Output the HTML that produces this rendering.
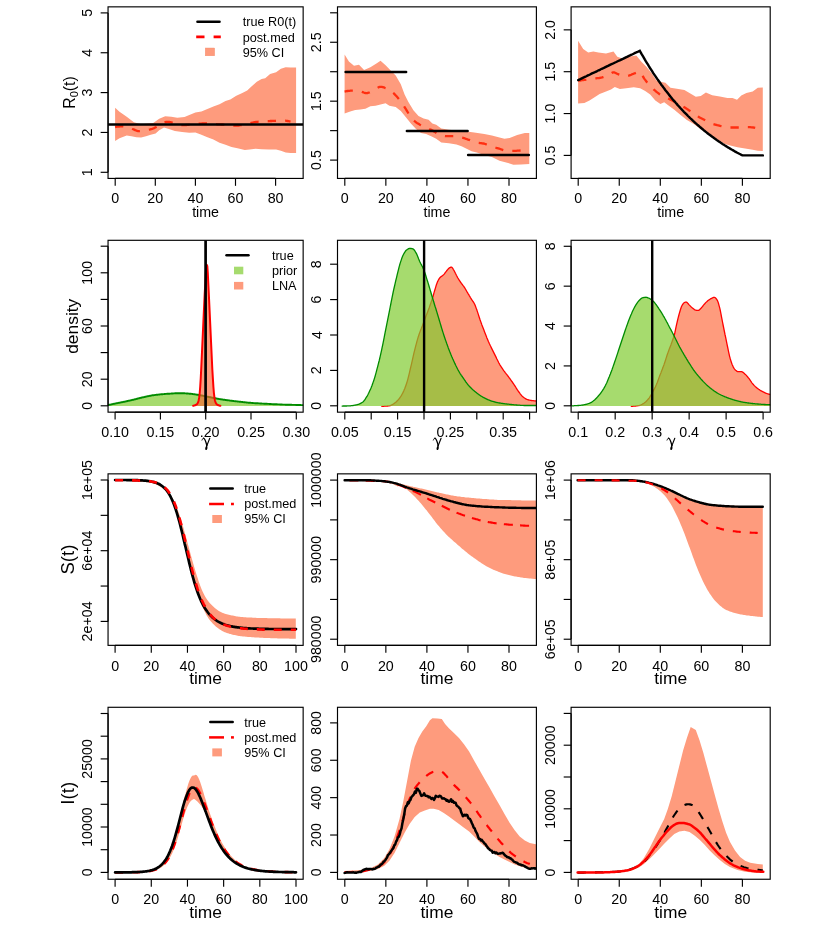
<!DOCTYPE html>
<html><head><meta charset="utf-8"><title>SIR inference plots</title>
<style>html,body{margin:0;padding:0;background:#fff;}body{width:830px;height:934px;overflow:hidden;font-family:"Liberation Sans",sans-serif;}svg{display:block;will-change:transform;}</style>
</head><body>
<svg width="830" height="934" viewBox="0 0 830 934">
<rect width="830" height="934" fill="#fff"/>
<defs>
<clipPath id="c00"><rect x="108.05" y="6.85" width="195.10" height="171.58"/></clipPath>
<clipPath id="c10"><rect x="108.05" y="240.30" width="195.10" height="171.87"/></clipPath>
<clipPath id="c20"><rect x="108.05" y="473.85" width="195.10" height="171.51"/></clipPath>
<clipPath id="c30"><rect x="108.05" y="707.29" width="195.10" height="171.96"/></clipPath>
<clipPath id="c01"><rect x="337.50" y="6.85" width="198.90" height="171.58"/></clipPath>
<clipPath id="c11"><rect x="337.50" y="240.30" width="198.90" height="171.87"/></clipPath>
<clipPath id="c21"><rect x="337.50" y="473.85" width="198.90" height="171.51"/></clipPath>
<clipPath id="c31"><rect x="337.50" y="707.29" width="198.90" height="171.96"/></clipPath>
<clipPath id="c02"><rect x="571.10" y="6.85" width="199.10" height="171.58"/></clipPath>
<clipPath id="c12"><rect x="571.10" y="240.30" width="199.10" height="171.87"/></clipPath>
<clipPath id="c22"><rect x="571.10" y="473.85" width="199.10" height="171.51"/></clipPath>
<clipPath id="c32"><rect x="571.10" y="707.29" width="199.10" height="171.96"/></clipPath>
</defs>
<g clip-path="url(#c00)">
<path d="M115.1 107.8 L119.5 111.7 L126.7 116.7 L133.9 122.3 L141.1 124.2 L153.2 123.0 L159.2 118.7 L165.2 116.3 L171.3 116.7 L177.3 117.7 L184.5 117.0 L189.3 115.1 L195.4 112.4 L201.4 111.4 L207.4 109.0 L213.4 106.6 L219.5 104.2 L225.5 101.1 L230.3 99.4 L236.3 95.8 L242.3 92.9 L247.2 90.5 L252.0 86.1 L256.8 81.8 L261.6 78.9 L265.2 78.2 L270.1 74.1 L276.1 72.2 L280.9 68.8 L285.7 67.3 L290.5 67.6 L296.1 67.6 L296.1 153.1 L290.5 153.1 L285.7 152.4 L280.9 150.7 L276.1 149.5 L268.9 149.5 L261.6 149.3 L255.6 148.8 L249.6 149.5 L244.8 150.0 L237.5 148.3 L231.5 146.9 L225.5 144.7 L219.5 142.8 L213.4 139.6 L207.4 137.2 L201.4 134.8 L195.4 132.4 L189.3 132.7 L182.1 131.9 L174.9 131.0 L168.9 129.0 L164.0 127.6 L159.2 130.2 L155.6 133.4 L150.8 134.8 L146.0 136.3 L141.1 137.5 L136.3 137.2 L131.5 136.3 L126.7 135.5 L119.5 138.2 L115.1 141.1Z" fill="#FE9B7D" stroke="none"/>
<path d="M115.1 127.1 L116.1 126.9 L117.1 126.7 L118.1 126.6 L119.1 126.5 L120.1 126.4 L121.1 126.4 L122.1 126.4 L123.1 126.4 L124.1 126.5 L125.1 126.7 L126.1 126.9 L127.1 127.1 L128.2 127.4 L129.2 127.6 L130.2 127.9 L131.2 128.3 L132.2 128.8 L133.2 129.2 L134.2 129.6 L135.2 130.1 L136.2 130.5 L137.2 130.9 L138.2 131.2 L139.2 131.2 L140.2 131.1 L141.2 131.0 L142.2 130.9 L143.2 130.7 L144.2 130.6 L145.2 130.4 L146.2 130.2 L147.2 130.0 L148.2 129.8 L149.2 129.6 L150.2 129.4 L151.2 129.1 L152.2 128.9 L153.2 128.5 L154.2 128.1 L155.2 127.5 L156.2 126.9 L157.2 126.2 L158.2 125.5 L159.2 124.8 L160.2 124.3 L161.2 123.9 L162.2 123.4 L163.2 123.0 L164.2 122.5 L165.2 122.2 L166.2 122.0 L167.2 121.8 L168.2 121.8 L169.3 122.0 L170.3 122.2 L171.3 122.4 L172.3 122.7 L173.3 123.1 L174.3 123.3 L175.3 123.6 L176.3 123.9 L177.3 124.2 L178.3 124.5 L179.3 124.8 L180.3 125.0 L181.3 125.1 L182.3 125.2 L183.3 125.2 L184.3 125.1 L185.3 125.1 L186.3 125.0 L187.3 124.9 L188.3 124.8 L189.3 124.7 L190.3 124.6 L191.3 124.4 L192.3 124.3 L193.3 124.1 L194.3 124.0 L195.3 123.8 L196.3 123.7 L197.3 123.7 L198.3 123.7 L199.3 123.6 L200.3 123.6 L201.3 123.6 L202.3 123.5 L203.3 123.5 L204.3 123.5 L205.3 123.5 L206.3 123.5 L207.3 123.5 L208.3 123.6 L209.3 123.6 L210.3 123.7 L211.4 123.8 L212.4 123.9 L213.4 124.0 L214.4 124.1 L215.4 124.2 L216.4 124.2 L217.4 124.3 L218.4 124.3 L219.4 124.4 L220.4 124.4 L221.4 124.5 L222.4 124.5 L223.4 124.6 L224.4 124.6 L225.4 124.7 L226.4 124.8 L227.4 124.9 L228.4 125.0 L229.4 125.1 L230.4 125.3 L231.4 125.4 L232.4 125.5 L233.4 125.6 L234.4 125.7 L235.4 125.7 L236.4 125.6 L237.4 125.6 L238.4 125.5 L239.4 125.3 L240.4 125.2 L241.4 125.1 L242.4 124.9 L243.4 124.8 L244.4 124.5 L245.4 124.3 L246.4 124.0 L247.4 123.8 L248.4 123.5 L249.4 123.3 L250.4 123.1 L251.4 122.8 L252.5 122.6 L253.5 122.4 L254.5 122.1 L255.5 122.0 L256.5 121.8 L257.5 121.8 L258.5 121.7 L259.5 121.6 L260.5 121.6 L261.5 121.5 L262.5 121.5 L263.5 121.5 L264.5 121.4 L265.5 121.4 L266.5 121.3 L267.5 121.3 L268.5 121.2 L269.5 121.1 L270.5 121.0 L271.5 121.0 L272.5 120.9 L273.5 120.9 L274.5 120.8 L275.5 120.8 L276.5 120.7 L277.5 120.7 L278.5 120.7 L279.5 120.7 L280.5 120.6 L281.5 120.6 L282.5 120.6 L283.5 120.6 L284.5 120.6 L285.5 120.7 L286.5 120.8 L287.5 121.0 L288.5 121.2 L289.5 121.4 L290.5 121.6" fill="none" stroke="#FF2E10" stroke-width="2.30" stroke-linecap="butt" stroke-linejoin="round" stroke-dasharray="8.3 9.1"/>
<path d="M108.0 124.5 L303.1 124.5" fill="none" stroke="#000" stroke-width="2.70" stroke-linecap="butt" stroke-linejoin="round"/>
</g>
<rect x="108.05" y="6.85" width="195.10" height="171.58" fill="none" stroke="#000" stroke-width="1.15"/>
<line x1="115.20" y1="178.43" x2="275.60" y2="178.43" stroke="#000" stroke-width="1.15"/>
<line x1="115.20" y1="178.43" x2="115.20" y2="185.83" stroke="#000" stroke-width="1.15"/>
<line x1="155.30" y1="178.43" x2="155.30" y2="185.83" stroke="#000" stroke-width="1.15"/>
<line x1="195.40" y1="178.43" x2="195.40" y2="185.83" stroke="#000" stroke-width="1.15"/>
<line x1="235.50" y1="178.43" x2="235.50" y2="185.83" stroke="#000" stroke-width="1.15"/>
<line x1="275.60" y1="178.43" x2="275.60" y2="185.83" stroke="#000" stroke-width="1.15"/>
<text x="115.20" y="203.03" font-size="14.26" text-anchor="middle" font-family="'Liberation Sans', sans-serif" fill="#000">0</text>
<text x="155.30" y="203.03" font-size="14.26" text-anchor="middle" font-family="'Liberation Sans', sans-serif" fill="#000">20</text>
<text x="195.40" y="203.03" font-size="14.26" text-anchor="middle" font-family="'Liberation Sans', sans-serif" fill="#000">40</text>
<text x="235.50" y="203.03" font-size="14.26" text-anchor="middle" font-family="'Liberation Sans', sans-serif" fill="#000">60</text>
<text x="275.60" y="203.03" font-size="14.26" text-anchor="middle" font-family="'Liberation Sans', sans-serif" fill="#000">80</text>
<line x1="108.05" y1="12.90" x2="108.05" y2="172.30" stroke="#000" stroke-width="1.15"/>
<line x1="100.65" y1="172.30" x2="108.05" y2="172.30" stroke="#000" stroke-width="1.15"/>
<line x1="100.65" y1="132.45" x2="108.05" y2="132.45" stroke="#000" stroke-width="1.15"/>
<line x1="100.65" y1="92.60" x2="108.05" y2="92.60" stroke="#000" stroke-width="1.15"/>
<line x1="100.65" y1="52.75" x2="108.05" y2="52.75" stroke="#000" stroke-width="1.15"/>
<line x1="100.65" y1="12.90" x2="108.05" y2="12.90" stroke="#000" stroke-width="1.15"/>
<text x="92.05" y="172.30" font-size="14.26" text-anchor="middle" font-family="'Liberation Sans', sans-serif" fill="#000" transform="rotate(-90 92.05 172.30)">1</text>
<text x="92.05" y="132.45" font-size="14.26" text-anchor="middle" font-family="'Liberation Sans', sans-serif" fill="#000" transform="rotate(-90 92.05 132.45)">2</text>
<text x="92.05" y="92.60" font-size="14.26" text-anchor="middle" font-family="'Liberation Sans', sans-serif" fill="#000" transform="rotate(-90 92.05 92.60)">3</text>
<text x="92.05" y="52.75" font-size="14.26" text-anchor="middle" font-family="'Liberation Sans', sans-serif" fill="#000" transform="rotate(-90 92.05 52.75)">4</text>
<text x="92.05" y="12.90" font-size="14.26" text-anchor="middle" font-family="'Liberation Sans', sans-serif" fill="#000" transform="rotate(-90 92.05 12.90)">5</text>
<text x="205.60" y="217.33" font-size="14.26" text-anchor="middle" font-family="'Liberation Sans', sans-serif" fill="#000">time</text>
<text x="74.8" y="92.5" font-size="15.84" text-anchor="middle" font-family="'Liberation Sans', sans-serif" transform="rotate(-90 74.8 92.5)">R<tspan font-size="11.09" dy="3.2">0</tspan><tspan dy="-3.2">(t)</tspan></text>
<path d="M197.5 21.8 L219.5 21.8" fill="none" stroke="#000" stroke-width="2.60" stroke-linecap="round" stroke-linejoin="round"/>
<text x="242.70" y="26.40" font-size="12.67" text-anchor="start" font-family="'Liberation Sans', sans-serif" fill="#000">true R0(t)</text>
<path d="M196.2 36.9 L220.8 36.9" fill="none" stroke="#FF0000" stroke-width="2.60" stroke-linecap="butt" stroke-linejoin="round" stroke-dasharray="8.3 9.1"/>
<text x="242.70" y="41.50" font-size="12.67" text-anchor="start" font-family="'Liberation Sans', sans-serif" fill="#000">post.med</text>
<rect x="205.25" y="48.00" width="9.4" height="7.8" fill="#FE9B7D" stroke="#F58C6C" stroke-width="0.4"/>
<text x="242.70" y="56.60" font-size="12.67" text-anchor="start" font-family="'Liberation Sans', sans-serif" fill="#000">95% CI</text>
<g clip-path="url(#c01)">
<path d="M344.6 54.4 L348.9 61.5 L354.0 65.8 L359.0 64.8 L364.1 69.9 L370.4 67.3 L376.8 63.3 L380.5 60.7 L385.6 65.3 L390.7 70.4 L395.7 75.4 L400.8 84.3 L404.6 94.4 L408.4 102.0 L413.4 110.3 L418.5 115.9 L423.6 118.4 L428.6 119.7 L432.4 123.5 L436.2 124.8 L441.3 128.6 L448.9 129.8 L456.5 130.6 L466.6 131.6 L474.2 132.4 L484.3 134.1 L491.9 135.6 L499.5 137.4 L504.5 138.7 L509.6 137.9 L517.2 134.9 L524.8 133.1 L529.3 133.1 L529.3 164.0 L521.0 164.5 L513.4 164.7 L507.1 162.7 L499.5 160.7 L491.9 156.9 L484.3 155.1 L476.7 152.6 L471.6 151.3 L466.6 148.8 L461.5 146.3 L456.5 144.5 L448.9 143.2 L441.3 142.5 L436.2 138.7 L431.2 136.2 L426.1 134.1 L421.0 133.1 L416.0 129.1 L410.9 123.5 L405.9 117.2 L400.8 110.9 L395.7 107.1 L389.4 105.8 L385.6 103.3 L380.5 104.5 L375.5 105.8 L370.4 106.3 L365.4 108.8 L360.3 109.6 L355.2 110.1 L350.2 111.6 L344.6 113.4Z" fill="#FE9B7D" stroke="none"/>
<path d="M344.6 91.6 L345.6 91.4 L346.6 91.2 L347.6 91.0 L348.6 90.9 L349.6 90.8 L350.6 90.7 L351.6 90.6 L352.6 90.6 L353.7 90.6 L354.7 90.7 L355.7 90.8 L356.7 90.9 L357.7 91.0 L358.7 91.1 L359.7 91.3 L360.7 91.4 L361.7 91.7 L362.7 92.1 L363.7 92.5 L364.7 92.8 L365.7 93.1 L366.7 93.1 L367.7 93.0 L368.7 92.7 L369.7 92.3 L370.7 91.7 L371.7 91.2 L372.7 90.7 L373.7 90.2 L374.7 89.6 L375.7 89.0 L376.7 88.3 L377.7 87.7 L378.7 87.2 L379.8 86.9 L380.8 86.8 L381.8 86.9 L382.8 87.1 L383.8 87.4 L384.8 87.8 L385.8 88.1 L386.8 88.6 L387.8 89.1 L388.8 89.7 L389.8 90.3 L390.8 91.0 L391.8 91.8 L392.8 92.6 L393.8 93.4 L394.8 94.4 L395.8 95.5 L396.8 96.6 L397.8 97.7 L398.8 98.9 L399.8 100.2 L400.8 101.5 L401.8 103.0 L402.8 104.4 L403.8 105.9 L404.8 107.5 L405.9 109.1 L406.9 110.8 L407.9 112.5 L408.9 114.2 L409.9 115.8 L410.9 117.1 L411.9 118.3 L412.9 119.4 L413.9 120.5 L414.9 121.4 L415.9 122.2 L416.9 122.9 L417.9 123.5 L418.9 124.1 L419.9 124.7 L420.9 125.2 L421.9 125.7 L422.9 126.2 L423.9 126.7 L424.9 127.2 L425.9 127.6 L426.9 128.0 L427.9 128.4 L428.9 128.8 L429.9 129.3 L431.0 129.7 L432.0 130.2 L433.0 130.8 L434.0 131.5 L435.0 132.1 L436.0 132.7 L437.0 133.3 L438.0 133.8 L439.0 134.2 L440.0 134.6 L441.0 135.0 L442.0 135.3 L443.0 135.6 L444.0 135.9 L445.0 136.1 L446.0 136.1 L447.0 136.2 L448.0 136.2 L449.0 136.2 L450.0 136.2 L451.0 136.2 L452.0 136.2 L453.0 136.2 L454.0 136.2 L455.0 136.2 L456.0 136.3 L457.1 136.5 L458.1 136.6 L459.1 136.9 L460.1 137.1 L461.1 137.3 L462.1 137.6 L463.1 137.8 L464.1 138.1 L465.1 138.5 L466.1 138.9 L467.1 139.2 L468.1 139.6 L469.1 139.9 L470.1 140.3 L471.1 140.7 L472.1 141.0 L473.1 141.4 L474.1 141.7 L475.1 142.1 L476.1 142.3 L477.1 142.6 L478.1 142.8 L479.1 142.9 L480.1 143.1 L481.1 143.2 L482.1 143.4 L483.2 143.5 L484.2 143.7 L485.2 144.0 L486.2 144.3 L487.2 144.6 L488.2 144.9 L489.2 145.3 L490.2 145.7 L491.2 146.0 L492.2 146.4 L493.2 146.7 L494.2 147.1 L495.2 147.4 L496.2 147.8 L497.2 148.1 L498.2 148.4 L499.2 148.7 L500.2 149.0 L501.2 149.4 L502.2 149.7 L503.2 150.1 L504.2 150.4 L505.2 150.6 L506.2 150.8 L507.2 150.8 L508.3 150.8 L509.3 150.8 L510.3 150.8 L511.3 150.8 L512.3 150.8 L513.3 150.8 L514.3 150.8 L515.3 150.8 L516.3 150.8 L517.3 150.7 L518.3 150.7 L519.3 150.6 L520.3 150.5 L521.3 150.4 L522.3 150.3 L523.3 150.3 L524.3 150.2 L525.3 150.1 L526.3 150.0 L527.3 150.0 L528.3 149.9 L529.3 149.8" fill="none" stroke="#FF2E10" stroke-width="2.30" stroke-linecap="butt" stroke-linejoin="round" stroke-dasharray="8.3 9.1"/>
<path d="M345.6 72.1 L406.1 72.1" fill="none" stroke="#000" stroke-width="2.50" stroke-linecap="round" stroke-linejoin="round"/>
<path d="M406.9 131.1 L467.6 131.1" fill="none" stroke="#000" stroke-width="2.50" stroke-linecap="round" stroke-linejoin="round"/>
<path d="M468.1 154.9 L528.8 154.9" fill="none" stroke="#000" stroke-width="2.50" stroke-linecap="round" stroke-linejoin="round"/>
</g>
<rect x="337.50" y="6.85" width="198.90" height="171.58" fill="none" stroke="#000" stroke-width="1.15"/>
<line x1="344.80" y1="178.43" x2="509.00" y2="178.43" stroke="#000" stroke-width="1.15"/>
<line x1="344.80" y1="178.43" x2="344.80" y2="185.83" stroke="#000" stroke-width="1.15"/>
<line x1="385.85" y1="178.43" x2="385.85" y2="185.83" stroke="#000" stroke-width="1.15"/>
<line x1="426.90" y1="178.43" x2="426.90" y2="185.83" stroke="#000" stroke-width="1.15"/>
<line x1="467.95" y1="178.43" x2="467.95" y2="185.83" stroke="#000" stroke-width="1.15"/>
<line x1="509.00" y1="178.43" x2="509.00" y2="185.83" stroke="#000" stroke-width="1.15"/>
<text x="344.80" y="203.03" font-size="14.26" text-anchor="middle" font-family="'Liberation Sans', sans-serif" fill="#000">0</text>
<text x="385.85" y="203.03" font-size="14.26" text-anchor="middle" font-family="'Liberation Sans', sans-serif" fill="#000">20</text>
<text x="426.90" y="203.03" font-size="14.26" text-anchor="middle" font-family="'Liberation Sans', sans-serif" fill="#000">40</text>
<text x="467.95" y="203.03" font-size="14.26" text-anchor="middle" font-family="'Liberation Sans', sans-serif" fill="#000">60</text>
<text x="509.00" y="203.03" font-size="14.26" text-anchor="middle" font-family="'Liberation Sans', sans-serif" fill="#000">80</text>
<line x1="337.50" y1="12.80" x2="337.50" y2="160.10" stroke="#000" stroke-width="1.15"/>
<line x1="330.10" y1="160.10" x2="337.50" y2="160.10" stroke="#000" stroke-width="1.15"/>
<line x1="330.10" y1="130.64" x2="337.50" y2="130.64" stroke="#000" stroke-width="1.15"/>
<line x1="330.10" y1="101.18" x2="337.50" y2="101.18" stroke="#000" stroke-width="1.15"/>
<line x1="330.10" y1="71.72" x2="337.50" y2="71.72" stroke="#000" stroke-width="1.15"/>
<line x1="330.10" y1="42.26" x2="337.50" y2="42.26" stroke="#000" stroke-width="1.15"/>
<line x1="330.10" y1="12.80" x2="337.50" y2="12.80" stroke="#000" stroke-width="1.15"/>
<text x="321.50" y="160.10" font-size="14.26" text-anchor="middle" font-family="'Liberation Sans', sans-serif" fill="#000" transform="rotate(-90 321.50 160.10)">0.5</text>
<text x="321.50" y="101.18" font-size="14.26" text-anchor="middle" font-family="'Liberation Sans', sans-serif" fill="#000" transform="rotate(-90 321.50 101.18)">1.5</text>
<text x="321.50" y="42.26" font-size="14.26" text-anchor="middle" font-family="'Liberation Sans', sans-serif" fill="#000" transform="rotate(-90 321.50 42.26)">2.5</text>
<text x="436.95" y="217.33" font-size="14.26" text-anchor="middle" font-family="'Liberation Sans', sans-serif" fill="#000">time</text>
<g clip-path="url(#c02)">
<path d="M578.1 40.7 L583.2 49.1 L588.2 52.4 L593.3 51.4 L598.4 52.4 L606.0 53.4 L613.5 51.4 L617.3 56.7 L622.4 58.5 L628.7 56.7 L636.3 55.4 L641.4 61.8 L646.4 66.8 L651.5 73.1 L656.6 80.7 L661.6 82.0 L665.4 82.8 L670.5 87.8 L676.8 88.8 L684.4 90.1 L689.5 92.9 L695.8 96.7 L700.8 95.9 L705.9 92.6 L712.2 95.2 L719.8 96.4 L727.4 97.9 L732.5 97.9 L737.0 99.7 L741.3 95.4 L746.4 92.9 L752.7 91.4 L757.8 87.8 L762.8 87.6 L762.8 151.1 L757.8 150.8 L752.7 149.8 L745.1 148.5 L737.5 147.3 L731.2 145.8 L724.9 144.0 L718.6 140.2 L712.2 136.4 L705.9 132.6 L699.6 128.3 L693.3 123.7 L686.9 119.9 L680.6 114.9 L674.3 109.8 L669.2 106.0 L664.2 102.2 L660.4 104.0 L655.3 100.5 L650.2 94.6 L645.2 90.9 L640.1 88.3 L633.8 87.3 L626.2 88.3 L619.9 89.1 L614.8 87.1 L611.0 89.6 L606.0 91.6 L599.6 94.1 L594.6 97.2 L589.5 100.5 L584.4 103.0 L578.1 103.5Z" fill="#FE9B7D" stroke="none"/>
<path d="M578.1 80.7 L579.1 80.6 L580.1 80.5 L581.1 80.3 L582.1 80.2 L583.1 80.1 L584.1 79.9 L585.1 79.8 L586.1 79.7 L587.1 79.5 L588.1 79.4 L589.1 79.3 L590.1 79.1 L591.1 79.0 L592.1 78.9 L593.1 78.7 L594.1 78.6 L595.1 78.5 L596.1 78.4 L597.1 78.2 L598.1 78.1 L599.1 78.0 L600.1 77.8 L601.1 77.6 L602.1 77.4 L603.1 77.1 L604.1 76.8 L605.1 76.5 L606.1 76.1 L607.1 75.7 L608.1 75.3 L609.1 74.8 L610.1 74.1 L611.1 73.4 L612.1 72.8 L613.1 72.4 L614.1 72.4 L615.1 72.8 L616.1 73.2 L617.1 73.8 L618.1 74.2 L619.2 74.6 L620.2 74.9 L621.2 75.2 L622.2 75.5 L623.2 75.8 L624.2 76.0 L625.2 76.1 L626.2 76.2 L627.2 76.1 L628.2 75.9 L629.2 75.5 L630.2 75.1 L631.2 74.7 L632.2 74.2 L633.2 73.9 L634.2 73.5 L635.2 73.2 L636.2 72.8 L637.2 72.4 L638.2 72.1 L639.2 71.9 L640.2 71.9 L641.2 72.8 L642.2 74.7 L643.2 76.9 L644.2 78.6 L645.2 79.9 L646.2 81.2 L647.2 82.5 L648.2 83.6 L649.2 84.7 L650.2 85.8 L651.2 86.9 L652.2 87.9 L653.2 88.9 L654.2 89.9 L655.2 90.7 L656.2 91.6 L657.2 92.4 L658.2 93.1 L659.2 93.9 L660.2 94.5 L661.2 95.1 L662.2 95.7 L663.2 96.2 L664.2 96.7 L665.2 97.1 L666.2 97.6 L667.2 98.0 L668.2 98.5 L669.2 98.9 L670.2 99.4 L671.2 100.0 L672.2 100.5 L673.2 101.0 L674.2 101.6 L675.2 102.1 L676.2 102.7 L677.2 103.2 L678.2 103.8 L679.2 104.3 L680.2 104.9 L681.2 105.4 L682.2 106.0 L683.2 106.6 L684.2 107.2 L685.2 107.8 L686.2 108.4 L687.2 109.1 L688.2 109.8 L689.2 110.5 L690.2 111.1 L691.2 111.8 L692.2 112.5 L693.2 113.2 L694.2 113.9 L695.2 114.6 L696.2 115.3 L697.2 115.9 L698.2 116.6 L699.2 117.2 L700.2 117.8 L701.2 118.3 L702.2 118.8 L703.2 119.3 L704.2 119.8 L705.2 120.3 L706.2 120.8 L707.2 121.2 L708.2 121.7 L709.2 122.2 L710.2 122.7 L711.2 123.1 L712.2 123.6 L713.2 124.0 L714.2 124.3 L715.2 124.6 L716.2 124.9 L717.2 125.2 L718.2 125.4 L719.2 125.6 L720.2 125.9 L721.2 126.1 L722.2 126.3 L723.2 126.5 L724.2 126.7 L725.2 126.9 L726.2 127.1 L727.2 127.3 L728.2 127.4 L729.2 127.5 L730.2 127.5 L731.2 127.5 L732.2 127.5 L733.2 127.5 L734.2 127.5 L735.2 127.5 L736.2 127.5 L737.2 127.5 L738.2 127.5 L739.2 127.5 L740.2 127.4 L741.2 127.3 L742.2 127.2 L743.2 127.1 L744.2 127.1 L745.2 127.0 L746.2 127.0 L747.2 127.1 L748.2 127.1 L749.2 127.2 L750.2 127.2 L751.2 127.3 L752.2 127.4 L753.2 127.5 L754.2 127.6 L755.2 127.8" fill="none" stroke="#FF2E10" stroke-width="2.30" stroke-linecap="butt" stroke-linejoin="round" stroke-dasharray="8.3 9.1"/>
<path d="M578.2 80.1 L579.2 79.6 L580.3 79.1 L581.3 78.6 L582.3 78.1 L583.3 77.6 L584.4 77.1 L585.4 76.7 L586.4 76.2 L587.4 75.7 L588.5 75.2 L589.5 74.7 L590.5 74.2 L591.5 73.7 L592.6 73.2 L593.6 72.7 L594.6 72.3 L595.6 71.8 L596.7 71.3 L597.7 70.8 L598.7 70.3 L599.8 69.8 L600.8 69.3 L601.8 68.8 L602.8 68.4 L603.9 67.9 L604.9 67.4 L605.9 66.9 L606.9 66.4 L608.0 65.9 L609.0 65.4 L610.0 64.9 L611.0 64.4 L612.1 64.0 L613.1 63.5 L614.1 63.0 L615.1 62.5 L616.2 62.0 L617.2 61.5 L618.2 61.0 L619.2 60.5 L620.3 60.1 L621.3 59.6 L622.3 59.1 L623.4 58.6 L624.4 58.1 L625.4 57.6 L626.4 57.1 L627.5 56.6 L628.5 56.1 L629.5 55.7 L630.5 55.2 L631.6 54.7 L632.6 54.2 L633.6 53.7 L634.6 53.2 L635.7 52.7 L636.7 52.2 L637.7 51.8 L638.7 51.3 L639.8 50.8 L640.8 52.6 L641.8 54.4 L642.9 56.2 L643.9 57.9 L644.9 59.7 L645.9 61.4 L647.0 63.1 L648.0 64.7 L649.0 66.4 L650.0 68.0 L651.1 69.6 L652.1 71.2 L653.1 72.8 L654.1 74.3 L655.2 75.9 L656.2 77.4 L657.2 78.9 L658.2 80.3 L659.3 81.8 L660.3 83.2 L661.3 84.7 L662.4 86.1 L663.4 87.4 L664.4 88.8 L665.4 90.2 L666.5 91.5 L667.5 92.8 L668.5 94.1 L669.5 95.4 L670.6 96.7 L671.6 97.9 L672.6 99.2 L673.6 100.4 L674.7 101.6 L675.7 102.8 L676.7 103.9 L677.7 105.1 L678.8 106.3 L679.8 107.4 L680.8 108.5 L681.9 109.6 L682.9 110.7 L683.9 111.8 L684.9 112.8 L686.0 113.9 L687.0 114.9 L688.0 116.0 L689.0 117.0 L690.1 118.0 L691.1 119.0 L692.1 119.9 L693.1 120.9 L694.2 121.8 L695.2 122.8 L696.2 123.7 L697.2 124.6 L698.3 125.5 L699.3 126.4 L700.3 127.3 L701.4 128.2 L702.4 129.0 L703.4 129.9 L704.4 130.7 L705.5 131.6 L706.5 132.4 L707.5 133.2 L708.5 134.0 L709.6 134.8 L710.6 135.5 L711.6 136.3 L712.6 137.1 L713.7 137.8 L714.7 138.6 L715.7 139.3 L716.7 140.0 L717.8 140.7 L718.8 141.4 L719.8 142.1 L720.8 142.8 L721.9 143.5 L722.9 144.2 L723.9 144.8 L725.0 145.5 L726.0 146.1 L727.0 146.7 L728.0 147.4 L729.1 148.0 L730.1 148.6 L731.1 149.2 L732.1 149.8 L733.2 150.4 L734.2 151.0 L735.2 151.6 L736.2 152.1 L737.3 152.7 L738.3 153.2 L739.3 153.8 L740.3 154.3 L741.4 154.9 L742.4 155.4 L743.4 155.4 L744.5 155.4 L745.5 155.4 L746.5 155.4 L747.5 155.4 L748.6 155.4 L749.6 155.4 L750.6 155.4 L751.6 155.4 L752.7 155.4 L753.7 155.4 L754.7 155.4 L755.7 155.4 L756.8 155.4 L757.8 155.4 L758.8 155.4 L759.8 155.4 L760.9 155.4 L761.9 155.4 L762.9 155.4" fill="none" stroke="#000" stroke-width="2.40" stroke-linecap="round" stroke-linejoin="miter"/>
</g>
<rect x="571.10" y="6.85" width="199.10" height="171.58" fill="none" stroke="#000" stroke-width="1.15"/>
<line x1="578.20" y1="178.43" x2="742.40" y2="178.43" stroke="#000" stroke-width="1.15"/>
<line x1="578.20" y1="178.43" x2="578.20" y2="185.83" stroke="#000" stroke-width="1.15"/>
<line x1="619.25" y1="178.43" x2="619.25" y2="185.83" stroke="#000" stroke-width="1.15"/>
<line x1="660.30" y1="178.43" x2="660.30" y2="185.83" stroke="#000" stroke-width="1.15"/>
<line x1="701.35" y1="178.43" x2="701.35" y2="185.83" stroke="#000" stroke-width="1.15"/>
<line x1="742.40" y1="178.43" x2="742.40" y2="185.83" stroke="#000" stroke-width="1.15"/>
<text x="578.20" y="203.03" font-size="14.26" text-anchor="middle" font-family="'Liberation Sans', sans-serif" fill="#000">0</text>
<text x="619.25" y="203.03" font-size="14.26" text-anchor="middle" font-family="'Liberation Sans', sans-serif" fill="#000">20</text>
<text x="660.30" y="203.03" font-size="14.26" text-anchor="middle" font-family="'Liberation Sans', sans-serif" fill="#000">40</text>
<text x="701.35" y="203.03" font-size="14.26" text-anchor="middle" font-family="'Liberation Sans', sans-serif" fill="#000">60</text>
<text x="742.40" y="203.03" font-size="14.26" text-anchor="middle" font-family="'Liberation Sans', sans-serif" fill="#000">80</text>
<line x1="571.10" y1="29.85" x2="571.10" y2="155.40" stroke="#000" stroke-width="1.15"/>
<line x1="563.70" y1="155.40" x2="571.10" y2="155.40" stroke="#000" stroke-width="1.15"/>
<line x1="563.70" y1="113.55" x2="571.10" y2="113.55" stroke="#000" stroke-width="1.15"/>
<line x1="563.70" y1="71.70" x2="571.10" y2="71.70" stroke="#000" stroke-width="1.15"/>
<line x1="563.70" y1="29.85" x2="571.10" y2="29.85" stroke="#000" stroke-width="1.15"/>
<text x="555.10" y="155.40" font-size="14.26" text-anchor="middle" font-family="'Liberation Sans', sans-serif" fill="#000" transform="rotate(-90 555.10 155.40)">0.5</text>
<text x="555.10" y="113.55" font-size="14.26" text-anchor="middle" font-family="'Liberation Sans', sans-serif" fill="#000" transform="rotate(-90 555.10 113.55)">1.0</text>
<text x="555.10" y="71.70" font-size="14.26" text-anchor="middle" font-family="'Liberation Sans', sans-serif" fill="#000" transform="rotate(-90 555.10 71.70)">1.5</text>
<text x="555.10" y="29.85" font-size="14.26" text-anchor="middle" font-family="'Liberation Sans', sans-serif" fill="#000" transform="rotate(-90 555.10 29.85)">2.0</text>
<text x="670.65" y="217.33" font-size="14.26" text-anchor="middle" font-family="'Liberation Sans', sans-serif" fill="#000">time</text>
<g clip-path="url(#c10)">
<path d="M105.0 405.9 L105.0 405.4 L105.5 405.3 L106.0 405.3 L106.5 405.2 L107.0 405.2 L107.5 405.1 L108.0 405.0 L108.5 405.0 L109.0 404.9 L109.5 404.8 L110.0 404.7 L110.5 404.6 L111.0 404.5 L111.5 404.4 L112.0 404.2 L112.5 404.1 L113.0 404.0 L113.5 403.9 L114.0 403.8 L114.5 403.7 L115.0 403.6 L115.5 403.5 L116.0 403.4 L116.5 403.3 L117.0 403.2 L117.5 403.1 L118.0 403.0 L118.5 402.9 L119.0 402.8 L119.5 402.7 L120.0 402.6 L120.5 402.5 L121.0 402.4 L121.5 402.3 L122.0 402.2 L122.5 402.1 L123.0 402.0 L123.5 401.9 L124.0 401.8 L124.5 401.7 L125.0 401.6 L125.5 401.5 L126.0 401.4 L126.5 401.3 L127.0 401.2 L127.5 401.0 L128.0 400.9 L128.5 400.8 L129.0 400.7 L129.5 400.6 L130.0 400.5 L130.5 400.4 L131.0 400.3 L131.5 400.1 L132.0 400.0 L132.5 399.9 L133.0 399.8 L133.5 399.7 L134.0 399.6 L134.5 399.4 L135.0 399.3 L135.5 399.2 L136.0 399.1 L136.5 398.9 L137.0 398.8 L137.5 398.7 L138.0 398.5 L138.5 398.4 L139.0 398.3 L139.5 398.2 L140.0 398.0 L140.5 397.9 L141.0 397.8 L141.5 397.7 L142.0 397.5 L142.5 397.4 L143.0 397.3 L143.5 397.2 L144.0 397.1 L144.5 397.0 L145.0 396.8 L145.5 396.7 L146.0 396.6 L146.5 396.5 L147.0 396.4 L147.5 396.3 L148.0 396.2 L148.5 396.1 L149.0 396.0 L149.5 395.9 L150.0 395.8 L150.5 395.7 L151.0 395.6 L151.5 395.5 L152.0 395.4 L152.5 395.3 L153.0 395.3 L153.5 395.2 L154.0 395.1 L154.5 395.1 L155.0 395.0 L155.5 394.9 L156.0 394.9 L156.5 394.8 L157.0 394.7 L157.5 394.7 L158.0 394.6 L158.5 394.6 L159.0 394.5 L159.5 394.5 L160.0 394.4 L160.5 394.4 L161.0 394.3 L161.5 394.3 L162.0 394.2 L162.5 394.2 L163.0 394.1 L163.5 394.1 L164.0 394.1 L164.5 394.0 L165.0 394.0 L165.5 393.9 L166.0 393.9 L166.5 393.9 L167.0 393.8 L167.5 393.8 L168.0 393.8 L168.5 393.7 L169.0 393.7 L169.5 393.7 L170.0 393.6 L170.5 393.6 L171.0 393.6 L171.5 393.5 L172.0 393.5 L172.5 393.5 L173.0 393.5 L173.5 393.4 L174.0 393.4 L174.5 393.4 L175.0 393.3 L175.5 393.3 L176.0 393.3 L176.5 393.3 L177.0 393.2 L177.5 393.2 L178.0 393.2 L178.5 393.2 L179.0 393.2 L179.5 393.2 L180.0 393.2 L180.5 393.2 L181.0 393.2 L181.5 393.2 L182.0 393.2 L182.5 393.2 L183.0 393.3 L183.5 393.3 L184.0 393.3 L184.5 393.3 L185.0 393.4 L185.5 393.4 L186.0 393.4 L186.5 393.5 L187.0 393.5 L187.5 393.5 L188.0 393.5 L188.5 393.6 L189.0 393.6 L189.5 393.7 L190.0 393.7 L190.5 393.8 L191.0 393.8 L191.5 393.9 L192.0 393.9 L192.5 394.0 L193.0 394.1 L193.5 394.1 L194.0 394.2 L194.5 394.3 L195.0 394.4 L195.5 394.4 L196.0 394.5 L196.5 394.6 L197.0 394.7 L197.5 394.8 L198.0 394.8 L198.5 394.9 L199.0 395.0 L199.5 395.1 L200.0 395.2 L200.5 395.3 L201.0 395.4 L201.5 395.5 L202.0 395.5 L202.5 395.6 L203.0 395.8 L203.5 395.9 L204.0 396.0 L204.5 396.1 L205.0 396.2 L205.5 396.3 L206.0 396.4 L206.5 396.5 L207.0 396.6 L207.5 396.7 L208.0 396.8 L208.5 396.9 L209.0 397.0 L209.5 397.1 L210.0 397.2 L210.5 397.3 L211.0 397.4 L211.5 397.5 L212.0 397.6 L212.5 397.7 L213.0 397.8 L213.5 397.9 L214.0 398.0 L214.5 398.1 L215.0 398.2 L215.5 398.3 L216.0 398.4 L216.5 398.5 L217.0 398.6 L217.5 398.7 L218.0 398.8 L218.5 398.9 L219.0 399.0 L219.5 399.1 L220.0 399.1 L220.5 399.2 L221.0 399.3 L221.5 399.4 L222.0 399.5 L222.5 399.5 L223.0 399.6 L223.5 399.7 L224.0 399.8 L224.5 399.8 L225.0 399.9 L225.5 400.0 L226.0 400.0 L226.5 400.1 L227.0 400.2 L227.5 400.2 L228.0 400.3 L228.5 400.4 L229.0 400.4 L229.5 400.5 L230.0 400.6 L230.5 400.6 L231.0 400.7 L231.5 400.8 L232.0 400.8 L232.5 400.9 L233.0 401.0 L233.5 401.0 L234.0 401.1 L234.5 401.1 L235.0 401.2 L235.5 401.2 L236.0 401.3 L236.5 401.4 L237.0 401.4 L237.5 401.5 L238.0 401.5 L238.5 401.6 L239.0 401.6 L239.5 401.7 L240.0 401.8 L240.5 401.8 L241.0 401.9 L241.5 401.9 L242.0 402.0 L242.5 402.0 L243.0 402.1 L243.5 402.1 L244.0 402.2 L244.5 402.2 L245.0 402.3 L245.5 402.4 L246.0 402.4 L246.5 402.5 L247.0 402.5 L247.5 402.6 L248.0 402.6 L248.5 402.7 L249.0 402.7 L249.5 402.7 L250.0 402.8 L250.5 402.8 L251.0 402.9 L251.5 402.9 L252.0 403.0 L252.5 403.0 L253.0 403.0 L253.5 403.1 L254.0 403.1 L254.5 403.1 L255.0 403.2 L255.5 403.2 L256.0 403.2 L256.5 403.3 L257.0 403.3 L257.5 403.3 L258.0 403.3 L258.5 403.4 L259.0 403.4 L259.5 403.4 L260.0 403.5 L260.5 403.5 L261.0 403.5 L261.5 403.5 L262.0 403.6 L262.5 403.6 L263.0 403.6 L263.5 403.6 L264.0 403.7 L264.5 403.7 L265.0 403.7 L265.5 403.8 L266.0 403.8 L266.5 403.8 L267.0 403.8 L267.5 403.9 L268.0 403.9 L268.5 403.9 L269.0 403.9 L269.5 404.0 L270.0 404.0 L270.5 404.0 L271.0 404.0 L271.5 404.1 L272.0 404.1 L272.5 404.1 L273.0 404.2 L273.5 404.2 L274.0 404.2 L274.5 404.2 L275.0 404.2 L275.5 404.3 L276.0 404.3 L276.5 404.3 L277.0 404.3 L277.5 404.4 L278.0 404.4 L278.5 404.4 L279.0 404.4 L279.5 404.4 L280.0 404.5 L280.5 404.5 L281.0 404.5 L281.5 404.5 L282.0 404.5 L282.5 404.6 L283.0 404.6 L283.5 404.6 L284.0 404.6 L284.5 404.6 L285.0 404.6 L285.5 404.7 L286.0 404.7 L286.5 404.7 L287.0 404.7 L287.5 404.7 L288.0 404.7 L288.5 404.8 L289.0 404.8 L289.5 404.8 L290.0 404.8 L290.5 404.8 L291.0 404.8 L291.5 404.8 L292.0 404.9 L292.5 404.9 L293.0 404.9 L293.5 404.9 L294.0 404.9 L294.5 404.9 L295.0 404.9 L295.5 404.9 L296.0 405.0 L296.5 405.0 L297.0 405.0 L297.5 405.0 L298.0 405.0 L298.5 405.0 L299.0 405.0 L299.5 405.0 L300.0 405.0 L300.5 405.0 L301.0 405.1 L301.5 405.1 L302.0 405.1 L302.5 405.1 L303.0 405.1 L303.5 405.1 L304.0 405.1 L304.5 405.1 L305.0 405.1 L305.0 405.9Z" fill="rgb(128,204,48)" fill-opacity="0.70" stroke="none"/>
<path d="M105.0 405.4 L105.5 405.3 L106.0 405.3 L106.5 405.2 L107.0 405.2 L107.5 405.1 L108.0 405.0 L108.5 405.0 L109.0 404.9 L109.5 404.8 L110.0 404.7 L110.5 404.6 L111.0 404.5 L111.5 404.4 L112.0 404.2 L112.5 404.1 L113.0 404.0 L113.5 403.9 L114.0 403.8 L114.5 403.7 L115.0 403.6 L115.5 403.5 L116.0 403.4 L116.5 403.3 L117.0 403.2 L117.5 403.1 L118.0 403.0 L118.5 402.9 L119.0 402.8 L119.5 402.7 L120.0 402.6 L120.5 402.5 L121.0 402.4 L121.5 402.3 L122.0 402.2 L122.5 402.1 L123.0 402.0 L123.5 401.9 L124.0 401.8 L124.5 401.7 L125.0 401.6 L125.5 401.5 L126.0 401.4 L126.5 401.3 L127.0 401.2 L127.5 401.0 L128.0 400.9 L128.5 400.8 L129.0 400.7 L129.5 400.6 L130.0 400.5 L130.5 400.4 L131.0 400.3 L131.5 400.1 L132.0 400.0 L132.5 399.9 L133.0 399.8 L133.5 399.7 L134.0 399.6 L134.5 399.4 L135.0 399.3 L135.5 399.2 L136.0 399.1 L136.5 398.9 L137.0 398.8 L137.5 398.7 L138.0 398.5 L138.5 398.4 L139.0 398.3 L139.5 398.2 L140.0 398.0 L140.5 397.9 L141.0 397.8 L141.5 397.7 L142.0 397.5 L142.5 397.4 L143.0 397.3 L143.5 397.2 L144.0 397.1 L144.5 397.0 L145.0 396.8 L145.5 396.7 L146.0 396.6 L146.5 396.5 L147.0 396.4 L147.5 396.3 L148.0 396.2 L148.5 396.1 L149.0 396.0 L149.5 395.9 L150.0 395.8 L150.5 395.7 L151.0 395.6 L151.5 395.5 L152.0 395.4 L152.5 395.3 L153.0 395.3 L153.5 395.2 L154.0 395.1 L154.5 395.1 L155.0 395.0 L155.5 394.9 L156.0 394.9 L156.5 394.8 L157.0 394.7 L157.5 394.7 L158.0 394.6 L158.5 394.6 L159.0 394.5 L159.5 394.5 L160.0 394.4 L160.5 394.4 L161.0 394.3 L161.5 394.3 L162.0 394.2 L162.5 394.2 L163.0 394.1 L163.5 394.1 L164.0 394.1 L164.5 394.0 L165.0 394.0 L165.5 393.9 L166.0 393.9 L166.5 393.9 L167.0 393.8 L167.5 393.8 L168.0 393.8 L168.5 393.7 L169.0 393.7 L169.5 393.7 L170.0 393.6 L170.5 393.6 L171.0 393.6 L171.5 393.5 L172.0 393.5 L172.5 393.5 L173.0 393.5 L173.5 393.4 L174.0 393.4 L174.5 393.4 L175.0 393.3 L175.5 393.3 L176.0 393.3 L176.5 393.3 L177.0 393.2 L177.5 393.2 L178.0 393.2 L178.5 393.2 L179.0 393.2 L179.5 393.2 L180.0 393.2 L180.5 393.2 L181.0 393.2 L181.5 393.2 L182.0 393.2 L182.5 393.2 L183.0 393.3 L183.5 393.3 L184.0 393.3 L184.5 393.3 L185.0 393.4 L185.5 393.4 L186.0 393.4 L186.5 393.5 L187.0 393.5 L187.5 393.5 L188.0 393.5 L188.5 393.6 L189.0 393.6 L189.5 393.7 L190.0 393.7 L190.5 393.8 L191.0 393.8 L191.5 393.9 L192.0 393.9 L192.5 394.0 L193.0 394.1 L193.5 394.1 L194.0 394.2 L194.5 394.3 L195.0 394.4 L195.5 394.4 L196.0 394.5 L196.5 394.6 L197.0 394.7 L197.5 394.8 L198.0 394.8 L198.5 394.9 L199.0 395.0 L199.5 395.1 L200.0 395.2 L200.5 395.3 L201.0 395.4 L201.5 395.5 L202.0 395.5 L202.5 395.6 L203.0 395.8 L203.5 395.9 L204.0 396.0 L204.5 396.1 L205.0 396.2 L205.5 396.3 L206.0 396.4 L206.5 396.5 L207.0 396.6 L207.5 396.7 L208.0 396.8 L208.5 396.9 L209.0 397.0 L209.5 397.1 L210.0 397.2 L210.5 397.3 L211.0 397.4 L211.5 397.5 L212.0 397.6 L212.5 397.7 L213.0 397.8 L213.5 397.9 L214.0 398.0 L214.5 398.1 L215.0 398.2 L215.5 398.3 L216.0 398.4 L216.5 398.5 L217.0 398.6 L217.5 398.7 L218.0 398.8 L218.5 398.9 L219.0 399.0 L219.5 399.1 L220.0 399.1 L220.5 399.2 L221.0 399.3 L221.5 399.4 L222.0 399.5 L222.5 399.5 L223.0 399.6 L223.5 399.7 L224.0 399.8 L224.5 399.8 L225.0 399.9 L225.5 400.0 L226.0 400.0 L226.5 400.1 L227.0 400.2 L227.5 400.2 L228.0 400.3 L228.5 400.4 L229.0 400.4 L229.5 400.5 L230.0 400.6 L230.5 400.6 L231.0 400.7 L231.5 400.8 L232.0 400.8 L232.5 400.9 L233.0 401.0 L233.5 401.0 L234.0 401.1 L234.5 401.1 L235.0 401.2 L235.5 401.2 L236.0 401.3 L236.5 401.4 L237.0 401.4 L237.5 401.5 L238.0 401.5 L238.5 401.6 L239.0 401.6 L239.5 401.7 L240.0 401.8 L240.5 401.8 L241.0 401.9 L241.5 401.9 L242.0 402.0 L242.5 402.0 L243.0 402.1 L243.5 402.1 L244.0 402.2 L244.5 402.2 L245.0 402.3 L245.5 402.4 L246.0 402.4 L246.5 402.5 L247.0 402.5 L247.5 402.6 L248.0 402.6 L248.5 402.7 L249.0 402.7 L249.5 402.7 L250.0 402.8 L250.5 402.8 L251.0 402.9 L251.5 402.9 L252.0 403.0 L252.5 403.0 L253.0 403.0 L253.5 403.1 L254.0 403.1 L254.5 403.1 L255.0 403.2 L255.5 403.2 L256.0 403.2 L256.5 403.3 L257.0 403.3 L257.5 403.3 L258.0 403.3 L258.5 403.4 L259.0 403.4 L259.5 403.4 L260.0 403.5 L260.5 403.5 L261.0 403.5 L261.5 403.5 L262.0 403.6 L262.5 403.6 L263.0 403.6 L263.5 403.6 L264.0 403.7 L264.5 403.7 L265.0 403.7 L265.5 403.8 L266.0 403.8 L266.5 403.8 L267.0 403.8 L267.5 403.9 L268.0 403.9 L268.5 403.9 L269.0 403.9 L269.5 404.0 L270.0 404.0 L270.5 404.0 L271.0 404.0 L271.5 404.1 L272.0 404.1 L272.5 404.1 L273.0 404.2 L273.5 404.2 L274.0 404.2 L274.5 404.2 L275.0 404.2 L275.5 404.3 L276.0 404.3 L276.5 404.3 L277.0 404.3 L277.5 404.4 L278.0 404.4 L278.5 404.4 L279.0 404.4 L279.5 404.4 L280.0 404.5 L280.5 404.5 L281.0 404.5 L281.5 404.5 L282.0 404.5 L282.5 404.6 L283.0 404.6 L283.5 404.6 L284.0 404.6 L284.5 404.6 L285.0 404.6 L285.5 404.7 L286.0 404.7 L286.5 404.7 L287.0 404.7 L287.5 404.7 L288.0 404.7 L288.5 404.8 L289.0 404.8 L289.5 404.8 L290.0 404.8 L290.5 404.8 L291.0 404.8 L291.5 404.8 L292.0 404.9 L292.5 404.9 L293.0 404.9 L293.5 404.9 L294.0 404.9 L294.5 404.9 L295.0 404.9 L295.5 404.9 L296.0 405.0 L296.5 405.0 L297.0 405.0 L297.5 405.0 L298.0 405.0 L298.5 405.0 L299.0 405.0 L299.5 405.0 L300.0 405.0 L300.5 405.0 L301.0 405.1 L301.5 405.1 L302.0 405.1 L302.5 405.1 L303.0 405.1 L303.5 405.1 L304.0 405.1 L304.5 405.1 L305.0 405.1" fill="none" stroke="#008B00" stroke-width="1.90" stroke-linecap="round" stroke-linejoin="round"/>
<path d="M193.1 405.9 L193.1 405.8 L193.6 405.7 L194.1 405.6 L194.6 405.4 L195.1 405.2 L195.6 405.0 L196.1 404.8 L196.6 404.4 L197.2 403.9 L197.7 403.0 L198.2 401.9 L198.7 400.2 L199.2 397.2 L199.7 393.0 L200.2 386.8 L200.7 378.9 L201.2 369.0 L201.7 358.3 L202.2 347.5 L202.7 336.7 L203.2 325.9 L203.7 315.1 L204.2 304.2 L204.7 293.7 L205.3 283.6 L205.8 273.0 L206.3 266.2 L206.8 264.9 L207.3 266.1 L207.8 273.0 L208.3 283.6 L208.8 293.7 L209.3 304.2 L209.8 315.1 L210.3 325.9 L210.8 336.7 L211.3 347.5 L211.8 358.3 L212.3 369.0 L212.9 378.9 L213.4 386.8 L213.9 393.0 L214.4 397.2 L214.9 400.2 L215.4 401.9 L215.9 403.0 L216.4 403.9 L216.9 404.4 L217.4 404.8 L217.9 405.0 L218.4 405.2 L218.9 405.4 L219.4 405.6 L219.9 405.7 L220.4 405.8 L220.4 405.9Z" fill="rgb(253,94,45)" fill-opacity="0.62" stroke="none"/>
<path d="M193.1 405.8 L193.6 405.7 L194.1 405.6 L194.6 405.4 L195.1 405.2 L195.6 405.0 L196.1 404.8 L196.6 404.4 L197.2 403.9 L197.7 403.0 L198.2 401.9 L198.7 400.2 L199.2 397.2 L199.7 393.0 L200.2 386.8 L200.7 378.9 L201.2 369.0 L201.7 358.3 L202.2 347.5 L202.7 336.7 L203.2 325.9 L203.7 315.1 L204.2 304.2 L204.7 293.7 L205.3 283.6 L205.8 273.0 L206.3 266.2 L206.8 264.9 L207.3 266.1 L207.8 273.0 L208.3 283.6 L208.8 293.7 L209.3 304.2 L209.8 315.1 L210.3 325.9 L210.8 336.7 L211.3 347.5 L211.8 358.3 L212.3 369.0 L212.9 378.9 L213.4 386.8 L213.9 393.0 L214.4 397.2 L214.9 400.2 L215.4 401.9 L215.9 403.0 L216.4 403.9 L216.9 404.4 L217.4 404.8 L217.9 405.0 L218.4 405.2 L218.9 405.4 L219.4 405.6 L219.9 405.7 L220.4 405.8" fill="none" stroke="#FF0000" stroke-width="2.00" stroke-linecap="round" stroke-linejoin="round"/>
<path d="M205.6 240.3 L205.6 412.2" fill="none" stroke="#000" stroke-width="2.70" stroke-linecap="butt" stroke-linejoin="round"/>
</g>
<rect x="108.05" y="240.30" width="195.10" height="171.87" fill="none" stroke="#000" stroke-width="1.15"/>
<line x1="115.10" y1="412.17" x2="296.30" y2="412.17" stroke="#000" stroke-width="1.15"/>
<line x1="115.10" y1="412.17" x2="115.10" y2="419.57" stroke="#000" stroke-width="1.15"/>
<line x1="160.40" y1="412.17" x2="160.40" y2="419.57" stroke="#000" stroke-width="1.15"/>
<line x1="205.70" y1="412.17" x2="205.70" y2="419.57" stroke="#000" stroke-width="1.15"/>
<line x1="251.00" y1="412.17" x2="251.00" y2="419.57" stroke="#000" stroke-width="1.15"/>
<line x1="296.30" y1="412.17" x2="296.30" y2="419.57" stroke="#000" stroke-width="1.15"/>
<text x="115.10" y="436.87" font-size="14.26" text-anchor="middle" font-family="'Liberation Sans', sans-serif" fill="#000">0.10</text>
<text x="160.40" y="436.87" font-size="14.26" text-anchor="middle" font-family="'Liberation Sans', sans-serif" fill="#000">0.15</text>
<text x="205.70" y="436.87" font-size="14.26" text-anchor="middle" font-family="'Liberation Sans', sans-serif" fill="#000">0.20</text>
<text x="251.00" y="436.87" font-size="14.26" text-anchor="middle" font-family="'Liberation Sans', sans-serif" fill="#000">0.25</text>
<text x="296.30" y="436.87" font-size="14.26" text-anchor="middle" font-family="'Liberation Sans', sans-serif" fill="#000">0.30</text>
<line x1="108.05" y1="246.20" x2="108.05" y2="405.80" stroke="#000" stroke-width="1.15"/>
<line x1="100.65" y1="405.80" x2="108.05" y2="405.80" stroke="#000" stroke-width="1.15"/>
<line x1="100.65" y1="379.20" x2="108.05" y2="379.20" stroke="#000" stroke-width="1.15"/>
<line x1="100.65" y1="352.60" x2="108.05" y2="352.60" stroke="#000" stroke-width="1.15"/>
<line x1="100.65" y1="326.00" x2="108.05" y2="326.00" stroke="#000" stroke-width="1.15"/>
<line x1="100.65" y1="299.40" x2="108.05" y2="299.40" stroke="#000" stroke-width="1.15"/>
<line x1="100.65" y1="272.80" x2="108.05" y2="272.80" stroke="#000" stroke-width="1.15"/>
<line x1="100.65" y1="246.20" x2="108.05" y2="246.20" stroke="#000" stroke-width="1.15"/>
<text x="92.05" y="405.80" font-size="14.26" text-anchor="middle" font-family="'Liberation Sans', sans-serif" fill="#000" transform="rotate(-90 92.05 405.80)">0</text>
<text x="92.05" y="379.20" font-size="14.26" text-anchor="middle" font-family="'Liberation Sans', sans-serif" fill="#000" transform="rotate(-90 92.05 379.20)">20</text>
<text x="92.05" y="326.00" font-size="14.26" text-anchor="middle" font-family="'Liberation Sans', sans-serif" fill="#000" transform="rotate(-90 92.05 326.00)">60</text>
<text x="92.05" y="272.80" font-size="14.26" text-anchor="middle" font-family="'Liberation Sans', sans-serif" fill="#000" transform="rotate(-90 92.05 272.80)">100</text>
<text x="78.20" y="326.24" font-size="17.40" text-anchor="middle" font-family="'Liberation Sans', sans-serif" fill="#000" transform="rotate(-90 78.20 326.24)">density</text>
<g transform="translate(205.60 412.17)" stroke="#000" fill="none" stroke-linecap="round">
<path d="M-3.7 28.0 Q-3.2 26.0 -2.1 25.95" stroke-width="0.75"/>
<path d="M-2.1 26.0 Q-0.5 26.5 1.2 33.2" stroke-width="1.35"/>
<path d="M4.15 26.1 L1.2 33.6" stroke-width="1.1"/>
<path d="M1.3 32.4 C2.3 35.4 1.8 37.9 0.5 37.9 C-0.9 37.9 -0.7 35.4 1.3 32.4 Z" fill="#000" stroke="none"/>
</g>
<path d="M226.5 255.2 L248.5 255.2" fill="none" stroke="#000" stroke-width="2.50" stroke-linecap="round" stroke-linejoin="round"/>
<rect x="234" y="266.7" width="9.3" height="7.6" fill="#A6DB6E"/>
<rect x="234" y="281.9" width="9.3" height="7.6" fill="#FE9B7D"/>
<text x="271.90" y="259.70" font-size="12.67" text-anchor="start" font-family="'Liberation Sans', sans-serif" fill="#000">true</text>
<text x="271.90" y="274.70" font-size="12.67" text-anchor="start" font-family="'Liberation Sans', sans-serif" fill="#000">prior</text>
<text x="271.90" y="289.70" font-size="12.67" text-anchor="start" font-family="'Liberation Sans', sans-serif" fill="#000">LNA</text>
<g clip-path="url(#c11)">
<path d="M381.8 405.9 L381.8 406.3 L382.3 406.3 L382.8 406.3 L383.3 406.3 L383.8 406.3 L384.3 406.2 L384.8 406.2 L385.3 406.2 L385.8 406.2 L386.3 406.1 L386.8 406.1 L387.3 406.0 L387.8 406.0 L388.3 405.9 L388.8 405.9 L389.3 405.8 L389.8 405.7 L390.3 405.6 L390.8 405.4 L391.3 405.2 L391.8 404.9 L392.3 404.7 L392.8 404.4 L393.3 404.0 L393.8 403.7 L394.3 403.4 L394.8 403.0 L395.3 402.6 L395.8 402.2 L396.3 401.8 L396.8 401.3 L397.3 400.8 L397.8 400.2 L398.3 399.7 L398.8 399.1 L399.3 398.5 L399.8 397.8 L400.3 397.1 L400.8 396.4 L401.3 395.6 L401.8 394.7 L402.3 393.8 L402.8 392.9 L403.3 391.9 L403.8 390.8 L404.3 389.6 L404.8 388.4 L405.3 387.1 L405.8 385.7 L406.3 384.2 L406.8 382.7 L407.3 381.1 L407.8 379.3 L408.3 377.4 L408.8 375.4 L409.3 373.3 L409.8 371.2 L410.3 369.0 L410.8 366.9 L411.3 364.8 L411.8 362.6 L412.3 360.4 L412.8 358.1 L413.3 355.9 L413.8 353.7 L414.3 351.6 L414.8 349.6 L415.3 347.6 L415.8 345.7 L416.3 343.8 L416.8 341.9 L417.3 340.1 L417.8 338.4 L418.3 336.7 L418.8 335.2 L419.3 333.8 L419.8 332.4 L420.3 331.1 L420.8 329.8 L421.3 328.6 L421.8 327.3 L422.3 326.0 L422.8 324.6 L423.3 323.3 L423.8 322.0 L424.3 320.6 L424.8 319.3 L425.3 318.0 L425.8 316.6 L426.3 315.3 L426.8 314.0 L427.3 312.7 L427.8 311.4 L428.3 310.1 L428.8 308.7 L429.3 307.4 L429.8 306.0 L430.3 304.5 L430.8 303.1 L431.3 301.6 L431.8 300.1 L432.3 298.5 L432.9 296.8 L433.4 295.0 L433.9 293.2 L434.4 291.4 L434.9 289.7 L435.4 288.1 L435.9 286.4 L436.4 284.8 L436.9 283.4 L437.4 282.1 L437.9 281.0 L438.4 280.0 L438.9 279.1 L439.4 278.3 L439.9 277.7 L440.4 277.2 L440.9 276.7 L441.4 276.4 L441.9 276.1 L442.4 275.7 L442.9 275.4 L443.4 274.9 L443.9 274.4 L444.4 273.8 L444.9 273.1 L445.4 272.4 L445.9 271.8 L446.4 271.2 L446.9 270.5 L447.4 269.9 L447.9 269.3 L448.4 268.7 L448.9 268.2 L449.4 267.9 L449.9 267.6 L450.4 267.4 L450.9 267.2 L451.4 267.1 L451.9 267.3 L452.4 267.9 L452.9 268.6 L453.4 269.5 L453.9 270.3 L454.4 271.2 L454.9 272.2 L455.4 273.3 L455.9 274.3 L456.4 275.3 L456.9 276.2 L457.4 277.1 L457.9 278.0 L458.4 278.8 L458.9 279.7 L459.4 280.5 L459.9 281.2 L460.4 282.0 L460.9 282.7 L461.4 283.4 L461.9 284.0 L462.4 284.6 L462.9 285.3 L463.4 285.9 L463.9 286.6 L464.4 287.4 L464.9 288.2 L465.4 289.0 L465.9 289.8 L466.4 290.7 L466.9 291.6 L467.4 292.4 L467.9 293.3 L468.4 294.1 L468.9 294.9 L469.4 295.8 L469.9 296.6 L470.4 297.5 L470.9 298.3 L471.4 299.1 L471.9 299.9 L472.4 300.6 L472.9 301.3 L473.4 302.0 L473.9 302.8 L474.4 303.7 L474.9 304.8 L475.4 306.1 L475.9 307.4 L476.4 308.8 L476.9 310.1 L477.4 311.6 L477.9 313.1 L478.4 314.6 L478.9 316.2 L479.4 317.7 L479.9 319.3 L480.4 320.7 L480.9 322.1 L481.4 323.5 L481.9 324.9 L482.4 326.2 L482.9 327.5 L483.4 328.8 L483.9 330.1 L484.4 331.4 L484.9 332.7 L485.4 334.0 L485.9 335.3 L486.4 336.6 L486.9 337.9 L487.4 339.1 L487.9 340.3 L488.4 341.5 L488.9 342.6 L489.4 343.7 L489.9 344.7 L490.4 345.8 L490.9 346.8 L491.4 347.9 L491.9 348.9 L492.4 349.9 L492.9 350.9 L493.4 351.9 L493.9 352.9 L494.4 353.9 L494.9 354.9 L495.4 355.9 L495.9 356.9 L496.4 357.9 L496.9 359.0 L497.4 360.0 L497.9 361.0 L498.4 362.0 L498.9 363.0 L499.4 363.9 L499.9 364.8 L500.4 365.6 L500.9 366.4 L501.4 367.2 L501.9 367.9 L502.4 368.6 L502.9 369.3 L503.4 370.1 L503.9 370.8 L504.4 371.4 L504.9 372.1 L505.4 372.8 L505.9 373.4 L506.4 374.1 L506.9 374.7 L507.4 375.4 L507.9 376.0 L508.4 376.7 L508.9 377.4 L509.4 378.0 L509.9 378.7 L510.4 379.4 L510.9 380.1 L511.4 380.8 L511.9 381.5 L512.4 382.2 L512.9 383.0 L513.4 383.7 L513.9 384.4 L514.4 385.2 L514.9 385.9 L515.4 386.7 L515.9 387.5 L516.4 388.3 L516.9 389.1 L517.4 389.9 L517.9 390.6 L518.4 391.3 L518.9 392.0 L519.4 392.7 L519.9 393.4 L520.4 394.1 L520.9 394.7 L521.4 395.3 L521.9 395.9 L522.4 396.3 L522.9 396.8 L523.4 397.2 L523.9 397.6 L524.4 398.0 L524.9 398.3 L525.4 398.6 L525.9 398.9 L526.4 399.1 L526.9 399.4 L527.4 399.6 L527.9 399.7 L528.4 399.9 L528.9 400.0 L529.4 400.2 L529.9 400.2 L530.4 400.3 L530.9 400.4 L531.4 400.5 L531.9 400.6 L532.4 400.6 L532.9 400.7 L533.4 400.7 L533.9 400.8 L534.4 400.8 L534.9 400.9 L535.4 400.9 L535.9 401.0 L536.4 401.0 L536.9 401.0 L537.4 401.0 L537.4 405.9Z" fill="rgb(253,94,45)" fill-opacity="0.62" stroke="none"/>
<path d="M381.8 406.3 L382.3 406.3 L382.8 406.3 L383.3 406.3 L383.8 406.3 L384.3 406.2 L384.8 406.2 L385.3 406.2 L385.8 406.2 L386.3 406.1 L386.8 406.1 L387.3 406.0 L387.8 406.0 L388.3 405.9 L388.8 405.9 L389.3 405.8 L389.8 405.7 L390.3 405.6 L390.8 405.4 L391.3 405.2 L391.8 404.9 L392.3 404.7 L392.8 404.4 L393.3 404.0 L393.8 403.7 L394.3 403.4 L394.8 403.0 L395.3 402.6 L395.8 402.2 L396.3 401.8 L396.8 401.3 L397.3 400.8 L397.8 400.2 L398.3 399.7 L398.8 399.1 L399.3 398.5 L399.8 397.8 L400.3 397.1 L400.8 396.4 L401.3 395.6 L401.8 394.7 L402.3 393.8 L402.8 392.9 L403.3 391.9 L403.8 390.8 L404.3 389.6 L404.8 388.4 L405.3 387.1 L405.8 385.7 L406.3 384.2 L406.8 382.7 L407.3 381.1 L407.8 379.3 L408.3 377.4 L408.8 375.4 L409.3 373.3 L409.8 371.2 L410.3 369.0 L410.8 366.9 L411.3 364.8 L411.8 362.6 L412.3 360.4 L412.8 358.1 L413.3 355.9 L413.8 353.7 L414.3 351.6 L414.8 349.6 L415.3 347.6 L415.8 345.7 L416.3 343.8 L416.8 341.9 L417.3 340.1 L417.8 338.4 L418.3 336.7 L418.8 335.2 L419.3 333.8 L419.8 332.4 L420.3 331.1 L420.8 329.8 L421.3 328.6 L421.8 327.3 L422.3 326.0 L422.8 324.6 L423.3 323.3 L423.8 322.0 L424.3 320.6 L424.8 319.3 L425.3 318.0 L425.8 316.6 L426.3 315.3 L426.8 314.0 L427.3 312.7 L427.8 311.4 L428.3 310.1 L428.8 308.7 L429.3 307.4 L429.8 306.0 L430.3 304.5 L430.8 303.1 L431.3 301.6 L431.8 300.1 L432.3 298.5 L432.9 296.8 L433.4 295.0 L433.9 293.2 L434.4 291.4 L434.9 289.7 L435.4 288.1 L435.9 286.4 L436.4 284.8 L436.9 283.4 L437.4 282.1 L437.9 281.0 L438.4 280.0 L438.9 279.1 L439.4 278.3 L439.9 277.7 L440.4 277.2 L440.9 276.7 L441.4 276.4 L441.9 276.1 L442.4 275.7 L442.9 275.4 L443.4 274.9 L443.9 274.4 L444.4 273.8 L444.9 273.1 L445.4 272.4 L445.9 271.8 L446.4 271.2 L446.9 270.5 L447.4 269.9 L447.9 269.3 L448.4 268.7 L448.9 268.2 L449.4 267.9 L449.9 267.6 L450.4 267.4 L450.9 267.2 L451.4 267.1 L451.9 267.3 L452.4 267.9 L452.9 268.6 L453.4 269.5 L453.9 270.3 L454.4 271.2 L454.9 272.2 L455.4 273.3 L455.9 274.3 L456.4 275.3 L456.9 276.2 L457.4 277.1 L457.9 278.0 L458.4 278.8 L458.9 279.7 L459.4 280.5 L459.9 281.2 L460.4 282.0 L460.9 282.7 L461.4 283.4 L461.9 284.0 L462.4 284.6 L462.9 285.3 L463.4 285.9 L463.9 286.6 L464.4 287.4 L464.9 288.2 L465.4 289.0 L465.9 289.8 L466.4 290.7 L466.9 291.6 L467.4 292.4 L467.9 293.3 L468.4 294.1 L468.9 294.9 L469.4 295.8 L469.9 296.6 L470.4 297.5 L470.9 298.3 L471.4 299.1 L471.9 299.9 L472.4 300.6 L472.9 301.3 L473.4 302.0 L473.9 302.8 L474.4 303.7 L474.9 304.8 L475.4 306.1 L475.9 307.4 L476.4 308.8 L476.9 310.1 L477.4 311.6 L477.9 313.1 L478.4 314.6 L478.9 316.2 L479.4 317.7 L479.9 319.3 L480.4 320.7 L480.9 322.1 L481.4 323.5 L481.9 324.9 L482.4 326.2 L482.9 327.5 L483.4 328.8 L483.9 330.1 L484.4 331.4 L484.9 332.7 L485.4 334.0 L485.9 335.3 L486.4 336.6 L486.9 337.9 L487.4 339.1 L487.9 340.3 L488.4 341.5 L488.9 342.6 L489.4 343.7 L489.9 344.7 L490.4 345.8 L490.9 346.8 L491.4 347.9 L491.9 348.9 L492.4 349.9 L492.9 350.9 L493.4 351.9 L493.9 352.9 L494.4 353.9 L494.9 354.9 L495.4 355.9 L495.9 356.9 L496.4 357.9 L496.9 359.0 L497.4 360.0 L497.9 361.0 L498.4 362.0 L498.9 363.0 L499.4 363.9 L499.9 364.8 L500.4 365.6 L500.9 366.4 L501.4 367.2 L501.9 367.9 L502.4 368.6 L502.9 369.3 L503.4 370.1 L503.9 370.8 L504.4 371.4 L504.9 372.1 L505.4 372.8 L505.9 373.4 L506.4 374.1 L506.9 374.7 L507.4 375.4 L507.9 376.0 L508.4 376.7 L508.9 377.4 L509.4 378.0 L509.9 378.7 L510.4 379.4 L510.9 380.1 L511.4 380.8 L511.9 381.5 L512.4 382.2 L512.9 383.0 L513.4 383.7 L513.9 384.4 L514.4 385.2 L514.9 385.9 L515.4 386.7 L515.9 387.5 L516.4 388.3 L516.9 389.1 L517.4 389.9 L517.9 390.6 L518.4 391.3 L518.9 392.0 L519.4 392.7 L519.9 393.4 L520.4 394.1 L520.9 394.7 L521.4 395.3 L521.9 395.9 L522.4 396.3 L522.9 396.8 L523.4 397.2 L523.9 397.6 L524.4 398.0 L524.9 398.3 L525.4 398.6 L525.9 398.9 L526.4 399.1 L526.9 399.4 L527.4 399.6 L527.9 399.7 L528.4 399.9 L528.9 400.0 L529.4 400.2 L529.9 400.2 L530.4 400.3 L530.9 400.4 L531.4 400.5 L531.9 400.6 L532.4 400.6 L532.9 400.7 L533.4 400.7 L533.9 400.8 L534.4 400.8 L534.9 400.9 L535.4 400.9 L535.9 401.0 L536.4 401.0 L536.9 401.0 L537.4 401.0" fill="none" stroke="#FF0000" stroke-width="1.30" stroke-linecap="round" stroke-linejoin="round"/>
<path d="M342.1 405.9 L342.1 406.1 L342.6 406.1 L343.1 406.0 L343.6 406.0 L344.1 406.0 L344.6 406.0 L345.1 406.0 L345.6 406.0 L346.1 406.0 L346.6 406.0 L347.1 405.9 L347.6 405.9 L348.1 405.9 L348.6 405.9 L349.1 405.9 L349.6 405.8 L350.1 405.8 L350.6 405.8 L351.1 405.7 L351.6 405.7 L352.1 405.6 L352.6 405.6 L353.1 405.5 L353.6 405.4 L354.1 405.3 L354.6 405.2 L355.1 405.2 L355.6 405.0 L356.1 404.9 L356.6 404.8 L357.1 404.7 L357.6 404.6 L358.1 404.4 L358.6 404.3 L359.1 404.1 L359.6 403.9 L360.1 403.7 L360.6 403.4 L361.1 403.1 L361.6 402.8 L362.1 402.5 L362.6 402.2 L363.1 401.8 L363.6 401.3 L364.1 400.7 L364.6 400.0 L365.1 399.3 L365.6 398.5 L366.1 397.7 L366.6 396.9 L367.1 396.1 L367.6 395.2 L368.1 394.3 L368.6 393.3 L369.1 392.2 L369.6 391.1 L370.1 390.0 L370.6 388.9 L371.1 387.7 L371.6 386.4 L372.1 385.2 L372.6 383.8 L373.1 382.4 L373.6 381.0 L374.1 379.5 L374.6 377.9 L375.1 376.2 L375.6 374.4 L376.1 372.6 L376.6 370.7 L377.1 368.7 L377.6 366.8 L378.1 364.8 L378.6 362.8 L379.2 360.7 L379.7 358.5 L380.2 356.4 L380.7 354.1 L381.2 351.9 L381.7 349.6 L382.2 347.2 L382.7 344.8 L383.2 342.3 L383.7 339.8 L384.2 337.3 L384.7 334.7 L385.2 332.1 L385.7 329.6 L386.2 327.1 L386.7 324.6 L387.2 322.1 L387.7 319.6 L388.2 317.1 L388.7 314.6 L389.2 312.1 L389.7 309.6 L390.2 307.0 L390.7 304.5 L391.2 301.9 L391.7 299.4 L392.2 296.9 L392.7 294.4 L393.2 292.0 L393.7 289.7 L394.2 287.5 L394.7 285.3 L395.2 283.1 L395.7 280.9 L396.2 278.8 L396.7 276.8 L397.2 274.7 L397.7 272.7 L398.2 270.6 L398.7 268.6 L399.2 266.7 L399.7 264.8 L400.2 263.1 L400.7 261.6 L401.2 260.1 L401.7 258.6 L402.2 257.3 L402.7 256.1 L403.2 255.0 L403.7 254.0 L404.2 253.1 L404.7 252.3 L405.2 251.5 L405.7 250.8 L406.2 250.3 L406.7 249.9 L407.2 249.5 L407.7 249.2 L408.2 248.9 L408.7 248.6 L409.2 248.5 L409.7 248.4 L410.2 248.4 L410.7 248.5 L411.2 248.5 L411.7 248.6 L412.2 248.7 L412.7 248.9 L413.2 249.0 L413.7 249.4 L414.2 250.0 L414.7 250.7 L415.2 251.5 L415.7 252.3 L416.2 253.1 L416.7 254.1 L417.2 255.3 L417.7 256.5 L418.2 257.8 L418.7 259.1 L419.2 260.3 L419.7 261.5 L420.2 262.5 L420.7 263.5 L421.2 264.4 L421.7 265.4 L422.2 266.3 L422.7 267.3 L423.2 268.4 L423.7 269.6 L424.2 270.9 L424.7 272.3 L425.2 273.8 L425.7 275.3 L426.2 276.9 L426.7 278.6 L427.2 280.2 L427.7 281.8 L428.2 283.4 L428.7 285.0 L429.2 286.7 L429.7 288.4 L430.2 290.1 L430.7 291.8 L431.2 293.5 L431.7 295.2 L432.2 296.8 L432.7 298.5 L433.2 300.2 L433.7 301.8 L434.2 303.5 L434.7 305.2 L435.2 306.8 L435.8 308.5 L436.3 310.2 L436.8 311.9 L437.3 313.5 L437.8 315.2 L438.3 316.9 L438.8 318.5 L439.3 320.2 L439.8 321.9 L440.3 323.6 L440.8 325.3 L441.3 327.0 L441.8 328.6 L442.3 330.3 L442.8 331.9 L443.3 333.4 L443.8 335.0 L444.3 336.5 L444.8 338.0 L445.3 339.5 L445.8 340.9 L446.3 342.3 L446.8 343.8 L447.3 345.1 L447.8 346.5 L448.3 347.9 L448.8 349.2 L449.3 350.5 L449.8 351.8 L450.3 353.0 L450.8 354.3 L451.3 355.5 L451.8 356.7 L452.3 357.8 L452.8 359.0 L453.3 360.1 L453.8 361.2 L454.3 362.3 L454.8 363.4 L455.3 364.4 L455.8 365.5 L456.3 366.5 L456.8 367.5 L457.3 368.5 L457.8 369.5 L458.3 370.4 L458.8 371.3 L459.3 372.2 L459.8 373.0 L460.3 373.8 L460.8 374.5 L461.3 375.3 L461.8 376.0 L462.3 376.7 L462.8 377.5 L463.3 378.2 L463.8 378.9 L464.3 379.6 L464.8 380.3 L465.3 381.0 L465.8 381.8 L466.3 382.5 L466.8 383.2 L467.3 383.8 L467.8 384.5 L468.3 385.1 L468.8 385.7 L469.3 386.3 L469.8 386.8 L470.3 387.3 L470.8 387.8 L471.3 388.3 L471.8 388.8 L472.3 389.2 L472.8 389.7 L473.3 390.1 L473.8 390.6 L474.3 391.0 L474.8 391.4 L475.3 391.8 L475.8 392.2 L476.3 392.6 L476.8 393.0 L477.3 393.4 L477.8 393.8 L478.3 394.1 L478.8 394.5 L479.3 394.9 L479.8 395.2 L480.3 395.5 L480.8 395.9 L481.3 396.2 L481.8 396.5 L482.3 396.8 L482.8 397.1 L483.3 397.3 L483.8 397.6 L484.3 397.9 L484.8 398.2 L485.3 398.4 L485.8 398.7 L486.3 398.9 L486.8 399.2 L487.3 399.4 L487.8 399.6 L488.3 399.8 L488.8 400.0 L489.3 400.2 L489.8 400.4 L490.3 400.6 L490.8 400.8 L491.3 401.0 L491.8 401.1 L492.3 401.3 L492.9 401.4 L493.4 401.6 L493.9 401.7 L494.4 401.9 L494.9 402.0 L495.4 402.1 L495.9 402.3 L496.4 402.4 L496.9 402.5 L497.4 402.6 L497.9 402.7 L498.4 402.8 L498.9 402.9 L499.4 403.0 L499.9 403.0 L500.4 403.1 L500.9 403.2 L501.4 403.3 L501.9 403.4 L502.4 403.4 L502.9 403.5 L503.4 403.6 L503.9 403.6 L504.4 403.7 L504.9 403.8 L505.4 403.8 L505.9 403.9 L506.4 403.9 L506.9 404.0 L507.4 404.1 L507.9 404.1 L508.4 404.2 L508.9 404.2 L509.4 404.3 L509.9 404.4 L510.4 404.4 L510.9 404.5 L511.4 404.5 L511.9 404.6 L512.4 404.6 L512.9 404.7 L513.4 404.7 L513.9 404.8 L514.4 404.8 L514.9 404.9 L515.4 404.9 L515.9 404.9 L516.4 405.0 L516.9 405.0 L517.4 405.1 L517.9 405.1 L518.4 405.1 L518.9 405.2 L519.4 405.2 L519.9 405.2 L520.4 405.3 L520.9 405.3 L521.4 405.3 L521.9 405.4 L522.4 405.4 L522.9 405.4 L523.4 405.4 L523.9 405.5 L524.4 405.5 L524.9 405.5 L525.4 405.5 L525.9 405.5 L526.4 405.5 L526.9 405.5 L527.4 405.5 L527.9 405.5 L528.4 405.5 L528.9 405.5 L529.4 405.5 L529.9 405.5 L530.4 405.5 L530.9 405.5 L531.4 405.5 L531.9 405.5 L532.4 405.5 L532.9 405.5 L533.4 405.5 L533.9 405.5 L534.4 405.5 L534.9 405.5 L535.4 405.5 L535.9 405.5 L536.4 405.5 L536.9 405.5 L537.4 405.5 L537.4 405.9Z" fill="rgb(128,204,48)" fill-opacity="0.70" stroke="none"/>
<path d="M342.1 406.1 L342.6 406.1 L343.1 406.0 L343.6 406.0 L344.1 406.0 L344.6 406.0 L345.1 406.0 L345.6 406.0 L346.1 406.0 L346.6 406.0 L347.1 405.9 L347.6 405.9 L348.1 405.9 L348.6 405.9 L349.1 405.9 L349.6 405.8 L350.1 405.8 L350.6 405.8 L351.1 405.7 L351.6 405.7 L352.1 405.6 L352.6 405.6 L353.1 405.5 L353.6 405.4 L354.1 405.3 L354.6 405.2 L355.1 405.2 L355.6 405.0 L356.1 404.9 L356.6 404.8 L357.1 404.7 L357.6 404.6 L358.1 404.4 L358.6 404.3 L359.1 404.1 L359.6 403.9 L360.1 403.7 L360.6 403.4 L361.1 403.1 L361.6 402.8 L362.1 402.5 L362.6 402.2 L363.1 401.8 L363.6 401.3 L364.1 400.7 L364.6 400.0 L365.1 399.3 L365.6 398.5 L366.1 397.7 L366.6 396.9 L367.1 396.1 L367.6 395.2 L368.1 394.3 L368.6 393.3 L369.1 392.2 L369.6 391.1 L370.1 390.0 L370.6 388.9 L371.1 387.7 L371.6 386.4 L372.1 385.2 L372.6 383.8 L373.1 382.4 L373.6 381.0 L374.1 379.5 L374.6 377.9 L375.1 376.2 L375.6 374.4 L376.1 372.6 L376.6 370.7 L377.1 368.7 L377.6 366.8 L378.1 364.8 L378.6 362.8 L379.2 360.7 L379.7 358.5 L380.2 356.4 L380.7 354.1 L381.2 351.9 L381.7 349.6 L382.2 347.2 L382.7 344.8 L383.2 342.3 L383.7 339.8 L384.2 337.3 L384.7 334.7 L385.2 332.1 L385.7 329.6 L386.2 327.1 L386.7 324.6 L387.2 322.1 L387.7 319.6 L388.2 317.1 L388.7 314.6 L389.2 312.1 L389.7 309.6 L390.2 307.0 L390.7 304.5 L391.2 301.9 L391.7 299.4 L392.2 296.9 L392.7 294.4 L393.2 292.0 L393.7 289.7 L394.2 287.5 L394.7 285.3 L395.2 283.1 L395.7 280.9 L396.2 278.8 L396.7 276.8 L397.2 274.7 L397.7 272.7 L398.2 270.6 L398.7 268.6 L399.2 266.7 L399.7 264.8 L400.2 263.1 L400.7 261.6 L401.2 260.1 L401.7 258.6 L402.2 257.3 L402.7 256.1 L403.2 255.0 L403.7 254.0 L404.2 253.1 L404.7 252.3 L405.2 251.5 L405.7 250.8 L406.2 250.3 L406.7 249.9 L407.2 249.5 L407.7 249.2 L408.2 248.9 L408.7 248.6 L409.2 248.5 L409.7 248.4 L410.2 248.4 L410.7 248.5 L411.2 248.5 L411.7 248.6 L412.2 248.7 L412.7 248.9 L413.2 249.0 L413.7 249.4 L414.2 250.0 L414.7 250.7 L415.2 251.5 L415.7 252.3 L416.2 253.1 L416.7 254.1 L417.2 255.3 L417.7 256.5 L418.2 257.8 L418.7 259.1 L419.2 260.3 L419.7 261.5 L420.2 262.5 L420.7 263.5 L421.2 264.4 L421.7 265.4 L422.2 266.3 L422.7 267.3 L423.2 268.4 L423.7 269.6 L424.2 270.9 L424.7 272.3 L425.2 273.8 L425.7 275.3 L426.2 276.9 L426.7 278.6 L427.2 280.2 L427.7 281.8 L428.2 283.4 L428.7 285.0 L429.2 286.7 L429.7 288.4 L430.2 290.1 L430.7 291.8 L431.2 293.5 L431.7 295.2 L432.2 296.8 L432.7 298.5 L433.2 300.2 L433.7 301.8 L434.2 303.5 L434.7 305.2 L435.2 306.8 L435.8 308.5 L436.3 310.2 L436.8 311.9 L437.3 313.5 L437.8 315.2 L438.3 316.9 L438.8 318.5 L439.3 320.2 L439.8 321.9 L440.3 323.6 L440.8 325.3 L441.3 327.0 L441.8 328.6 L442.3 330.3 L442.8 331.9 L443.3 333.4 L443.8 335.0 L444.3 336.5 L444.8 338.0 L445.3 339.5 L445.8 340.9 L446.3 342.3 L446.8 343.8 L447.3 345.1 L447.8 346.5 L448.3 347.9 L448.8 349.2 L449.3 350.5 L449.8 351.8 L450.3 353.0 L450.8 354.3 L451.3 355.5 L451.8 356.7 L452.3 357.8 L452.8 359.0 L453.3 360.1 L453.8 361.2 L454.3 362.3 L454.8 363.4 L455.3 364.4 L455.8 365.5 L456.3 366.5 L456.8 367.5 L457.3 368.5 L457.8 369.5 L458.3 370.4 L458.8 371.3 L459.3 372.2 L459.8 373.0 L460.3 373.8 L460.8 374.5 L461.3 375.3 L461.8 376.0 L462.3 376.7 L462.8 377.5 L463.3 378.2 L463.8 378.9 L464.3 379.6 L464.8 380.3 L465.3 381.0 L465.8 381.8 L466.3 382.5 L466.8 383.2 L467.3 383.8 L467.8 384.5 L468.3 385.1 L468.8 385.7 L469.3 386.3 L469.8 386.8 L470.3 387.3 L470.8 387.8 L471.3 388.3 L471.8 388.8 L472.3 389.2 L472.8 389.7 L473.3 390.1 L473.8 390.6 L474.3 391.0 L474.8 391.4 L475.3 391.8 L475.8 392.2 L476.3 392.6 L476.8 393.0 L477.3 393.4 L477.8 393.8 L478.3 394.1 L478.8 394.5 L479.3 394.9 L479.8 395.2 L480.3 395.5 L480.8 395.9 L481.3 396.2 L481.8 396.5 L482.3 396.8 L482.8 397.1 L483.3 397.3 L483.8 397.6 L484.3 397.9 L484.8 398.2 L485.3 398.4 L485.8 398.7 L486.3 398.9 L486.8 399.2 L487.3 399.4 L487.8 399.6 L488.3 399.8 L488.8 400.0 L489.3 400.2 L489.8 400.4 L490.3 400.6 L490.8 400.8 L491.3 401.0 L491.8 401.1 L492.3 401.3 L492.9 401.4 L493.4 401.6 L493.9 401.7 L494.4 401.9 L494.9 402.0 L495.4 402.1 L495.9 402.3 L496.4 402.4 L496.9 402.5 L497.4 402.6 L497.9 402.7 L498.4 402.8 L498.9 402.9 L499.4 403.0 L499.9 403.0 L500.4 403.1 L500.9 403.2 L501.4 403.3 L501.9 403.4 L502.4 403.4 L502.9 403.5 L503.4 403.6 L503.9 403.6 L504.4 403.7 L504.9 403.8 L505.4 403.8 L505.9 403.9 L506.4 403.9 L506.9 404.0 L507.4 404.1 L507.9 404.1 L508.4 404.2 L508.9 404.2 L509.4 404.3 L509.9 404.4 L510.4 404.4 L510.9 404.5 L511.4 404.5 L511.9 404.6 L512.4 404.6 L512.9 404.7 L513.4 404.7 L513.9 404.8 L514.4 404.8 L514.9 404.9 L515.4 404.9 L515.9 404.9 L516.4 405.0 L516.9 405.0 L517.4 405.1 L517.9 405.1 L518.4 405.1 L518.9 405.2 L519.4 405.2 L519.9 405.2 L520.4 405.3 L520.9 405.3 L521.4 405.3 L521.9 405.4 L522.4 405.4 L522.9 405.4 L523.4 405.4 L523.9 405.5 L524.4 405.5 L524.9 405.5 L525.4 405.5 L525.9 405.5 L526.4 405.5 L526.9 405.5 L527.4 405.5 L527.9 405.5 L528.4 405.5 L528.9 405.5 L529.4 405.5 L529.9 405.5 L530.4 405.5 L530.9 405.5 L531.4 405.5 L531.9 405.5 L532.4 405.5 L532.9 405.5 L533.4 405.5 L533.9 405.5 L534.4 405.5 L534.9 405.5 L535.4 405.5 L535.9 405.5 L536.4 405.5 L536.9 405.5 L537.4 405.5" fill="none" stroke="#008B00" stroke-width="1.30" stroke-linecap="round" stroke-linejoin="round"/>
<path d="M424.1 240.3 L424.1 412.2" fill="none" stroke="#000" stroke-width="2.40" stroke-linecap="butt" stroke-linejoin="round"/>
</g>
<rect x="337.50" y="240.30" width="198.90" height="171.87" fill="none" stroke="#000" stroke-width="1.15"/>
<line x1="344.80" y1="412.17" x2="529.60" y2="412.17" stroke="#000" stroke-width="1.15"/>
<line x1="344.80" y1="412.17" x2="344.80" y2="419.57" stroke="#000" stroke-width="1.15"/>
<line x1="371.20" y1="412.17" x2="371.20" y2="419.57" stroke="#000" stroke-width="1.15"/>
<line x1="397.60" y1="412.17" x2="397.60" y2="419.57" stroke="#000" stroke-width="1.15"/>
<line x1="424.00" y1="412.17" x2="424.00" y2="419.57" stroke="#000" stroke-width="1.15"/>
<line x1="450.40" y1="412.17" x2="450.40" y2="419.57" stroke="#000" stroke-width="1.15"/>
<line x1="476.80" y1="412.17" x2="476.80" y2="419.57" stroke="#000" stroke-width="1.15"/>
<line x1="503.20" y1="412.17" x2="503.20" y2="419.57" stroke="#000" stroke-width="1.15"/>
<line x1="529.60" y1="412.17" x2="529.60" y2="419.57" stroke="#000" stroke-width="1.15"/>
<text x="344.80" y="436.87" font-size="14.26" text-anchor="middle" font-family="'Liberation Sans', sans-serif" fill="#000">0.05</text>
<text x="397.60" y="436.87" font-size="14.26" text-anchor="middle" font-family="'Liberation Sans', sans-serif" fill="#000">0.15</text>
<text x="450.40" y="436.87" font-size="14.26" text-anchor="middle" font-family="'Liberation Sans', sans-serif" fill="#000">0.25</text>
<text x="503.20" y="436.87" font-size="14.26" text-anchor="middle" font-family="'Liberation Sans', sans-serif" fill="#000">0.35</text>
<line x1="337.50" y1="264.20" x2="337.50" y2="405.80" stroke="#000" stroke-width="1.15"/>
<line x1="330.10" y1="405.80" x2="337.50" y2="405.80" stroke="#000" stroke-width="1.15"/>
<line x1="330.10" y1="370.40" x2="337.50" y2="370.40" stroke="#000" stroke-width="1.15"/>
<line x1="330.10" y1="335.00" x2="337.50" y2="335.00" stroke="#000" stroke-width="1.15"/>
<line x1="330.10" y1="299.60" x2="337.50" y2="299.60" stroke="#000" stroke-width="1.15"/>
<line x1="330.10" y1="264.20" x2="337.50" y2="264.20" stroke="#000" stroke-width="1.15"/>
<text x="321.50" y="405.80" font-size="14.26" text-anchor="middle" font-family="'Liberation Sans', sans-serif" fill="#000" transform="rotate(-90 321.50 405.80)">0</text>
<text x="321.50" y="370.40" font-size="14.26" text-anchor="middle" font-family="'Liberation Sans', sans-serif" fill="#000" transform="rotate(-90 321.50 370.40)">2</text>
<text x="321.50" y="335.00" font-size="14.26" text-anchor="middle" font-family="'Liberation Sans', sans-serif" fill="#000" transform="rotate(-90 321.50 335.00)">4</text>
<text x="321.50" y="299.60" font-size="14.26" text-anchor="middle" font-family="'Liberation Sans', sans-serif" fill="#000" transform="rotate(-90 321.50 299.60)">6</text>
<text x="321.50" y="264.20" font-size="14.26" text-anchor="middle" font-family="'Liberation Sans', sans-serif" fill="#000" transform="rotate(-90 321.50 264.20)">8</text>
<g transform="translate(436.95 412.17)" stroke="#000" fill="none" stroke-linecap="round">
<path d="M-3.7 28.0 Q-3.2 26.0 -2.1 25.95" stroke-width="0.75"/>
<path d="M-2.1 26.0 Q-0.5 26.5 1.2 33.2" stroke-width="1.35"/>
<path d="M4.15 26.1 L1.2 33.6" stroke-width="1.1"/>
<path d="M1.3 32.4 C2.3 35.4 1.8 37.9 0.5 37.9 C-0.9 37.9 -0.7 35.4 1.3 32.4 Z" fill="#000" stroke="none"/>
</g>
<g clip-path="url(#c12)">
<path d="M631.3 405.9 L631.3 406.3 L631.8 406.3 L632.3 406.3 L632.8 406.3 L633.3 406.2 L633.8 406.2 L634.3 406.2 L634.8 406.1 L635.3 406.1 L635.8 406.0 L636.3 405.9 L636.8 405.9 L637.3 405.8 L637.8 405.7 L638.3 405.6 L638.8 405.6 L639.3 405.5 L639.8 405.3 L640.3 405.2 L640.8 405.0 L641.3 404.7 L641.8 404.5 L642.3 404.2 L642.8 403.9 L643.3 403.6 L643.8 403.3 L644.3 403.0 L644.8 402.6 L645.3 402.2 L645.8 401.8 L646.3 401.3 L646.8 400.8 L647.3 400.2 L647.8 399.6 L648.3 399.0 L648.8 398.4 L649.3 397.8 L649.8 397.0 L650.3 396.2 L650.8 395.4 L651.3 394.5 L651.8 393.6 L652.3 392.7 L652.8 391.8 L653.3 390.9 L653.8 389.9 L654.3 389.0 L654.8 388.0 L655.3 387.0 L655.8 385.9 L656.3 384.8 L656.8 383.6 L657.3 382.4 L657.8 381.1 L658.3 379.7 L658.8 378.3 L659.3 376.9 L659.8 375.6 L660.3 374.2 L660.9 372.9 L661.4 371.5 L661.9 370.2 L662.4 368.9 L662.9 367.6 L663.4 366.2 L663.9 364.9 L664.4 363.5 L664.9 362.0 L665.4 360.5 L665.9 358.9 L666.4 357.4 L666.9 355.8 L667.4 354.3 L667.9 352.9 L668.4 351.5 L668.9 350.1 L669.4 348.8 L669.9 347.5 L670.4 346.2 L670.9 344.9 L671.4 343.5 L671.9 342.1 L672.4 340.7 L672.9 339.3 L673.4 337.9 L673.9 336.3 L674.4 334.5 L674.9 332.5 L675.4 330.1 L675.9 327.7 L676.4 325.4 L676.9 323.2 L677.4 321.0 L677.9 318.9 L678.4 316.9 L678.9 315.0 L679.4 313.2 L679.9 311.5 L680.4 309.8 L680.9 308.2 L681.4 306.8 L681.9 305.8 L682.4 304.9 L682.9 304.1 L683.4 303.4 L683.9 302.9 L684.4 302.5 L684.9 302.3 L685.4 302.2 L685.9 302.1 L686.4 302.1 L686.9 302.4 L687.4 302.8 L687.9 303.4 L688.4 304.0 L688.9 304.6 L689.4 305.1 L689.9 305.6 L690.4 306.1 L690.9 306.7 L691.4 307.1 L691.9 307.6 L692.4 308.0 L693.0 308.4 L693.5 308.8 L694.0 309.2 L694.5 309.6 L695.0 309.9 L695.5 310.1 L696.0 310.2 L696.5 310.3 L697.0 310.3 L697.5 310.4 L698.0 310.4 L698.5 310.4 L699.0 310.2 L699.5 309.8 L700.0 309.3 L700.5 308.8 L701.0 308.3 L701.5 307.7 L702.0 307.1 L702.5 306.5 L703.0 305.8 L703.5 305.2 L704.0 304.6 L704.5 304.0 L705.0 303.5 L705.5 302.9 L706.0 302.4 L706.5 301.9 L707.0 301.5 L707.5 301.0 L708.0 300.6 L708.5 300.2 L709.0 299.9 L709.5 299.5 L710.0 299.2 L710.5 298.9 L711.0 298.6 L711.5 298.4 L712.0 298.1 L712.5 297.9 L713.0 297.6 L713.5 297.4 L714.0 297.3 L714.5 297.3 L715.0 297.5 L715.5 297.9 L716.0 298.5 L716.5 299.1 L717.0 299.9 L717.5 300.7 L718.0 301.9 L718.5 303.5 L719.0 305.3 L719.5 307.2 L720.0 309.2 L720.5 311.5 L721.0 314.1 L721.5 316.8 L722.0 319.4 L722.5 322.0 L723.0 324.5 L723.5 327.0 L724.0 329.5 L724.5 332.0 L725.0 334.5 L725.6 337.1 L726.1 339.6 L726.6 342.1 L727.1 344.6 L727.6 347.0 L728.1 349.4 L728.6 351.8 L729.1 354.1 L729.6 356.3 L730.1 358.2 L730.6 359.9 L731.1 361.5 L731.6 363.0 L732.1 364.4 L732.6 365.5 L733.1 366.6 L733.6 367.6 L734.1 368.4 L734.6 369.1 L735.1 369.7 L735.6 370.2 L736.1 370.6 L736.6 371.0 L737.1 371.4 L737.6 371.6 L738.1 371.6 L738.6 371.6 L739.1 371.6 L739.6 371.6 L740.1 371.6 L740.6 371.6 L741.1 371.6 L741.6 371.7 L742.1 371.8 L742.6 372.1 L743.1 372.4 L743.6 372.8 L744.1 373.3 L744.6 373.7 L745.1 374.2 L745.6 374.6 L746.1 375.1 L746.6 375.7 L747.1 376.2 L747.6 376.8 L748.1 377.5 L748.6 378.1 L749.1 378.7 L749.6 379.4 L750.1 380.1 L750.6 380.9 L751.1 381.6 L751.6 382.4 L752.1 383.1 L752.6 383.7 L753.1 384.3 L753.6 384.8 L754.1 385.4 L754.6 385.9 L755.1 386.4 L755.6 386.8 L756.1 387.3 L756.6 387.7 L757.1 388.1 L757.7 388.5 L758.2 388.9 L758.7 389.3 L759.2 389.6 L759.7 389.9 L760.2 390.3 L760.7 390.6 L761.2 390.9 L761.7 391.2 L762.2 391.4 L762.7 391.7 L763.2 391.9 L763.7 392.2 L764.2 392.4 L764.7 392.6 L765.2 392.9 L765.7 393.1 L766.2 393.3 L766.7 393.5 L767.2 393.7 L767.7 393.8 L768.2 394.0 L768.7 394.1 L769.2 394.2 L769.7 394.3 L770.2 394.4 L770.7 394.5 L771.2 394.6 L771.7 394.7 L771.7 405.9Z" fill="rgb(253,94,45)" fill-opacity="0.62" stroke="none"/>
<path d="M631.3 406.3 L631.8 406.3 L632.3 406.3 L632.8 406.3 L633.3 406.2 L633.8 406.2 L634.3 406.2 L634.8 406.1 L635.3 406.1 L635.8 406.0 L636.3 405.9 L636.8 405.9 L637.3 405.8 L637.8 405.7 L638.3 405.6 L638.8 405.6 L639.3 405.5 L639.8 405.3 L640.3 405.2 L640.8 405.0 L641.3 404.7 L641.8 404.5 L642.3 404.2 L642.8 403.9 L643.3 403.6 L643.8 403.3 L644.3 403.0 L644.8 402.6 L645.3 402.2 L645.8 401.8 L646.3 401.3 L646.8 400.8 L647.3 400.2 L647.8 399.6 L648.3 399.0 L648.8 398.4 L649.3 397.8 L649.8 397.0 L650.3 396.2 L650.8 395.4 L651.3 394.5 L651.8 393.6 L652.3 392.7 L652.8 391.8 L653.3 390.9 L653.8 389.9 L654.3 389.0 L654.8 388.0 L655.3 387.0 L655.8 385.9 L656.3 384.8 L656.8 383.6 L657.3 382.4 L657.8 381.1 L658.3 379.7 L658.8 378.3 L659.3 376.9 L659.8 375.6 L660.3 374.2 L660.9 372.9 L661.4 371.5 L661.9 370.2 L662.4 368.9 L662.9 367.6 L663.4 366.2 L663.9 364.9 L664.4 363.5 L664.9 362.0 L665.4 360.5 L665.9 358.9 L666.4 357.4 L666.9 355.8 L667.4 354.3 L667.9 352.9 L668.4 351.5 L668.9 350.1 L669.4 348.8 L669.9 347.5 L670.4 346.2 L670.9 344.9 L671.4 343.5 L671.9 342.1 L672.4 340.7 L672.9 339.3 L673.4 337.9 L673.9 336.3 L674.4 334.5 L674.9 332.5 L675.4 330.1 L675.9 327.7 L676.4 325.4 L676.9 323.2 L677.4 321.0 L677.9 318.9 L678.4 316.9 L678.9 315.0 L679.4 313.2 L679.9 311.5 L680.4 309.8 L680.9 308.2 L681.4 306.8 L681.9 305.8 L682.4 304.9 L682.9 304.1 L683.4 303.4 L683.9 302.9 L684.4 302.5 L684.9 302.3 L685.4 302.2 L685.9 302.1 L686.4 302.1 L686.9 302.4 L687.4 302.8 L687.9 303.4 L688.4 304.0 L688.9 304.6 L689.4 305.1 L689.9 305.6 L690.4 306.1 L690.9 306.7 L691.4 307.1 L691.9 307.6 L692.4 308.0 L693.0 308.4 L693.5 308.8 L694.0 309.2 L694.5 309.6 L695.0 309.9 L695.5 310.1 L696.0 310.2 L696.5 310.3 L697.0 310.3 L697.5 310.4 L698.0 310.4 L698.5 310.4 L699.0 310.2 L699.5 309.8 L700.0 309.3 L700.5 308.8 L701.0 308.3 L701.5 307.7 L702.0 307.1 L702.5 306.5 L703.0 305.8 L703.5 305.2 L704.0 304.6 L704.5 304.0 L705.0 303.5 L705.5 302.9 L706.0 302.4 L706.5 301.9 L707.0 301.5 L707.5 301.0 L708.0 300.6 L708.5 300.2 L709.0 299.9 L709.5 299.5 L710.0 299.2 L710.5 298.9 L711.0 298.6 L711.5 298.4 L712.0 298.1 L712.5 297.9 L713.0 297.6 L713.5 297.4 L714.0 297.3 L714.5 297.3 L715.0 297.5 L715.5 297.9 L716.0 298.5 L716.5 299.1 L717.0 299.9 L717.5 300.7 L718.0 301.9 L718.5 303.5 L719.0 305.3 L719.5 307.2 L720.0 309.2 L720.5 311.5 L721.0 314.1 L721.5 316.8 L722.0 319.4 L722.5 322.0 L723.0 324.5 L723.5 327.0 L724.0 329.5 L724.5 332.0 L725.0 334.5 L725.6 337.1 L726.1 339.6 L726.6 342.1 L727.1 344.6 L727.6 347.0 L728.1 349.4 L728.6 351.8 L729.1 354.1 L729.6 356.3 L730.1 358.2 L730.6 359.9 L731.1 361.5 L731.6 363.0 L732.1 364.4 L732.6 365.5 L733.1 366.6 L733.6 367.6 L734.1 368.4 L734.6 369.1 L735.1 369.7 L735.6 370.2 L736.1 370.6 L736.6 371.0 L737.1 371.4 L737.6 371.6 L738.1 371.6 L738.6 371.6 L739.1 371.6 L739.6 371.6 L740.1 371.6 L740.6 371.6 L741.1 371.6 L741.6 371.7 L742.1 371.8 L742.6 372.1 L743.1 372.4 L743.6 372.8 L744.1 373.3 L744.6 373.7 L745.1 374.2 L745.6 374.6 L746.1 375.1 L746.6 375.7 L747.1 376.2 L747.6 376.8 L748.1 377.5 L748.6 378.1 L749.1 378.7 L749.6 379.4 L750.1 380.1 L750.6 380.9 L751.1 381.6 L751.6 382.4 L752.1 383.1 L752.6 383.7 L753.1 384.3 L753.6 384.8 L754.1 385.4 L754.6 385.9 L755.1 386.4 L755.6 386.8 L756.1 387.3 L756.6 387.7 L757.1 388.1 L757.7 388.5 L758.2 388.9 L758.7 389.3 L759.2 389.6 L759.7 389.9 L760.2 390.3 L760.7 390.6 L761.2 390.9 L761.7 391.2 L762.2 391.4 L762.7 391.7 L763.2 391.9 L763.7 392.2 L764.2 392.4 L764.7 392.6 L765.2 392.9 L765.7 393.1 L766.2 393.3 L766.7 393.5 L767.2 393.7 L767.7 393.8 L768.2 394.0 L768.7 394.1 L769.2 394.2 L769.7 394.3 L770.2 394.4 L770.7 394.5 L771.2 394.6 L771.7 394.7" fill="none" stroke="#FF0000" stroke-width="1.30" stroke-linecap="round" stroke-linejoin="round"/>
<path d="M571.8 405.9 L571.8 405.8 L572.3 405.8 L572.8 405.8 L573.3 405.8 L573.8 405.8 L574.3 405.7 L574.8 405.7 L575.3 405.7 L575.8 405.7 L576.3 405.6 L576.8 405.6 L577.3 405.6 L577.8 405.5 L578.3 405.5 L578.8 405.5 L579.3 405.4 L579.8 405.4 L580.3 405.3 L580.8 405.3 L581.3 405.2 L581.8 405.2 L582.3 405.1 L582.8 405.0 L583.3 404.9 L583.8 404.8 L584.3 404.7 L584.8 404.6 L585.3 404.5 L585.8 404.4 L586.3 404.3 L586.8 404.1 L587.3 404.0 L587.8 403.8 L588.3 403.7 L588.8 403.5 L589.3 403.3 L589.8 403.1 L590.3 402.9 L590.8 402.7 L591.3 402.4 L591.8 402.1 L592.3 401.7 L592.8 401.3 L593.3 401.0 L593.8 400.6 L594.3 400.2 L594.8 399.8 L595.3 399.3 L595.8 398.8 L596.3 398.3 L596.8 397.8 L597.3 397.2 L597.8 396.6 L598.3 396.0 L598.8 395.4 L599.4 394.8 L599.9 394.1 L600.4 393.5 L600.9 392.8 L601.4 392.1 L601.9 391.4 L602.4 390.7 L602.9 389.9 L603.4 389.1 L603.9 388.3 L604.4 387.4 L604.9 386.5 L605.4 385.6 L605.9 384.5 L606.4 383.5 L606.9 382.4 L607.4 381.2 L607.9 380.0 L608.4 378.8 L608.9 377.6 L609.4 376.4 L609.9 375.1 L610.4 373.9 L610.9 372.6 L611.4 371.2 L611.9 369.9 L612.4 368.5 L612.9 367.1 L613.4 365.6 L613.9 364.2 L614.4 362.8 L614.9 361.3 L615.4 359.9 L615.9 358.4 L616.4 356.9 L616.9 355.4 L617.4 353.9 L617.9 352.4 L618.4 350.8 L618.9 349.3 L619.4 347.8 L619.9 346.3 L620.4 344.8 L620.9 343.3 L621.4 341.7 L621.9 340.2 L622.4 338.7 L622.9 337.2 L623.4 335.7 L623.9 334.2 L624.4 332.7 L624.9 331.2 L625.4 329.8 L625.9 328.4 L626.4 326.9 L626.9 325.5 L627.4 324.1 L627.9 322.7 L628.4 321.3 L628.9 320.0 L629.4 318.7 L629.9 317.4 L630.4 316.2 L630.9 315.0 L631.4 313.9 L631.9 312.7 L632.4 311.6 L632.9 310.5 L633.4 309.5 L633.9 308.5 L634.4 307.5 L634.9 306.6 L635.4 305.7 L635.9 304.9 L636.4 304.1 L636.9 303.3 L637.4 302.6 L637.9 301.9 L638.4 301.3 L638.9 300.7 L639.4 300.2 L639.9 299.7 L640.4 299.2 L640.9 298.7 L641.4 298.4 L641.9 298.0 L642.4 297.8 L642.9 297.7 L643.4 297.6 L643.9 297.5 L644.4 297.4 L644.9 297.3 L645.4 297.3 L645.9 297.2 L646.4 297.3 L646.9 297.4 L647.4 297.6 L647.9 297.8 L648.4 298.0 L648.9 298.2 L649.5 298.5 L650.0 298.8 L650.5 299.1 L651.0 299.4 L651.5 299.7 L652.0 300.1 L652.5 300.5 L653.0 301.0 L653.5 301.4 L654.0 302.0 L654.5 302.6 L655.0 303.2 L655.5 303.9 L656.0 304.5 L656.5 305.2 L657.0 305.9 L657.5 306.6 L658.0 307.3 L658.5 308.0 L659.0 308.8 L659.5 309.5 L660.0 310.3 L660.5 311.1 L661.0 311.9 L661.5 312.7 L662.0 313.5 L662.5 314.4 L663.0 315.2 L663.5 316.1 L664.0 316.9 L664.5 317.8 L665.0 318.7 L665.5 319.6 L666.0 320.5 L666.5 321.5 L667.0 322.4 L667.5 323.3 L668.0 324.3 L668.5 325.2 L669.0 326.2 L669.5 327.1 L670.0 328.1 L670.5 329.0 L671.0 329.9 L671.5 330.9 L672.0 331.8 L672.5 332.8 L673.0 333.7 L673.5 334.7 L674.0 335.7 L674.5 336.7 L675.0 337.7 L675.5 338.7 L676.0 339.7 L676.5 340.7 L677.0 341.7 L677.5 342.8 L678.0 343.8 L678.5 344.8 L679.0 345.7 L679.5 346.7 L680.0 347.6 L680.5 348.5 L681.0 349.4 L681.5 350.3 L682.0 351.1 L682.5 352.0 L683.0 352.8 L683.5 353.7 L684.0 354.6 L684.5 355.4 L685.0 356.3 L685.5 357.1 L686.0 357.9 L686.5 358.8 L687.0 359.6 L687.5 360.4 L688.0 361.3 L688.5 362.1 L689.0 362.9 L689.5 363.7 L690.0 364.4 L690.5 365.2 L691.0 366.0 L691.5 366.8 L692.0 367.5 L692.5 368.3 L693.0 369.0 L693.5 369.8 L694.0 370.5 L694.5 371.2 L695.0 371.8 L695.5 372.5 L696.0 373.2 L696.5 373.8 L697.0 374.4 L697.5 375.0 L698.0 375.6 L698.5 376.2 L699.0 376.8 L699.6 377.4 L700.1 378.0 L700.6 378.6 L701.1 379.2 L701.6 379.7 L702.1 380.3 L702.6 380.8 L703.1 381.4 L703.6 381.9 L704.1 382.4 L704.6 382.9 L705.1 383.4 L705.6 383.9 L706.1 384.4 L706.6 384.9 L707.1 385.3 L707.6 385.8 L708.1 386.2 L708.6 386.6 L709.1 387.1 L709.6 387.5 L710.1 387.9 L710.6 388.3 L711.1 388.7 L711.6 389.1 L712.1 389.5 L712.6 389.8 L713.1 390.2 L713.6 390.6 L714.1 390.9 L714.6 391.3 L715.1 391.6 L715.6 391.9 L716.1 392.2 L716.6 392.6 L717.1 392.9 L717.6 393.2 L718.1 393.5 L718.6 393.8 L719.1 394.0 L719.6 394.3 L720.1 394.5 L720.6 394.8 L721.1 395.0 L721.6 395.3 L722.1 395.5 L722.6 395.7 L723.1 396.0 L723.6 396.2 L724.1 396.4 L724.6 396.6 L725.1 396.8 L725.6 397.0 L726.1 397.2 L726.6 397.4 L727.1 397.6 L727.6 397.8 L728.1 398.0 L728.6 398.1 L729.1 398.3 L729.6 398.5 L730.1 398.7 L730.6 398.9 L731.1 399.0 L731.6 399.2 L732.1 399.4 L732.6 399.5 L733.1 399.7 L733.6 399.8 L734.1 400.0 L734.6 400.1 L735.1 400.3 L735.6 400.4 L736.1 400.5 L736.6 400.7 L737.1 400.8 L737.6 400.9 L738.1 401.0 L738.6 401.2 L739.1 401.3 L739.6 401.4 L740.1 401.5 L740.6 401.6 L741.1 401.8 L741.6 401.9 L742.1 402.0 L742.6 402.1 L743.1 402.2 L743.6 402.3 L744.1 402.3 L744.6 402.4 L745.1 402.5 L745.6 402.6 L746.1 402.7 L746.6 402.7 L747.1 402.8 L747.6 402.9 L748.1 403.0 L748.6 403.0 L749.1 403.1 L749.7 403.2 L750.2 403.2 L750.7 403.3 L751.2 403.3 L751.7 403.4 L752.2 403.5 L752.7 403.5 L753.2 403.6 L753.7 403.6 L754.2 403.7 L754.7 403.7 L755.2 403.8 L755.7 403.8 L756.2 403.9 L756.7 403.9 L757.2 403.9 L757.7 404.0 L758.2 404.0 L758.7 404.1 L759.2 404.1 L759.7 404.2 L760.2 404.2 L760.7 404.2 L761.2 404.3 L761.7 404.3 L762.2 404.3 L762.7 404.4 L763.2 404.4 L763.7 404.4 L764.2 404.5 L764.7 404.5 L765.2 404.5 L765.7 404.6 L766.2 404.6 L766.7 404.6 L767.2 404.6 L767.7 404.6 L768.2 404.7 L768.7 404.7 L769.2 404.7 L769.7 404.7 L770.2 404.7 L770.7 404.8 L771.2 404.8 L771.7 404.8 L771.7 405.9Z" fill="rgb(128,204,48)" fill-opacity="0.70" stroke="none"/>
<path d="M571.8 405.8 L572.3 405.8 L572.8 405.8 L573.3 405.8 L573.8 405.8 L574.3 405.7 L574.8 405.7 L575.3 405.7 L575.8 405.7 L576.3 405.6 L576.8 405.6 L577.3 405.6 L577.8 405.5 L578.3 405.5 L578.8 405.5 L579.3 405.4 L579.8 405.4 L580.3 405.3 L580.8 405.3 L581.3 405.2 L581.8 405.2 L582.3 405.1 L582.8 405.0 L583.3 404.9 L583.8 404.8 L584.3 404.7 L584.8 404.6 L585.3 404.5 L585.8 404.4 L586.3 404.3 L586.8 404.1 L587.3 404.0 L587.8 403.8 L588.3 403.7 L588.8 403.5 L589.3 403.3 L589.8 403.1 L590.3 402.9 L590.8 402.7 L591.3 402.4 L591.8 402.1 L592.3 401.7 L592.8 401.3 L593.3 401.0 L593.8 400.6 L594.3 400.2 L594.8 399.8 L595.3 399.3 L595.8 398.8 L596.3 398.3 L596.8 397.8 L597.3 397.2 L597.8 396.6 L598.3 396.0 L598.8 395.4 L599.4 394.8 L599.9 394.1 L600.4 393.5 L600.9 392.8 L601.4 392.1 L601.9 391.4 L602.4 390.7 L602.9 389.9 L603.4 389.1 L603.9 388.3 L604.4 387.4 L604.9 386.5 L605.4 385.6 L605.9 384.5 L606.4 383.5 L606.9 382.4 L607.4 381.2 L607.9 380.0 L608.4 378.8 L608.9 377.6 L609.4 376.4 L609.9 375.1 L610.4 373.9 L610.9 372.6 L611.4 371.2 L611.9 369.9 L612.4 368.5 L612.9 367.1 L613.4 365.6 L613.9 364.2 L614.4 362.8 L614.9 361.3 L615.4 359.9 L615.9 358.4 L616.4 356.9 L616.9 355.4 L617.4 353.9 L617.9 352.4 L618.4 350.8 L618.9 349.3 L619.4 347.8 L619.9 346.3 L620.4 344.8 L620.9 343.3 L621.4 341.7 L621.9 340.2 L622.4 338.7 L622.9 337.2 L623.4 335.7 L623.9 334.2 L624.4 332.7 L624.9 331.2 L625.4 329.8 L625.9 328.4 L626.4 326.9 L626.9 325.5 L627.4 324.1 L627.9 322.7 L628.4 321.3 L628.9 320.0 L629.4 318.7 L629.9 317.4 L630.4 316.2 L630.9 315.0 L631.4 313.9 L631.9 312.7 L632.4 311.6 L632.9 310.5 L633.4 309.5 L633.9 308.5 L634.4 307.5 L634.9 306.6 L635.4 305.7 L635.9 304.9 L636.4 304.1 L636.9 303.3 L637.4 302.6 L637.9 301.9 L638.4 301.3 L638.9 300.7 L639.4 300.2 L639.9 299.7 L640.4 299.2 L640.9 298.7 L641.4 298.4 L641.9 298.0 L642.4 297.8 L642.9 297.7 L643.4 297.6 L643.9 297.5 L644.4 297.4 L644.9 297.3 L645.4 297.3 L645.9 297.2 L646.4 297.3 L646.9 297.4 L647.4 297.6 L647.9 297.8 L648.4 298.0 L648.9 298.2 L649.5 298.5 L650.0 298.8 L650.5 299.1 L651.0 299.4 L651.5 299.7 L652.0 300.1 L652.5 300.5 L653.0 301.0 L653.5 301.4 L654.0 302.0 L654.5 302.6 L655.0 303.2 L655.5 303.9 L656.0 304.5 L656.5 305.2 L657.0 305.9 L657.5 306.6 L658.0 307.3 L658.5 308.0 L659.0 308.8 L659.5 309.5 L660.0 310.3 L660.5 311.1 L661.0 311.9 L661.5 312.7 L662.0 313.5 L662.5 314.4 L663.0 315.2 L663.5 316.1 L664.0 316.9 L664.5 317.8 L665.0 318.7 L665.5 319.6 L666.0 320.5 L666.5 321.5 L667.0 322.4 L667.5 323.3 L668.0 324.3 L668.5 325.2 L669.0 326.2 L669.5 327.1 L670.0 328.1 L670.5 329.0 L671.0 329.9 L671.5 330.9 L672.0 331.8 L672.5 332.8 L673.0 333.7 L673.5 334.7 L674.0 335.7 L674.5 336.7 L675.0 337.7 L675.5 338.7 L676.0 339.7 L676.5 340.7 L677.0 341.7 L677.5 342.8 L678.0 343.8 L678.5 344.8 L679.0 345.7 L679.5 346.7 L680.0 347.6 L680.5 348.5 L681.0 349.4 L681.5 350.3 L682.0 351.1 L682.5 352.0 L683.0 352.8 L683.5 353.7 L684.0 354.6 L684.5 355.4 L685.0 356.3 L685.5 357.1 L686.0 357.9 L686.5 358.8 L687.0 359.6 L687.5 360.4 L688.0 361.3 L688.5 362.1 L689.0 362.9 L689.5 363.7 L690.0 364.4 L690.5 365.2 L691.0 366.0 L691.5 366.8 L692.0 367.5 L692.5 368.3 L693.0 369.0 L693.5 369.8 L694.0 370.5 L694.5 371.2 L695.0 371.8 L695.5 372.5 L696.0 373.2 L696.5 373.8 L697.0 374.4 L697.5 375.0 L698.0 375.6 L698.5 376.2 L699.0 376.8 L699.6 377.4 L700.1 378.0 L700.6 378.6 L701.1 379.2 L701.6 379.7 L702.1 380.3 L702.6 380.8 L703.1 381.4 L703.6 381.9 L704.1 382.4 L704.6 382.9 L705.1 383.4 L705.6 383.9 L706.1 384.4 L706.6 384.9 L707.1 385.3 L707.6 385.8 L708.1 386.2 L708.6 386.6 L709.1 387.1 L709.6 387.5 L710.1 387.9 L710.6 388.3 L711.1 388.7 L711.6 389.1 L712.1 389.5 L712.6 389.8 L713.1 390.2 L713.6 390.6 L714.1 390.9 L714.6 391.3 L715.1 391.6 L715.6 391.9 L716.1 392.2 L716.6 392.6 L717.1 392.9 L717.6 393.2 L718.1 393.5 L718.6 393.8 L719.1 394.0 L719.6 394.3 L720.1 394.5 L720.6 394.8 L721.1 395.0 L721.6 395.3 L722.1 395.5 L722.6 395.7 L723.1 396.0 L723.6 396.2 L724.1 396.4 L724.6 396.6 L725.1 396.8 L725.6 397.0 L726.1 397.2 L726.6 397.4 L727.1 397.6 L727.6 397.8 L728.1 398.0 L728.6 398.1 L729.1 398.3 L729.6 398.5 L730.1 398.7 L730.6 398.9 L731.1 399.0 L731.6 399.2 L732.1 399.4 L732.6 399.5 L733.1 399.7 L733.6 399.8 L734.1 400.0 L734.6 400.1 L735.1 400.3 L735.6 400.4 L736.1 400.5 L736.6 400.7 L737.1 400.8 L737.6 400.9 L738.1 401.0 L738.6 401.2 L739.1 401.3 L739.6 401.4 L740.1 401.5 L740.6 401.6 L741.1 401.8 L741.6 401.9 L742.1 402.0 L742.6 402.1 L743.1 402.2 L743.6 402.3 L744.1 402.3 L744.6 402.4 L745.1 402.5 L745.6 402.6 L746.1 402.7 L746.6 402.7 L747.1 402.8 L747.6 402.9 L748.1 403.0 L748.6 403.0 L749.1 403.1 L749.7 403.2 L750.2 403.2 L750.7 403.3 L751.2 403.3 L751.7 403.4 L752.2 403.5 L752.7 403.5 L753.2 403.6 L753.7 403.6 L754.2 403.7 L754.7 403.7 L755.2 403.8 L755.7 403.8 L756.2 403.9 L756.7 403.9 L757.2 403.9 L757.7 404.0 L758.2 404.0 L758.7 404.1 L759.2 404.1 L759.7 404.2 L760.2 404.2 L760.7 404.2 L761.2 404.3 L761.7 404.3 L762.2 404.3 L762.7 404.4 L763.2 404.4 L763.7 404.4 L764.2 404.5 L764.7 404.5 L765.2 404.5 L765.7 404.6 L766.2 404.6 L766.7 404.6 L767.2 404.6 L767.7 404.6 L768.2 404.7 L768.7 404.7 L769.2 404.7 L769.7 404.7 L770.2 404.7 L770.7 404.8 L771.2 404.8 L771.7 404.8" fill="none" stroke="#008B00" stroke-width="1.30" stroke-linecap="round" stroke-linejoin="round"/>
<path d="M652.2 240.3 L652.2 412.2" fill="none" stroke="#000" stroke-width="2.40" stroke-linecap="butt" stroke-linejoin="round"/>
</g>
<rect x="571.10" y="240.30" width="199.10" height="171.87" fill="none" stroke="#000" stroke-width="1.15"/>
<line x1="578.20" y1="412.17" x2="763.10" y2="412.17" stroke="#000" stroke-width="1.15"/>
<line x1="578.20" y1="412.17" x2="578.20" y2="419.57" stroke="#000" stroke-width="1.15"/>
<line x1="615.18" y1="412.17" x2="615.18" y2="419.57" stroke="#000" stroke-width="1.15"/>
<line x1="652.16" y1="412.17" x2="652.16" y2="419.57" stroke="#000" stroke-width="1.15"/>
<line x1="689.14" y1="412.17" x2="689.14" y2="419.57" stroke="#000" stroke-width="1.15"/>
<line x1="726.12" y1="412.17" x2="726.12" y2="419.57" stroke="#000" stroke-width="1.15"/>
<line x1="763.10" y1="412.17" x2="763.10" y2="419.57" stroke="#000" stroke-width="1.15"/>
<text x="578.20" y="436.87" font-size="14.26" text-anchor="middle" font-family="'Liberation Sans', sans-serif" fill="#000">0.1</text>
<text x="615.18" y="436.87" font-size="14.26" text-anchor="middle" font-family="'Liberation Sans', sans-serif" fill="#000">0.2</text>
<text x="652.16" y="436.87" font-size="14.26" text-anchor="middle" font-family="'Liberation Sans', sans-serif" fill="#000">0.3</text>
<text x="689.14" y="436.87" font-size="14.26" text-anchor="middle" font-family="'Liberation Sans', sans-serif" fill="#000">0.4</text>
<text x="726.12" y="436.87" font-size="14.26" text-anchor="middle" font-family="'Liberation Sans', sans-serif" fill="#000">0.5</text>
<text x="763.10" y="436.87" font-size="14.26" text-anchor="middle" font-family="'Liberation Sans', sans-serif" fill="#000">0.6</text>
<line x1="571.10" y1="246.28" x2="571.10" y2="405.80" stroke="#000" stroke-width="1.15"/>
<line x1="563.70" y1="405.80" x2="571.10" y2="405.80" stroke="#000" stroke-width="1.15"/>
<line x1="563.70" y1="365.92" x2="571.10" y2="365.92" stroke="#000" stroke-width="1.15"/>
<line x1="563.70" y1="326.04" x2="571.10" y2="326.04" stroke="#000" stroke-width="1.15"/>
<line x1="563.70" y1="286.16" x2="571.10" y2="286.16" stroke="#000" stroke-width="1.15"/>
<line x1="563.70" y1="246.28" x2="571.10" y2="246.28" stroke="#000" stroke-width="1.15"/>
<text x="555.10" y="405.80" font-size="14.26" text-anchor="middle" font-family="'Liberation Sans', sans-serif" fill="#000" transform="rotate(-90 555.10 405.80)">0</text>
<text x="555.10" y="365.92" font-size="14.26" text-anchor="middle" font-family="'Liberation Sans', sans-serif" fill="#000" transform="rotate(-90 555.10 365.92)">2</text>
<text x="555.10" y="326.04" font-size="14.26" text-anchor="middle" font-family="'Liberation Sans', sans-serif" fill="#000" transform="rotate(-90 555.10 326.04)">4</text>
<text x="555.10" y="286.16" font-size="14.26" text-anchor="middle" font-family="'Liberation Sans', sans-serif" fill="#000" transform="rotate(-90 555.10 286.16)">6</text>
<text x="555.10" y="246.28" font-size="14.26" text-anchor="middle" font-family="'Liberation Sans', sans-serif" fill="#000" transform="rotate(-90 555.10 246.28)">8</text>
<g transform="translate(670.65 412.17)" stroke="#000" fill="none" stroke-linecap="round">
<path d="M-3.7 28.0 Q-3.2 26.0 -2.1 25.95" stroke-width="0.75"/>
<path d="M-2.1 26.0 Q-0.5 26.5 1.2 33.2" stroke-width="1.35"/>
<path d="M4.15 26.1 L1.2 33.6" stroke-width="1.1"/>
<path d="M1.3 32.4 C2.3 35.4 1.8 37.9 0.5 37.9 C-0.9 37.9 -0.7 35.4 1.3 32.4 Z" fill="#000" stroke="none"/>
</g>
<g clip-path="url(#c20)">
<path d="M114.6 479.5 L115.6 479.5 L116.6 479.5 L117.6 479.5 L118.6 479.5 L119.6 479.5 L120.6 479.5 L121.6 479.5 L122.6 479.5 L123.6 479.5 L124.6 479.6 L125.7 479.6 L126.7 479.6 L127.7 479.6 L128.7 479.7 L129.7 479.7 L130.7 479.7 L131.7 479.8 L132.7 479.8 L133.7 479.8 L134.7 479.9 L135.7 479.9 L136.7 480.0 L137.7 480.0 L138.7 480.1 L139.7 480.1 L140.7 480.2 L141.7 480.2 L142.7 480.3 L143.7 480.4 L144.7 480.4 L145.7 480.5 L146.7 480.6 L147.7 480.7 L148.7 480.7 L149.7 480.8 L150.7 480.9 L151.7 481.0 L152.7 481.2 L153.7 481.5 L154.7 481.8 L155.7 482.2 L156.7 482.6 L157.7 483.1 L158.7 483.7 L159.7 484.2 L160.7 484.8 L161.7 485.5 L162.7 486.1 L163.7 486.8 L164.7 487.7 L165.7 488.7 L166.7 489.9 L167.7 491.1 L168.7 492.5 L169.7 493.9 L170.7 495.4 L171.7 497.0 L172.7 498.8 L173.7 500.8 L174.7 502.9 L175.7 505.1 L176.7 507.4 L177.7 510.0 L178.7 512.7 L179.7 515.6 L180.7 518.6 L181.7 521.8 L182.7 525.2 L183.7 528.8 L184.7 532.4 L185.7 536.1 L186.7 539.7 L187.7 543.4 L188.7 547.1 L189.7 550.8 L190.7 554.5 L191.7 558.2 L192.7 561.8 L193.7 565.3 L194.7 568.7 L195.7 572.0 L196.7 575.2 L197.7 578.3 L198.7 581.4 L199.7 584.3 L200.7 586.9 L201.7 589.4 L202.7 591.7 L203.7 593.8 L204.7 595.7 L205.7 597.4 L206.7 599.0 L207.7 600.4 L208.7 601.7 L209.7 602.9 L210.7 604.0 L211.7 605.0 L212.7 606.1 L213.8 607.0 L214.8 608.0 L215.8 608.8 L216.8 609.5 L217.8 610.3 L218.8 610.9 L219.8 611.5 L220.8 612.0 L221.8 612.5 L222.8 612.9 L223.8 613.3 L224.8 613.7 L225.8 614.0 L226.8 614.3 L227.8 614.5 L228.8 614.8 L229.8 615.0 L230.8 615.2 L231.8 615.4 L232.8 615.6 L233.8 615.8 L234.8 616.0 L235.8 616.2 L236.8 616.4 L237.8 616.5 L238.8 616.7 L239.8 616.8 L240.8 616.9 L241.8 617.0 L242.8 617.1 L243.8 617.2 L244.8 617.2 L245.8 617.3 L246.8 617.4 L247.8 617.4 L248.8 617.5 L249.8 617.5 L250.8 617.6 L251.8 617.6 L252.8 617.7 L253.8 617.7 L254.8 617.8 L255.8 617.8 L256.8 617.9 L257.8 617.9 L258.8 617.9 L259.8 618.0 L260.8 618.0 L261.8 618.0 L262.8 618.0 L263.8 618.1 L264.8 618.1 L265.8 618.1 L266.8 618.1 L267.8 618.2 L268.8 618.2 L269.8 618.2 L270.8 618.2 L271.8 618.2 L272.8 618.2 L273.8 618.3 L274.8 618.3 L275.8 618.3 L276.8 618.3 L277.8 618.3 L278.8 618.3 L279.8 618.3 L280.8 618.4 L281.8 618.4 L282.8 618.4 L283.8 618.4 L284.8 618.4 L285.8 618.4 L286.8 618.4 L287.8 618.4 L288.8 618.4 L289.8 618.5 L290.8 618.5 L291.8 618.5 L292.8 618.5 L293.8 618.5 L294.8 618.5 L295.8 618.5 L295.8 638.7 L294.8 638.7 L293.8 638.7 L292.8 638.7 L291.8 638.7 L290.8 638.7 L289.8 638.7 L288.8 638.6 L287.8 638.6 L286.8 638.6 L285.8 638.6 L284.8 638.5 L283.8 638.5 L282.8 638.5 L281.8 638.5 L280.8 638.5 L279.8 638.4 L278.8 638.4 L277.8 638.4 L276.8 638.3 L275.8 638.3 L274.8 638.3 L273.8 638.3 L272.8 638.2 L271.8 638.2 L270.8 638.2 L269.8 638.1 L268.8 638.1 L267.8 638.0 L266.8 638.0 L265.8 638.0 L264.8 637.9 L263.8 637.9 L262.8 637.8 L261.8 637.8 L260.8 637.7 L259.8 637.7 L258.8 637.6 L257.8 637.6 L256.8 637.5 L255.8 637.5 L254.8 637.4 L253.8 637.3 L252.8 637.3 L251.8 637.2 L250.8 637.1 L249.8 637.1 L248.8 637.0 L247.8 636.9 L246.8 636.8 L245.8 636.7 L244.8 636.6 L243.8 636.5 L242.8 636.4 L241.8 636.3 L240.8 636.2 L239.8 636.1 L238.8 635.9 L237.8 635.7 L236.8 635.5 L235.8 635.3 L234.8 635.1 L233.8 634.9 L232.8 634.7 L231.8 634.4 L230.8 634.1 L229.8 633.9 L228.8 633.6 L227.8 633.3 L226.8 632.9 L225.8 632.6 L224.8 632.2 L223.8 631.7 L222.8 631.2 L221.8 630.7 L220.8 630.1 L219.8 629.5 L218.8 628.8 L217.8 628.0 L216.8 627.2 L215.8 626.4 L214.8 625.4 L213.8 624.5 L212.7 623.4 L211.7 622.3 L210.7 621.2 L209.7 620.0 L208.7 618.7 L207.7 617.1 L206.7 615.4 L205.7 613.4 L204.7 611.5 L203.7 609.5 L202.7 607.4 L201.7 605.1 L200.7 602.6 L199.7 599.9 L198.7 596.9 L197.7 593.8 L196.7 590.5 L195.7 587.0 L194.7 583.3 L193.7 579.5 L192.7 575.5 L191.7 571.3 L190.7 567.0 L189.7 562.6 L188.7 558.0 L187.7 553.4 L186.7 548.9 L185.7 544.5 L184.7 540.2 L183.7 536.0 L182.7 532.0 L181.7 528.2 L180.7 524.4 L179.7 520.9 L178.7 517.6 L177.7 514.5 L176.7 511.5 L175.7 508.8 L174.7 506.2 L173.7 503.8 L172.7 501.6 L171.7 499.7 L170.7 497.9 L169.7 496.3 L168.7 494.8 L167.7 493.5 L166.7 492.3 L165.7 491.1 L164.7 490.0 L163.7 489.1 L162.7 488.3 L161.7 487.5 L160.7 486.9 L159.7 486.2 L158.7 485.7 L157.7 485.2 L156.7 484.7 L155.7 484.2 L154.7 483.8 L153.7 483.4 L152.7 483.0 L151.7 482.7 L150.7 482.6 L149.7 482.5 L148.7 482.4 L147.7 482.3 L146.7 482.2 L145.7 482.1 L144.7 482.0 L143.7 482.0 L142.7 481.9 L141.7 481.8 L140.7 481.7 L139.7 481.7 L138.7 481.6 L137.7 481.5 L136.7 481.5 L135.7 481.4 L134.7 481.4 L133.7 481.3 L132.7 481.3 L131.7 481.2 L130.7 481.2 L129.7 481.2 L128.7 481.1 L127.7 481.1 L126.7 481.1 L125.7 481.0 L124.6 481.0 L123.6 481.0 L122.6 481.0 L121.6 481.0 L120.6 480.9 L119.6 480.9 L118.6 480.9 L117.6 480.9 L116.6 480.9 L115.6 480.9 L114.6 480.9Z" fill="#FE9B7D" stroke="none"/>
<path d="M115.1 480.0 L116.0 480.0 L116.9 480.0 L117.8 480.0 L118.7 480.0 L119.6 480.0 L120.5 480.0 L121.4 480.0 L122.3 480.0 L123.2 480.0 L124.1 480.0 L125.0 480.0 L126.0 480.0 L126.9 480.1 L127.8 480.1 L128.7 480.1 L129.6 480.1 L130.5 480.1 L131.4 480.1 L132.3 480.1 L133.2 480.1 L134.1 480.1 L135.0 480.2 L135.9 480.2 L136.8 480.2 L137.7 480.2 L138.6 480.3 L139.5 480.3 L140.4 480.3 L141.3 480.4 L142.2 480.4 L143.1 480.5 L144.0 480.6 L144.9 480.6 L145.9 480.7 L146.8 480.8 L147.7 480.9 L148.6 481.0 L149.5 481.2 L150.4 481.3 L151.3 481.5 L152.2 481.7 L153.1 481.9 L154.0 482.1 L154.9 482.4 L155.8 482.7 L156.7 483.0 L157.6 483.4 L158.5 483.8 L159.4 484.3 L160.3 484.8 L161.2 485.4 L162.1 486.0 L163.0 486.7 L163.9 487.6 L164.8 488.4 L165.8 489.4 L166.7 490.5 L167.6 491.8 L168.5 493.1 L169.4 494.6 L170.3 496.2 L171.2 498.0 L172.1 499.9 L173.0 502.0 L173.9 504.3 L174.8 506.7 L175.7 509.3 L176.6 512.1 L177.5 515.1 L178.4 518.3 L179.3 521.5 L180.2 525.0 L181.1 528.6 L182.0 532.2 L182.9 536.0 L183.8 539.9 L184.7 543.8 L185.7 547.7 L186.6 551.6 L187.5 555.5 L188.4 559.3 L189.3 563.1 L190.2 566.8 L191.1 570.4 L192.0 573.9 L192.9 577.2 L193.8 580.4 L194.7 583.5 L195.6 586.4 L196.5 589.1 L197.4 591.8 L198.3 594.2 L199.2 596.5 L200.1 598.7 L201.0 600.8 L201.9 602.7 L202.8 604.5 L203.7 606.1 L204.6 607.7 L205.6 609.2 L206.5 610.5 L207.4 611.8 L208.3 613.0 L209.2 614.1 L210.1 615.1 L211.0 616.0 L211.9 616.9 L212.8 617.7 L213.7 618.5 L214.6 619.2 L215.5 619.9 L216.4 620.5 L217.3 621.1 L218.2 621.6 L219.1 622.1 L220.0 622.6 L220.9 623.0 L221.8 623.4 L222.7 623.8 L223.6 624.1 L224.5 624.5 L225.4 624.8 L226.4 625.1 L227.3 625.3 L228.2 625.6 L229.1 625.8 L230.0 626.0 L230.9 626.2 L231.8 626.4 L232.7 626.6 L233.6 626.8 L234.5 626.9 L235.4 627.1 L236.3 627.2 L237.2 627.3 L238.1 627.4 L239.0 627.5 L239.9 627.6 L240.8 627.7 L241.7 627.8 L242.6 627.9 L243.5 628.0 L244.4 628.1 L245.3 628.1 L246.3 628.2 L247.2 628.3 L248.1 628.3 L249.0 628.4 L249.9 628.4 L250.8 628.5 L251.7 628.5 L252.6 628.5 L253.5 628.6 L254.4 628.6 L255.3 628.6 L256.2 628.7 L257.1 628.7 L258.0 628.7 L258.9 628.8 L259.8 628.8 L260.7 628.8 L261.6 628.8 L262.5 628.8 L263.4 628.9 L264.3 628.9 L265.2 628.9 L266.2 628.9 L267.1 628.9 L268.0 628.9 L268.9 629.0 L269.8 629.0 L270.7 629.0 L271.6 629.0 L272.5 629.0 L273.4 629.0 L274.3 629.0 L275.2 629.0 L276.1 629.0 L277.0 629.0 L277.9 629.0 L278.8 629.0 L279.7 629.1 L280.6 629.1 L281.5 629.1 L282.4 629.1 L283.3 629.1 L284.2 629.1 L285.1 629.1 L286.1 629.1 L287.0 629.1 L287.9 629.1 L288.8 629.1 L289.7 629.1 L290.6 629.1 L291.5 629.1 L292.4 629.1 L293.3 629.1 L294.2 629.1 L295.1 629.1 L296.0 629.1" fill="none" stroke="#000" stroke-width="2.70" stroke-linecap="round" stroke-linejoin="round"/>
<path d="M115.1 480.3 L116.0 480.3 L116.9 480.3 L117.8 480.3 L118.7 480.3 L119.6 480.3 L120.5 480.3 L121.4 480.3 L122.3 480.3 L123.2 480.3 L124.1 480.3 L125.0 480.3 L126.0 480.3 L126.9 480.3 L127.8 480.4 L128.7 480.4 L129.6 480.4 L130.5 480.4 L131.4 480.4 L132.3 480.4 L133.2 480.4 L134.1 480.4 L135.0 480.4 L135.9 480.5 L136.8 480.5 L137.7 480.5 L138.6 480.5 L139.5 480.6 L140.4 480.6 L141.3 480.6 L142.2 480.7 L143.1 480.7 L144.0 480.8 L144.9 480.8 L145.9 480.9 L146.8 481.0 L147.7 481.1 L148.6 481.2 L149.5 481.3 L150.4 481.4 L151.3 481.5 L152.2 481.7 L153.1 481.9 L154.0 482.1 L154.9 482.3 L155.8 482.6 L156.7 482.8 L157.6 483.2 L158.5 483.5 L159.4 483.9 L160.3 484.4 L161.2 484.9 L162.1 485.4 L163.0 486.0 L163.9 486.7 L164.8 487.5 L165.8 488.4 L166.7 489.3 L167.6 490.4 L168.5 491.6 L169.4 492.9 L170.3 494.3 L171.2 495.8 L172.1 497.6 L173.0 499.4 L173.9 501.5 L174.8 503.7 L175.7 506.0 L176.6 508.6 L177.5 511.3 L178.4 514.2 L179.3 517.3 L180.2 520.5 L181.1 523.9 L182.0 527.4 L182.9 531.1 L183.8 534.8 L184.7 538.6 L185.7 542.5 L186.6 546.4 L187.5 550.3 L188.4 554.2 L189.3 558.1 L190.2 561.9 L191.1 565.6 L192.0 569.3 L192.9 572.8 L193.8 576.2 L194.7 579.4 L195.6 582.6 L196.5 585.5 L197.4 588.4 L198.3 591.0 L199.2 593.6 L200.1 595.9 L201.0 598.2 L201.9 600.3 L202.8 602.2 L203.7 604.1 L204.6 605.8 L205.6 607.4 L206.5 609.3 L207.4 610.7 L208.3 612.0 L209.2 613.2 L210.1 614.4 L211.0 615.4 L211.9 616.4 L212.8 617.3 L213.7 618.2 L214.6 619.0 L215.5 619.7 L216.4 620.4 L217.3 621.0 L218.2 621.6 L219.1 622.1 L220.0 622.7 L220.9 623.1 L221.8 623.6 L222.7 624.0 L223.6 624.4 L224.5 624.7 L225.4 625.1 L226.4 625.4 L227.3 625.7 L228.2 626.0 L229.1 626.2 L230.0 626.5 L230.9 626.7 L231.8 626.9 L232.7 627.1 L233.6 627.3 L234.5 627.4 L235.4 627.6 L236.3 627.7 L237.2 627.9 L238.1 628.0 L239.0 628.1 L239.9 628.2 L240.8 628.3 L241.7 628.4 L242.6 628.5 L243.5 628.6 L244.4 628.7 L245.3 628.8 L246.3 628.8 L247.2 628.9 L248.1 629.0 L249.0 629.0 L249.9 629.1 L250.8 629.1 L251.7 629.2 L252.6 629.2 L253.5 629.3 L254.4 629.3 L255.3 629.3 L256.2 629.4 L257.1 629.4 L258.0 629.4 L258.9 629.5 L259.8 629.5 L260.7 629.5 L261.6 629.5 L262.5 629.6 L263.4 629.6 L264.3 629.6 L265.2 629.6 L266.2 629.6 L267.1 629.6 L268.0 629.7 L268.9 629.7 L269.8 629.7 L270.7 629.7 L271.6 629.7 L272.5 629.7 L273.4 629.7 L274.3 629.7 L275.2 629.7 L276.1 629.8 L277.0 629.8 L277.9 629.8 L278.8 629.8 L279.7 629.8 L280.6 629.8 L281.5 629.8 L282.4 629.8 L283.3 629.8 L284.2 629.8 L285.1 629.8 L286.1 629.8 L287.0 629.8 L287.9 629.8 L288.8 629.8 L289.7 629.8 L290.6 629.8 L291.5 629.8 L292.4 629.8 L293.3 629.8 L294.2 629.8 L295.1 629.8 L296.0 629.8" fill="none" stroke="#FF0000" stroke-width="2.60" stroke-linecap="butt" stroke-linejoin="round" stroke-dasharray="8 9"/>
</g>
<rect x="108.05" y="473.85" width="195.10" height="171.51" fill="none" stroke="#000" stroke-width="1.15"/>
<line x1="115.10" y1="645.36" x2="296.00" y2="645.36" stroke="#000" stroke-width="1.15"/>
<line x1="115.10" y1="645.36" x2="115.10" y2="652.76" stroke="#000" stroke-width="1.15"/>
<line x1="151.28" y1="645.36" x2="151.28" y2="652.76" stroke="#000" stroke-width="1.15"/>
<line x1="187.46" y1="645.36" x2="187.46" y2="652.76" stroke="#000" stroke-width="1.15"/>
<line x1="223.64" y1="645.36" x2="223.64" y2="652.76" stroke="#000" stroke-width="1.15"/>
<line x1="259.82" y1="645.36" x2="259.82" y2="652.76" stroke="#000" stroke-width="1.15"/>
<line x1="296.00" y1="645.36" x2="296.00" y2="652.76" stroke="#000" stroke-width="1.15"/>
<text x="115.10" y="670.86" font-size="14.26" text-anchor="middle" font-family="'Liberation Sans', sans-serif" fill="#000">0</text>
<text x="151.28" y="670.86" font-size="14.26" text-anchor="middle" font-family="'Liberation Sans', sans-serif" fill="#000">20</text>
<text x="187.46" y="670.86" font-size="14.26" text-anchor="middle" font-family="'Liberation Sans', sans-serif" fill="#000">40</text>
<text x="223.64" y="670.86" font-size="14.26" text-anchor="middle" font-family="'Liberation Sans', sans-serif" fill="#000">60</text>
<text x="259.82" y="670.86" font-size="14.26" text-anchor="middle" font-family="'Liberation Sans', sans-serif" fill="#000">80</text>
<text x="296.00" y="670.86" font-size="14.26" text-anchor="middle" font-family="'Liberation Sans', sans-serif" fill="#000">100</text>
<line x1="108.05" y1="480.00" x2="108.05" y2="621.40" stroke="#000" stroke-width="1.15"/>
<line x1="100.65" y1="621.40" x2="108.05" y2="621.40" stroke="#000" stroke-width="1.15"/>
<line x1="100.65" y1="586.05" x2="108.05" y2="586.05" stroke="#000" stroke-width="1.15"/>
<line x1="100.65" y1="550.70" x2="108.05" y2="550.70" stroke="#000" stroke-width="1.15"/>
<line x1="100.65" y1="515.35" x2="108.05" y2="515.35" stroke="#000" stroke-width="1.15"/>
<line x1="100.65" y1="480.00" x2="108.05" y2="480.00" stroke="#000" stroke-width="1.15"/>
<text x="92.05" y="621.40" font-size="14.26" text-anchor="middle" font-family="'Liberation Sans', sans-serif" fill="#000" transform="rotate(-90 92.05 621.40)">2e+04</text>
<text x="92.05" y="550.70" font-size="14.26" text-anchor="middle" font-family="'Liberation Sans', sans-serif" fill="#000" transform="rotate(-90 92.05 550.70)">6e+04</text>
<text x="92.05" y="480.00" font-size="14.26" text-anchor="middle" font-family="'Liberation Sans', sans-serif" fill="#000" transform="rotate(-90 92.05 480.00)">1e+05</text>
<text x="205.60" y="684.16" font-size="17.40" text-anchor="middle" font-family="'Liberation Sans', sans-serif" fill="#000">time</text>
<text x="74.30" y="559.61" font-size="18.60" text-anchor="middle" font-family="'Liberation Sans', sans-serif" fill="#000" transform="rotate(-90 74.30 559.61)">S(t)</text>
<path d="M210.3 488.5 L232.7 488.5" fill="none" stroke="#000" stroke-width="2.50" stroke-linecap="round" stroke-linejoin="round"/>
<path d="M209.1 504.0 L224.0 504.0" fill="none" stroke="#FF0000" stroke-width="2.50" stroke-linecap="butt" stroke-linejoin="round"/>
<path d="M231.0 504.0 L233.9 504.0" fill="none" stroke="#FF0000" stroke-width="2.50" stroke-linecap="butt" stroke-linejoin="round"/>
<rect x="212.3" y="515.00" width="9.6" height="8.0" fill="#FE9B7D"/>
<text x="244.30" y="493.30" font-size="12.67" text-anchor="start" font-family="'Liberation Sans', sans-serif" fill="#000">true</text>
<text x="244.30" y="508.30" font-size="12.67" text-anchor="start" font-family="'Liberation Sans', sans-serif" fill="#000">post.med</text>
<text x="244.30" y="523.30" font-size="12.67" text-anchor="start" font-family="'Liberation Sans', sans-serif" fill="#000">95% CI</text>
<g clip-path="url(#c21)">
<path d="M344.6 479.7 L345.6 479.7 L346.6 479.7 L347.6 479.7 L348.6 479.7 L349.6 479.7 L350.6 479.7 L351.6 479.7 L352.6 479.7 L353.6 479.7 L354.6 479.7 L355.6 479.7 L356.6 479.8 L357.6 479.8 L358.6 479.8 L359.6 479.8 L360.6 479.8 L361.6 479.8 L362.6 479.9 L363.6 479.9 L364.6 479.9 L365.6 479.9 L366.6 480.0 L367.6 480.0 L368.6 480.0 L369.6 480.0 L370.6 480.1 L371.6 480.1 L372.6 480.1 L373.6 480.2 L374.6 480.2 L375.6 480.2 L376.6 480.3 L377.6 480.3 L378.6 480.4 L379.6 480.4 L380.6 480.5 L381.6 480.5 L382.6 480.5 L383.6 480.6 L384.6 480.6 L385.6 480.7 L386.6 480.8 L387.6 480.9 L388.6 481.0 L389.6 481.2 L390.6 481.4 L391.6 481.6 L392.6 481.9 L393.6 482.1 L394.6 482.4 L395.6 482.6 L396.6 482.8 L397.6 483.1 L398.6 483.3 L399.6 483.5 L400.6 483.8 L401.6 484.0 L402.6 484.2 L403.6 484.5 L404.6 484.7 L405.6 485.0 L406.6 485.2 L407.6 485.5 L408.6 485.7 L409.6 486.0 L410.6 486.2 L411.6 486.4 L412.6 486.6 L413.6 486.9 L414.6 487.1 L415.6 487.3 L416.6 487.5 L417.6 487.7 L418.6 488.0 L419.6 488.2 L420.6 488.4 L421.6 488.6 L422.6 488.8 L423.6 489.1 L424.6 489.3 L425.6 489.5 L426.6 489.8 L427.6 490.0 L428.6 490.3 L429.6 490.5 L430.7 490.7 L431.7 491.0 L432.7 491.2 L433.7 491.5 L434.7 491.7 L435.7 491.9 L436.7 492.2 L437.7 492.4 L438.7 492.6 L439.7 492.9 L440.7 493.1 L441.7 493.3 L442.7 493.6 L443.7 493.8 L444.7 494.0 L445.7 494.2 L446.7 494.4 L447.7 494.6 L448.7 494.8 L449.7 495.0 L450.7 495.2 L451.7 495.4 L452.7 495.5 L453.7 495.7 L454.7 495.9 L455.7 496.0 L456.7 496.2 L457.7 496.4 L458.7 496.5 L459.7 496.6 L460.7 496.8 L461.7 496.9 L462.7 497.0 L463.7 497.1 L464.7 497.2 L465.7 497.4 L466.7 497.5 L467.7 497.6 L468.7 497.6 L469.7 497.7 L470.7 497.8 L471.7 497.9 L472.7 498.0 L473.7 498.1 L474.7 498.2 L475.7 498.3 L476.7 498.4 L477.7 498.5 L478.7 498.5 L479.7 498.6 L480.7 498.7 L481.7 498.8 L482.7 498.9 L483.7 498.9 L484.7 499.0 L485.7 499.1 L486.7 499.1 L487.7 499.2 L488.7 499.3 L489.7 499.4 L490.7 499.4 L491.7 499.5 L492.7 499.6 L493.7 499.6 L494.7 499.7 L495.7 499.8 L496.7 499.8 L497.7 499.9 L498.7 499.9 L499.7 499.9 L500.7 500.0 L501.7 500.0 L502.7 500.0 L503.7 500.0 L504.7 500.0 L505.7 500.1 L506.7 500.1 L507.7 500.1 L508.7 500.1 L509.7 500.1 L510.7 500.1 L511.7 500.2 L512.7 500.2 L513.7 500.2 L514.7 500.2 L515.7 500.2 L516.7 500.3 L517.7 500.3 L518.7 500.3 L519.7 500.3 L520.7 500.3 L521.7 500.4 L522.7 500.4 L523.7 500.4 L524.7 500.4 L525.7 500.4 L526.7 500.5 L527.7 500.5 L528.7 500.5 L529.7 500.5 L530.7 500.5 L531.7 500.6 L532.7 500.6 L533.7 500.6 L534.7 500.6 L535.7 500.6 L536.7 500.6 L537.7 500.7 L538.7 500.7 L540.0 579.3 L539.0 579.3 L538.0 579.2 L537.0 579.1 L536.0 579.1 L535.0 579.0 L534.0 578.9 L533.0 578.8 L532.0 578.7 L531.0 578.6 L530.0 578.5 L529.0 578.4 L528.0 578.3 L527.0 578.2 L526.0 578.1 L525.0 578.0 L524.0 577.9 L523.0 577.8 L522.0 577.6 L521.0 577.5 L520.0 577.3 L519.0 577.1 L518.0 577.0 L517.0 576.8 L516.0 576.6 L515.0 576.4 L513.9 576.2 L512.9 576.0 L511.9 575.8 L510.9 575.6 L509.9 575.3 L508.9 575.1 L507.9 574.8 L506.9 574.6 L505.9 574.3 L504.9 574.0 L503.9 573.7 L502.9 573.4 L501.9 573.0 L500.9 572.7 L499.9 572.3 L498.9 571.9 L497.9 571.5 L496.9 571.1 L495.9 570.7 L494.9 570.3 L493.9 569.9 L492.9 569.4 L491.9 569.0 L490.9 568.5 L489.9 568.0 L488.9 567.5 L487.9 567.0 L486.9 566.5 L485.9 565.9 L484.9 565.3 L483.9 564.7 L482.9 564.1 L481.9 563.4 L480.9 562.8 L479.9 562.1 L478.9 561.4 L477.9 560.7 L476.9 560.0 L475.9 559.3 L474.9 558.6 L473.9 557.9 L472.9 557.1 L471.9 556.4 L470.9 555.7 L469.9 554.9 L468.9 554.2 L467.9 553.4 L466.9 552.6 L465.9 551.8 L464.9 551.0 L463.9 550.1 L462.8 549.3 L461.8 548.4 L460.8 547.5 L459.8 546.6 L458.8 545.7 L457.8 544.9 L456.8 544.0 L455.8 543.1 L454.8 542.2 L453.8 541.4 L452.8 540.5 L451.8 539.6 L450.8 538.7 L449.8 537.8 L448.8 536.9 L447.8 535.9 L446.8 534.9 L445.8 533.9 L444.8 532.8 L443.8 531.8 L442.8 530.7 L441.8 529.5 L440.8 528.4 L439.8 527.3 L438.8 526.1 L437.8 524.9 L436.8 523.7 L435.8 522.4 L434.8 521.1 L433.8 519.8 L432.8 518.4 L431.8 517.1 L430.8 515.8 L429.8 514.4 L428.8 513.2 L427.8 511.9 L426.8 510.6 L425.8 509.4 L424.8 508.2 L423.8 506.9 L422.8 505.7 L421.8 504.5 L420.8 503.3 L419.8 502.2 L418.8 501.1 L417.8 500.0 L416.8 498.9 L415.8 497.8 L414.8 496.8 L413.8 495.7 L412.7 494.7 L411.7 493.7 L410.7 492.8 L409.7 491.9 L408.7 491.1 L407.7 490.2 L406.7 489.3 L405.7 488.3 L404.7 487.4 L403.7 486.5 L402.7 485.8 L401.7 485.2 L400.7 484.7 L399.7 484.5 L398.7 485.6 L397.7 486.5 L396.7 486.1 L395.7 485.6 L394.7 485.0 L393.7 484.4 L392.7 484.1 L391.7 483.7 L390.7 483.4 L389.7 483.1 L388.7 482.8 L387.7 482.5 L386.7 482.3 L385.7 482.2 L384.7 482.1 L383.7 482.1 L382.7 482.0 L381.7 482.0 L380.7 481.9 L379.7 481.8 L378.7 481.8 L377.7 481.7 L376.7 481.7 L375.7 481.6 L374.7 481.6 L373.7 481.5 L372.7 481.5 L371.7 481.5 L370.7 481.4 L369.7 481.4 L368.7 481.3 L367.7 481.3 L366.7 481.3 L365.7 481.2 L364.7 481.2 L363.7 481.2 L362.7 481.2 L361.6 481.1 L360.6 481.1 L359.6 481.1 L358.6 481.1 L357.6 481.1 L356.6 481.0 L355.6 481.0 L354.6 481.0 L353.6 481.0 L352.6 481.0 L351.6 481.0 L350.6 481.0 L349.6 481.0 L348.6 481.0 L347.6 480.9 L346.6 480.9 L345.6 480.9 L344.6 480.9Z" fill="#FE9B7D" stroke="none"/>
<path d="M344.6 480.4 L345.6 480.4 L346.6 480.4 L347.6 480.4 L348.6 480.4 L349.6 480.4 L350.6 480.5 L351.6 480.5 L352.6 480.5 L353.6 480.5 L354.6 480.5 L355.6 480.5 L356.6 480.5 L357.6 480.5 L358.6 480.5 L359.6 480.6 L360.6 480.6 L361.6 480.6 L362.6 480.6 L363.6 480.6 L364.6 480.7 L365.6 480.7 L366.6 480.7 L367.6 480.7 L368.6 480.8 L369.6 480.8 L370.6 480.8 L371.6 480.9 L372.6 480.9 L373.6 480.9 L374.6 481.0 L375.6 481.0 L376.6 481.0 L377.6 481.1 L378.6 481.1 L379.6 481.2 L380.6 481.2 L381.6 481.2 L382.6 481.3 L383.6 481.3 L384.6 481.4 L385.6 481.4 L386.6 481.5 L387.6 481.7 L388.6 481.8 L389.6 482.1 L390.6 482.3 L391.6 482.6 L392.6 482.9 L393.6 483.2 L394.6 483.5 L395.6 483.9 L396.6 484.2 L397.6 484.5 L398.6 484.9 L399.6 485.2 L400.6 485.6 L401.6 486.0 L402.6 486.4 L403.6 486.8 L404.6 487.3 L405.6 487.7 L406.6 488.1 L407.6 488.5 L408.6 488.9 L409.6 489.4 L410.6 489.8 L411.6 490.2 L412.6 490.7 L413.6 491.2 L414.6 491.6 L415.6 492.1 L416.6 492.6 L417.6 493.1 L418.6 493.6 L419.6 494.1 L420.6 494.7 L421.6 495.2 L422.6 495.7 L423.6 496.3 L424.6 496.9 L425.6 497.5 L426.6 498.1 L427.6 498.6 L428.6 499.2 L429.6 499.7 L430.7 500.2 L431.7 500.7 L432.7 501.2 L433.7 501.7 L434.7 502.2 L435.7 502.7 L436.7 503.2 L437.7 503.7 L438.7 504.2 L439.7 504.7 L440.7 505.2 L441.7 505.7 L442.7 506.2 L443.7 506.7 L444.7 507.2 L445.7 507.7 L446.7 508.2 L447.7 508.7 L448.7 509.2 L449.7 509.7 L450.7 510.2 L451.7 510.7 L452.7 511.1 L453.7 511.5 L454.7 511.9 L455.7 512.3 L456.7 512.7 L457.7 513.1 L458.7 513.5 L459.7 513.8 L460.7 514.2 L461.7 514.6 L462.7 515.0 L463.7 515.3 L464.7 515.7 L465.7 516.1 L466.7 516.4 L467.7 516.7 L468.7 517.0 L469.7 517.3 L470.7 517.6 L471.7 517.9 L472.7 518.2 L473.7 518.5 L474.7 518.8 L475.7 519.1 L476.7 519.3 L477.7 519.6 L478.7 519.9 L479.7 520.2 L480.7 520.4 L481.7 520.6 L482.7 520.9 L483.7 521.1 L484.7 521.3 L485.7 521.5 L486.7 521.7 L487.7 521.9 L488.7 522.1 L489.7 522.2 L490.7 522.4 L491.7 522.6 L492.7 522.8 L493.7 523.0 L494.7 523.1 L495.7 523.3 L496.7 523.4 L497.7 523.5 L498.7 523.7 L499.7 523.8 L500.7 523.9 L501.7 524.0 L502.7 524.1 L503.7 524.2 L504.7 524.3 L505.7 524.3 L506.7 524.4 L507.7 524.5 L508.7 524.6 L509.7 524.7 L510.7 524.8 L511.7 524.8 L512.7 524.9 L513.7 525.0 L514.7 525.1 L515.7 525.1 L516.7 525.2 L517.7 525.3 L518.7 525.3 L519.7 525.4 L520.7 525.4 L521.7 525.5 L522.7 525.5 L523.7 525.6 L524.7 525.6 L525.7 525.7 L526.7 525.7 L527.7 525.7 L528.7 525.8 L529.7 525.8 L530.7 525.8 L531.7 525.9 L532.7 525.9 L533.7 525.9 L534.7 525.9 L535.7 525.9 L536.7 526.0 L537.7 526.0 L538.7 526.0" fill="none" stroke="#FF0000" stroke-width="2.10" stroke-linecap="butt" stroke-linejoin="round" stroke-dasharray="9 7.3" stroke-dashoffset="11.5"/>
<path d="M344.6 480.2 L345.6 480.2 L346.6 480.2 L347.6 480.2 L348.6 480.2 L349.6 480.2 L350.6 480.2 L351.6 480.2 L352.6 480.2 L353.6 480.2 L354.6 480.2 L355.6 480.2 L356.6 480.2 L357.6 480.2 L358.6 480.2 L359.6 480.2 L360.6 480.2 L361.6 480.2 L362.6 480.2 L363.6 480.2 L364.6 480.2 L365.6 480.2 L366.6 480.2 L367.6 480.2 L368.6 480.2 L369.6 480.3 L370.6 480.3 L371.6 480.4 L372.6 480.4 L373.6 480.5 L374.6 480.5 L375.6 480.6 L376.6 480.7 L377.6 480.7 L378.6 480.8 L379.6 480.9 L380.6 480.9 L381.6 481.0 L382.6 481.1 L383.6 481.2 L384.6 481.3 L385.6 481.5 L386.6 481.6 L387.6 481.7 L388.6 481.9 L389.6 482.0 L390.6 482.2 L391.6 482.4 L392.6 482.6 L393.6 482.9 L394.6 483.1 L395.6 483.4 L396.6 483.7 L397.6 484.0 L398.6 484.4 L399.6 484.7 L400.6 485.0 L401.6 485.4 L402.6 485.8 L403.6 486.2 L404.6 486.6 L405.6 486.9 L406.6 487.3 L407.6 487.6 L408.6 488.0 L409.6 488.3 L410.6 488.6 L411.6 488.9 L412.6 489.3 L413.6 489.6 L414.6 489.9 L415.6 490.2 L416.6 490.5 L417.6 490.8 L418.6 491.1 L419.6 491.4 L420.6 491.7 L421.6 492.0 L422.6 492.3 L423.6 492.6 L424.6 492.9 L425.6 493.2 L426.6 493.5 L427.6 493.8 L428.6 494.2 L429.6 494.5 L430.7 494.8 L431.7 495.1 L432.7 495.5 L433.7 495.8 L434.7 496.1 L435.7 496.4 L436.7 496.8 L437.7 497.1 L438.7 497.4 L439.7 497.8 L440.7 498.1 L441.7 498.4 L442.7 498.8 L443.7 499.1 L444.7 499.4 L445.7 499.7 L446.7 500.0 L447.7 500.3 L448.7 500.6 L449.7 500.9 L450.7 501.2 L451.7 501.4 L452.7 501.7 L453.7 502.0 L454.7 502.2 L455.7 502.5 L456.7 502.8 L457.7 503.0 L458.7 503.3 L459.7 503.5 L460.7 503.7 L461.7 504.0 L462.7 504.2 L463.7 504.4 L464.7 504.6 L465.7 504.8 L466.7 505.0 L467.7 505.1 L468.7 505.3 L469.7 505.4 L470.7 505.5 L471.7 505.6 L472.7 505.7 L473.7 505.8 L474.7 505.9 L475.7 506.0 L476.7 506.1 L477.7 506.2 L478.7 506.3 L479.7 506.3 L480.7 506.4 L481.7 506.5 L482.7 506.6 L483.7 506.6 L484.7 506.7 L485.7 506.7 L486.7 506.8 L487.7 506.8 L488.7 506.9 L489.7 506.9 L490.7 507.0 L491.7 507.0 L492.7 507.1 L493.7 507.1 L494.7 507.2 L495.7 507.2 L496.7 507.2 L497.7 507.3 L498.7 507.3 L499.7 507.4 L500.7 507.4 L501.7 507.4 L502.7 507.5 L503.7 507.5 L504.7 507.5 L505.7 507.6 L506.7 507.6 L507.7 507.6 L508.7 507.7 L509.7 507.7 L510.7 507.7 L511.7 507.8 L512.7 507.8 L513.7 507.8 L514.7 507.8 L515.7 507.8 L516.7 507.9 L517.7 507.9 L518.7 507.9 L519.7 507.9 L520.7 507.9 L521.7 508.0 L522.7 508.0 L523.7 508.0 L524.7 508.0 L525.7 508.0 L526.7 508.0 L527.7 508.0 L528.7 508.0 L529.7 508.0 L530.7 508.0 L531.7 508.0 L532.7 508.0 L533.7 508.0 L534.7 508.0 L535.7 508.0 L536.7 508.0 L537.7 508.0 L538.7 508.0" fill="none" stroke="#000" stroke-width="2.40" stroke-linecap="round" stroke-linejoin="round"/>
</g>
<rect x="337.50" y="473.85" width="198.90" height="171.51" fill="none" stroke="#000" stroke-width="1.15"/>
<line x1="344.80" y1="645.36" x2="509.00" y2="645.36" stroke="#000" stroke-width="1.15"/>
<line x1="344.80" y1="645.36" x2="344.80" y2="652.76" stroke="#000" stroke-width="1.15"/>
<line x1="385.85" y1="645.36" x2="385.85" y2="652.76" stroke="#000" stroke-width="1.15"/>
<line x1="426.90" y1="645.36" x2="426.90" y2="652.76" stroke="#000" stroke-width="1.15"/>
<line x1="467.95" y1="645.36" x2="467.95" y2="652.76" stroke="#000" stroke-width="1.15"/>
<line x1="509.00" y1="645.36" x2="509.00" y2="652.76" stroke="#000" stroke-width="1.15"/>
<text x="344.80" y="670.86" font-size="14.26" text-anchor="middle" font-family="'Liberation Sans', sans-serif" fill="#000">0</text>
<text x="385.85" y="670.86" font-size="14.26" text-anchor="middle" font-family="'Liberation Sans', sans-serif" fill="#000">20</text>
<text x="426.90" y="670.86" font-size="14.26" text-anchor="middle" font-family="'Liberation Sans', sans-serif" fill="#000">40</text>
<text x="467.95" y="670.86" font-size="14.26" text-anchor="middle" font-family="'Liberation Sans', sans-serif" fill="#000">60</text>
<text x="509.00" y="670.86" font-size="14.26" text-anchor="middle" font-family="'Liberation Sans', sans-serif" fill="#000">80</text>
<line x1="337.50" y1="480.10" x2="337.50" y2="639.22" stroke="#000" stroke-width="1.15"/>
<line x1="330.10" y1="480.10" x2="337.50" y2="480.10" stroke="#000" stroke-width="1.15"/>
<line x1="330.10" y1="519.88" x2="337.50" y2="519.88" stroke="#000" stroke-width="1.15"/>
<line x1="330.10" y1="559.66" x2="337.50" y2="559.66" stroke="#000" stroke-width="1.15"/>
<line x1="330.10" y1="599.44" x2="337.50" y2="599.44" stroke="#000" stroke-width="1.15"/>
<line x1="330.10" y1="639.22" x2="337.50" y2="639.22" stroke="#000" stroke-width="1.15"/>
<text x="321.50" y="480.10" font-size="14.26" text-anchor="middle" font-family="'Liberation Sans', sans-serif" fill="#000" transform="rotate(-90 321.50 480.10)">1000000</text>
<text x="321.50" y="559.66" font-size="14.26" text-anchor="middle" font-family="'Liberation Sans', sans-serif" fill="#000" transform="rotate(-90 321.50 559.66)">990000</text>
<text x="321.50" y="639.22" font-size="14.26" text-anchor="middle" font-family="'Liberation Sans', sans-serif" fill="#000" transform="rotate(-90 321.50 639.22)">980000</text>
<text x="436.95" y="684.16" font-size="17.40" text-anchor="middle" font-family="'Liberation Sans', sans-serif" fill="#000">time</text>
<g clip-path="url(#c22)">
<path d="M577.6 479.4 L578.6 479.4 L579.6 479.4 L580.6 479.4 L581.6 479.4 L582.6 479.4 L583.6 479.4 L584.6 479.4 L585.6 479.4 L586.6 479.4 L587.6 479.4 L588.6 479.4 L589.6 479.4 L590.6 479.4 L591.6 479.4 L592.6 479.4 L593.6 479.4 L594.6 479.4 L595.6 479.4 L596.6 479.4 L597.6 479.4 L598.6 479.4 L599.6 479.4 L600.6 479.4 L601.6 479.4 L602.6 479.4 L603.6 479.4 L604.6 479.4 L605.6 479.4 L606.7 479.4 L607.7 479.4 L608.7 479.4 L609.7 479.4 L610.7 479.4 L611.7 479.4 L612.7 479.4 L613.7 479.4 L614.7 479.4 L615.7 479.4 L616.7 479.4 L617.7 479.4 L618.7 479.4 L619.7 479.4 L620.7 479.4 L621.7 479.4 L622.7 479.4 L623.7 479.4 L624.7 479.4 L625.7 479.4 L626.7 479.4 L627.7 479.4 L628.7 479.4 L629.7 479.4 L630.7 479.4 L631.7 479.5 L632.7 479.5 L633.7 479.6 L634.7 479.7 L635.7 479.8 L636.7 479.9 L637.7 480.0 L638.7 480.1 L639.7 480.2 L640.7 480.4 L641.7 480.5 L642.7 480.7 L643.7 480.8 L644.7 481.0 L645.7 481.2 L646.7 481.4 L647.7 481.6 L648.7 481.9 L649.7 482.1 L650.7 482.3 L651.7 482.6 L652.7 482.9 L653.7 483.2 L654.7 483.5 L655.7 483.8 L656.7 484.1 L657.7 484.5 L658.7 484.8 L659.7 485.2 L660.7 485.5 L661.7 485.9 L662.7 486.3 L663.7 486.7 L664.7 487.1 L665.7 487.5 L666.7 487.9 L667.7 488.4 L668.7 488.8 L669.7 489.2 L670.7 489.7 L671.7 490.1 L672.7 490.6 L673.7 491.1 L674.7 491.6 L675.7 492.1 L676.7 492.6 L677.7 493.1 L678.7 493.5 L679.7 494.0 L680.7 494.5 L681.7 494.9 L682.7 495.4 L683.7 495.9 L684.7 496.4 L685.7 496.8 L686.7 497.3 L687.7 497.7 L688.7 498.1 L689.8 498.5 L690.8 498.8 L691.8 499.2 L692.8 499.6 L693.8 499.9 L694.8 500.2 L695.8 500.5 L696.8 500.8 L697.8 501.1 L698.8 501.4 L699.8 501.7 L700.8 502.0 L701.8 502.2 L702.8 502.5 L703.8 502.7 L704.8 503.0 L705.8 503.2 L706.8 503.4 L707.8 503.6 L708.8 503.8 L709.8 503.9 L710.8 504.1 L711.8 504.2 L712.8 504.3 L713.8 504.4 L714.8 504.5 L715.8 504.6 L716.8 504.7 L717.8 504.8 L718.8 504.9 L719.8 504.9 L720.8 505.0 L721.8 505.1 L722.8 505.2 L723.8 505.2 L724.8 505.3 L725.8 505.4 L726.8 505.4 L727.8 505.5 L728.8 505.5 L729.8 505.6 L730.8 505.6 L731.8 505.7 L732.8 505.7 L733.8 505.7 L734.8 505.8 L735.8 505.8 L736.8 505.8 L737.8 505.8 L738.8 505.9 L739.8 505.9 L740.8 505.9 L741.8 505.9 L742.8 505.9 L743.8 505.9 L744.8 506.0 L745.8 506.0 L746.8 506.0 L747.8 506.0 L748.8 506.0 L749.8 506.0 L750.8 506.0 L751.8 506.0 L752.8 506.0 L753.8 506.0 L754.8 506.0 L755.8 506.0 L756.8 506.0 L757.8 506.0 L758.8 506.0 L759.8 506.0 L760.8 506.0 L761.8 506.0 L762.8 506.0 L762.8 617.1 L761.8 617.0 L760.8 616.9 L759.8 616.8 L758.8 616.7 L757.8 616.7 L756.8 616.6 L755.8 616.4 L754.8 616.3 L753.8 616.2 L752.8 616.1 L751.8 616.0 L750.8 615.9 L749.8 615.8 L748.8 615.6 L747.8 615.5 L746.8 615.4 L745.8 615.2 L744.8 615.1 L743.8 614.9 L742.8 614.8 L741.8 614.6 L740.8 614.4 L739.8 614.2 L738.8 614.0 L737.8 613.8 L736.8 613.5 L735.8 613.3 L734.8 613.0 L733.8 612.7 L732.8 612.4 L731.8 612.0 L730.8 611.7 L729.8 611.4 L728.8 611.0 L727.8 610.6 L726.8 610.2 L725.8 609.7 L724.8 609.2 L723.8 608.6 L722.8 607.9 L721.8 607.1 L720.8 606.3 L719.8 605.4 L718.8 604.5 L717.8 603.6 L716.8 602.6 L715.8 601.5 L714.8 600.4 L713.8 599.2 L712.8 597.9 L711.8 596.6 L710.8 595.1 L709.8 593.7 L708.8 592.1 L707.8 590.4 L706.8 588.7 L705.8 586.8 L704.8 584.9 L703.8 583.0 L702.8 580.9 L701.8 578.7 L700.8 576.5 L699.8 574.2 L698.8 571.9 L697.8 569.4 L696.8 566.9 L695.8 564.4 L694.8 561.8 L693.8 559.1 L692.8 556.4 L691.8 553.6 L690.8 550.8 L689.8 548.0 L688.7 545.3 L687.7 542.5 L686.7 539.7 L685.7 536.9 L684.7 534.2 L683.7 531.7 L682.7 529.2 L681.7 526.7 L680.7 524.4 L679.7 522.1 L678.7 519.8 L677.7 517.6 L676.7 515.5 L675.7 513.4 L674.7 511.4 L673.7 509.5 L672.7 507.6 L671.7 505.8 L670.7 504.1 L669.7 502.5 L668.7 500.9 L667.7 499.5 L666.7 498.0 L665.7 496.7 L664.7 495.5 L663.7 494.4 L662.7 493.4 L661.7 492.4 L660.7 491.5 L659.7 490.7 L658.7 489.9 L657.7 489.1 L656.7 488.4 L655.7 487.7 L654.7 487.0 L653.7 486.4 L652.7 485.8 L651.7 485.2 L650.7 484.7 L649.7 484.3 L648.7 483.9 L647.7 483.5 L646.7 483.2 L645.7 482.8 L644.7 482.5 L643.7 482.2 L642.7 482.0 L641.7 481.8 L640.7 481.6 L639.7 481.5 L638.7 481.4 L637.7 481.4 L636.7 481.4 L635.7 481.4 L634.7 481.3 L633.7 481.3 L632.7 481.3 L631.7 481.3 L630.7 481.2 L629.7 481.2 L628.7 481.2 L627.7 481.2 L626.7 481.1 L625.7 481.1 L624.7 481.1 L623.7 481.1 L622.7 481.1 L621.7 481.0 L620.7 481.0 L619.7 481.0 L618.7 481.0 L617.7 481.0 L616.7 480.9 L615.7 480.9 L614.7 480.9 L613.7 480.9 L612.7 480.9 L611.7 480.9 L610.7 480.9 L609.7 480.9 L608.7 480.8 L607.7 480.8 L606.7 480.8 L605.6 480.8 L604.6 480.8 L603.6 480.8 L602.6 480.8 L601.6 480.8 L600.6 480.8 L599.6 480.8 L598.6 480.8 L597.6 480.7 L596.6 480.7 L595.6 480.7 L594.6 480.7 L593.6 480.7 L592.6 480.7 L591.6 480.7 L590.6 480.7 L589.6 480.7 L588.6 480.7 L587.6 480.7 L586.6 480.7 L585.6 480.7 L584.6 480.7 L583.6 480.7 L582.6 480.7 L581.6 480.7 L580.6 480.7 L579.6 480.7 L578.6 480.7 L577.6 480.7Z" fill="#FE9B7D" stroke="none"/>
<path d="M577.6 480.2 L578.6 480.2 L579.6 480.2 L580.6 480.2 L581.6 480.2 L582.6 480.2 L583.6 480.2 L584.6 480.2 L585.6 480.2 L586.6 480.2 L587.6 480.2 L588.6 480.2 L589.6 480.2 L590.6 480.2 L591.6 480.2 L592.6 480.2 L593.6 480.2 L594.6 480.2 L595.6 480.2 L596.6 480.2 L597.6 480.2 L598.6 480.2 L599.6 480.2 L600.6 480.2 L601.6 480.2 L602.6 480.2 L603.6 480.2 L604.6 480.2 L605.6 480.2 L606.7 480.2 L607.7 480.2 L608.7 480.2 L609.7 480.2 L610.7 480.2 L611.7 480.2 L612.7 480.2 L613.7 480.2 L614.7 480.2 L615.7 480.2 L616.7 480.2 L617.7 480.2 L618.7 480.2 L619.7 480.2 L620.7 480.2 L621.7 480.2 L622.7 480.2 L623.7 480.2 L624.7 480.2 L625.7 480.2 L626.7 480.2 L627.7 480.2 L628.7 480.2 L629.7 480.2 L630.7 480.2 L631.7 480.3 L632.7 480.3 L633.7 480.4 L634.7 480.5 L635.7 480.6 L636.7 480.7 L637.7 480.8 L638.7 480.9 L639.7 481.0 L640.7 481.2 L641.7 481.3 L642.7 481.5 L643.7 481.6 L644.7 481.8 L645.7 482.0 L646.7 482.2 L647.7 482.4 L648.7 482.7 L649.7 482.9 L650.7 483.1 L651.7 483.4 L652.7 483.7 L653.7 484.0 L654.7 484.3 L655.7 484.6 L656.7 484.9 L657.7 485.3 L658.7 485.6 L659.7 486.0 L660.7 486.3 L661.7 486.7 L662.7 487.1 L663.7 487.5 L664.7 487.9 L665.7 488.3 L666.7 488.7 L667.7 489.2 L668.7 489.6 L669.7 490.0 L670.7 490.5 L671.7 490.9 L672.7 491.4 L673.7 491.9 L674.7 492.4 L675.7 492.9 L676.7 493.4 L677.7 493.9 L678.7 494.3 L679.7 494.8 L680.7 495.3 L681.7 495.7 L682.7 496.2 L683.7 496.7 L684.7 497.2 L685.7 497.6 L686.7 498.1 L687.7 498.5 L688.7 498.9 L689.8 499.3 L690.8 499.6 L691.8 500.0 L692.8 500.4 L693.8 500.7 L694.8 501.0 L695.8 501.3 L696.8 501.6 L697.8 501.9 L698.8 502.2 L699.8 502.5 L700.8 502.8 L701.8 503.0 L702.8 503.3 L703.8 503.5 L704.8 503.8 L705.8 504.0 L706.8 504.2 L707.8 504.4 L708.8 504.6 L709.8 504.7 L710.8 504.9 L711.8 505.0 L712.8 505.1 L713.8 505.2 L714.8 505.3 L715.8 505.4 L716.8 505.5 L717.8 505.6 L718.8 505.7 L719.8 505.7 L720.8 505.8 L721.8 505.9 L722.8 506.0 L723.8 506.0 L724.8 506.1 L725.8 506.2 L726.8 506.2 L727.8 506.3 L728.8 506.3 L729.8 506.4 L730.8 506.4 L731.8 506.5 L732.8 506.5 L733.8 506.5 L734.8 506.6 L735.8 506.6 L736.8 506.6 L737.8 506.6 L738.8 506.7 L739.8 506.7 L740.8 506.7 L741.8 506.7 L742.8 506.7 L743.8 506.7 L744.8 506.8 L745.8 506.8 L746.8 506.8 L747.8 506.8 L748.8 506.8 L749.8 506.8 L750.8 506.8 L751.8 506.8 L752.8 506.8 L753.8 506.8 L754.8 506.8 L755.8 506.8 L756.8 506.8 L757.8 506.8 L758.8 506.8 L759.8 506.8 L760.8 506.8 L761.8 506.8 L762.8 506.8" fill="none" stroke="#000" stroke-width="2.40" stroke-linecap="round" stroke-linejoin="round"/>
<path d="M577.6 480.2 L578.6 480.2 L579.6 480.2 L580.6 480.2 L581.6 480.2 L582.6 480.2 L583.6 480.2 L584.6 480.2 L585.6 480.2 L586.6 480.2 L587.6 480.2 L588.6 480.2 L589.6 480.2 L590.6 480.2 L591.6 480.2 L592.6 480.2 L593.6 480.2 L594.6 480.2 L595.6 480.2 L596.6 480.2 L597.6 480.2 L598.6 480.2 L599.6 480.3 L600.6 480.3 L601.6 480.3 L602.6 480.3 L603.6 480.3 L604.6 480.3 L605.6 480.3 L606.7 480.3 L607.7 480.3 L608.7 480.3 L609.7 480.3 L610.7 480.4 L611.7 480.4 L612.7 480.4 L613.7 480.4 L614.7 480.4 L615.7 480.4 L616.7 480.4 L617.7 480.5 L618.7 480.5 L619.7 480.5 L620.7 480.5 L621.7 480.5 L622.7 480.5 L623.7 480.6 L624.7 480.6 L625.7 480.6 L626.7 480.6 L627.7 480.7 L628.7 480.7 L629.7 480.7 L630.7 480.7 L631.7 480.7 L632.7 480.8 L633.7 480.8 L634.7 480.8 L635.7 480.9 L636.7 480.9 L637.7 480.9 L638.7 480.9 L639.7 481.0 L640.7 481.1 L641.7 481.3 L642.7 481.5 L643.7 481.7 L644.7 482.0 L645.7 482.2 L646.7 482.5 L647.7 482.8 L648.7 483.1 L649.7 483.4 L650.7 483.8 L651.7 484.1 L652.7 484.5 L653.7 484.9 L654.7 485.3 L655.7 485.7 L656.7 486.2 L657.7 486.6 L658.7 487.1 L659.7 487.6 L660.7 488.1 L661.7 488.6 L662.7 489.2 L663.7 489.7 L664.7 490.4 L665.7 491.0 L666.7 491.6 L667.7 492.3 L668.7 493.0 L669.7 493.7 L670.7 494.5 L671.7 495.3 L672.7 496.2 L673.7 497.1 L674.7 498.0 L675.7 499.0 L676.7 499.9 L677.7 500.7 L678.7 501.7 L679.7 502.6 L680.7 503.5 L681.7 504.4 L682.7 505.3 L683.7 506.2 L684.7 507.1 L685.7 507.9 L686.7 508.8 L687.7 509.6 L688.7 510.4 L689.8 511.3 L690.8 512.1 L691.8 512.9 L692.8 513.7 L693.8 514.5 L694.8 515.3 L695.8 516.1 L696.8 516.8 L697.8 517.6 L698.8 518.3 L699.8 519.0 L700.8 519.7 L701.8 520.4 L702.8 521.1 L703.8 521.7 L704.8 522.3 L705.8 522.9 L706.8 523.5 L707.8 524.0 L708.8 524.5 L709.8 525.0 L710.8 525.4 L711.8 525.8 L712.8 526.3 L713.8 526.6 L714.8 527.0 L715.8 527.4 L716.8 527.7 L717.8 528.0 L718.8 528.3 L719.8 528.6 L720.8 528.9 L721.8 529.1 L722.8 529.4 L723.8 529.6 L724.8 529.8 L725.8 530.0 L726.8 530.2 L727.8 530.3 L728.8 530.5 L729.8 530.7 L730.8 530.8 L731.8 531.0 L732.8 531.1 L733.8 531.2 L734.8 531.3 L735.8 531.5 L736.8 531.6 L737.8 531.7 L738.8 531.8 L739.8 531.9 L740.8 532.0 L741.8 532.1 L742.8 532.1 L743.8 532.2 L744.8 532.3 L745.8 532.4 L746.8 532.4 L747.8 532.5 L748.8 532.5 L749.8 532.6 L750.8 532.6 L751.8 532.7 L752.8 532.7 L753.8 532.8 L754.8 532.8 L755.8 532.9 L756.8 532.9 L757.8 533.0 L758.8 533.0 L759.8 533.0 L760.8 533.0 L761.8 533.1 L762.8 533.1" fill="none" stroke="#FF0000" stroke-width="2.10" stroke-linecap="butt" stroke-linejoin="round" stroke-dasharray="8 9"/>
</g>
<rect x="571.10" y="473.85" width="199.10" height="171.51" fill="none" stroke="#000" stroke-width="1.15"/>
<line x1="578.20" y1="645.36" x2="742.40" y2="645.36" stroke="#000" stroke-width="1.15"/>
<line x1="578.20" y1="645.36" x2="578.20" y2="652.76" stroke="#000" stroke-width="1.15"/>
<line x1="619.25" y1="645.36" x2="619.25" y2="652.76" stroke="#000" stroke-width="1.15"/>
<line x1="660.30" y1="645.36" x2="660.30" y2="652.76" stroke="#000" stroke-width="1.15"/>
<line x1="701.35" y1="645.36" x2="701.35" y2="652.76" stroke="#000" stroke-width="1.15"/>
<line x1="742.40" y1="645.36" x2="742.40" y2="652.76" stroke="#000" stroke-width="1.15"/>
<text x="578.20" y="670.86" font-size="14.26" text-anchor="middle" font-family="'Liberation Sans', sans-serif" fill="#000">0</text>
<text x="619.25" y="670.86" font-size="14.26" text-anchor="middle" font-family="'Liberation Sans', sans-serif" fill="#000">20</text>
<text x="660.30" y="670.86" font-size="14.26" text-anchor="middle" font-family="'Liberation Sans', sans-serif" fill="#000">40</text>
<text x="701.35" y="670.86" font-size="14.26" text-anchor="middle" font-family="'Liberation Sans', sans-serif" fill="#000">60</text>
<text x="742.40" y="670.86" font-size="14.26" text-anchor="middle" font-family="'Liberation Sans', sans-serif" fill="#000">80</text>
<line x1="571.10" y1="480.10" x2="571.10" y2="639.22" stroke="#000" stroke-width="1.15"/>
<line x1="563.70" y1="480.10" x2="571.10" y2="480.10" stroke="#000" stroke-width="1.15"/>
<line x1="563.70" y1="519.88" x2="571.10" y2="519.88" stroke="#000" stroke-width="1.15"/>
<line x1="563.70" y1="559.66" x2="571.10" y2="559.66" stroke="#000" stroke-width="1.15"/>
<line x1="563.70" y1="599.44" x2="571.10" y2="599.44" stroke="#000" stroke-width="1.15"/>
<line x1="563.70" y1="639.22" x2="571.10" y2="639.22" stroke="#000" stroke-width="1.15"/>
<text x="555.10" y="480.10" font-size="14.26" text-anchor="middle" font-family="'Liberation Sans', sans-serif" fill="#000" transform="rotate(-90 555.10 480.10)">1e+06</text>
<text x="555.10" y="559.66" font-size="14.26" text-anchor="middle" font-family="'Liberation Sans', sans-serif" fill="#000" transform="rotate(-90 555.10 559.66)">8e+05</text>
<text x="555.10" y="639.22" font-size="14.26" text-anchor="middle" font-family="'Liberation Sans', sans-serif" fill="#000" transform="rotate(-90 555.10 639.22)">6e+05</text>
<text x="670.65" y="684.16" font-size="17.40" text-anchor="middle" font-family="'Liberation Sans', sans-serif" fill="#000">time</text>
<g clip-path="url(#c30)">
<path d="M115.1 872.4 L116.0 872.4 L116.9 872.4 L117.8 872.4 L118.7 872.4 L119.6 872.4 L120.5 872.4 L121.4 872.4 L122.3 872.4 L123.2 872.3 L124.1 872.3 L125.0 872.3 L126.0 872.3 L126.9 872.3 L127.8 872.3 L128.7 872.3 L129.6 872.3 L130.5 872.3 L131.4 872.2 L132.3 872.2 L133.2 872.2 L134.1 872.2 L135.0 872.1 L135.9 872.1 L136.8 872.1 L137.7 872.0 L138.6 872.0 L139.5 871.9 L140.4 871.9 L141.3 871.8 L142.2 871.7 L143.1 871.6 L144.0 871.5 L144.9 871.4 L145.9 871.3 L146.8 871.2 L147.7 871.0 L148.6 870.8 L149.5 870.6 L150.4 870.4 L151.3 870.2 L152.2 869.9 L153.1 869.6 L154.0 869.2 L154.9 868.8 L155.8 868.4 L156.7 867.9 L157.6 867.4 L158.5 866.8 L159.4 866.1 L160.3 865.3 L161.2 864.5 L162.1 863.5 L163.0 862.5 L163.9 861.3 L164.8 860.0 L165.8 858.6 L166.7 857.0 L167.6 855.3 L168.5 853.5 L169.4 851.5 L170.3 849.3 L171.2 846.9 L172.1 844.4 L173.0 841.6 L173.9 838.7 L174.8 835.7 L175.7 832.5 L176.6 829.2 L177.5 825.7 L178.4 822.1 L179.3 818.5 L180.2 814.8 L181.1 811.1 L182.0 807.3 L182.9 803.6 L183.8 799.9 L184.7 796.3 L185.7 792.9 L186.6 789.5 L187.5 786.4 L188.4 783.6 L189.3 781.0 L190.2 778.9 L191.1 777.3 L192.0 776.1 L192.9 775.6 L193.8 775.6 L194.7 775.2 L195.6 774.8 L196.5 775.1 L197.4 776.0 L198.3 777.4 L199.2 779.4 L200.1 781.7 L201.0 784.4 L201.9 787.3 L202.8 790.3 L203.7 793.3 L204.6 796.4 L205.6 799.5 L206.5 802.5 L207.4 805.5 L208.3 808.4 L209.2 811.2 L210.1 813.9 L211.0 816.5 L211.9 819.1 L212.8 821.6 L213.7 824.0 L214.6 826.3 L215.5 828.6 L216.4 830.8 L217.3 832.9 L218.2 835.0 L219.1 836.9 L220.0 838.8 L220.9 840.6 L221.8 842.4 L222.7 844.0 L223.6 845.6 L224.5 847.1 L225.4 848.5 L226.4 849.9 L227.3 851.2 L228.2 852.4 L229.1 853.6 L230.0 854.7 L230.9 855.7 L231.8 856.7 L232.7 857.7 L233.6 858.5 L234.5 859.4 L235.4 860.2 L236.3 860.9 L237.2 861.6 L238.1 862.3 L239.0 862.9 L239.9 863.5 L240.8 864.0 L241.7 864.5 L242.6 865.0 L243.5 865.5 L244.4 865.9 L245.3 866.3 L246.3 866.7 L247.2 867.0 L248.1 867.4 L249.0 867.7 L249.9 868.0 L250.8 868.3 L251.7 868.5 L252.6 868.8 L253.5 869.0 L254.4 869.2 L255.3 869.4 L256.2 869.6 L257.1 869.8 L258.0 869.9 L258.9 870.1 L259.8 870.2 L260.7 870.4 L261.6 870.5 L262.5 870.6 L263.4 870.7 L264.3 870.8 L265.2 870.9 L266.2 871.0 L267.1 871.1 L268.0 871.2 L268.9 871.3 L269.8 871.3 L270.7 871.4 L271.6 871.5 L272.5 871.5 L273.4 871.6 L274.3 871.6 L275.2 871.7 L276.1 871.7 L277.0 871.8 L277.9 871.8 L278.8 871.8 L279.7 871.9 L280.6 871.9 L281.5 871.9 L282.4 872.0 L283.3 872.0 L284.2 872.0 L285.1 872.1 L286.1 872.1 L287.0 872.1 L287.9 872.1 L288.8 872.1 L289.7 872.1 L290.6 872.2 L291.5 872.2 L292.4 872.2 L293.3 872.2 L294.2 872.2 L295.1 872.2 L296.0 872.2 L296.0 872.3 L295.1 872.3 L294.2 872.3 L293.3 872.2 L292.4 872.2 L291.5 872.2 L290.6 872.2 L289.7 872.2 L288.8 872.2 L287.9 872.2 L287.0 872.2 L286.1 872.1 L285.1 872.1 L284.2 872.1 L283.3 872.1 L282.4 872.1 L281.5 872.0 L280.6 872.0 L279.7 872.0 L278.8 872.0 L277.9 871.9 L277.0 871.9 L276.1 871.9 L275.2 871.8 L274.3 871.8 L273.4 871.8 L272.5 871.7 L271.6 871.7 L270.7 871.6 L269.8 871.6 L268.9 871.5 L268.0 871.5 L267.1 871.4 L266.2 871.3 L265.2 871.3 L264.3 871.2 L263.4 871.1 L262.5 871.0 L261.6 870.9 L260.7 870.8 L259.8 870.7 L258.9 870.6 L258.0 870.5 L257.1 870.3 L256.2 870.2 L255.3 870.1 L254.4 869.9 L253.5 869.7 L252.6 869.5 L251.7 869.4 L250.8 869.2 L249.9 868.9 L249.0 868.7 L248.1 868.5 L247.2 868.2 L246.3 867.9 L245.3 867.6 L244.4 867.3 L243.5 867.0 L242.6 866.6 L241.7 866.2 L240.8 865.8 L239.9 865.4 L239.0 864.9 L238.1 864.4 L237.2 863.9 L236.3 863.3 L235.4 862.8 L234.5 862.1 L233.6 861.5 L232.7 860.8 L231.8 860.0 L230.9 859.2 L230.0 858.4 L229.1 857.5 L228.2 856.5 L227.3 855.5 L226.4 854.5 L225.4 853.4 L224.5 852.2 L223.6 850.9 L222.7 849.6 L221.8 848.3 L220.9 846.8 L220.0 845.3 L219.1 843.7 L218.2 842.0 L217.3 840.3 L216.4 838.5 L215.5 836.6 L214.6 834.6 L213.7 832.6 L212.8 830.5 L211.9 828.4 L211.0 826.2 L210.1 824.0 L209.2 821.8 L208.3 819.6 L207.4 817.5 L206.5 815.4 L205.6 813.4 L204.6 811.6 L203.7 809.8 L202.8 808.2 L201.9 806.8 L201.0 805.5 L200.1 804.4 L199.2 803.4 L198.3 802.4 L197.4 801.6 L196.5 800.8 L195.6 800.0 L194.7 799.2 L193.8 799.0 L192.9 799.4 L192.0 800.0 L191.1 800.8 L190.2 801.8 L189.3 803.1 L188.4 804.7 L187.5 806.6 L186.6 808.8 L185.7 811.2 L184.7 814.0 L183.8 816.9 L182.9 820.0 L182.0 823.2 L181.1 826.4 L180.2 829.6 L179.3 832.8 L178.4 835.9 L177.5 838.9 L176.6 841.7 L175.7 844.4 L174.8 846.9 L173.9 849.3 L173.0 851.5 L172.1 853.5 L171.2 855.3 L170.3 857.0 L169.4 858.6 L168.5 860.0 L167.6 861.3 L166.7 862.5 L165.8 863.5 L164.8 864.5 L163.9 865.3 L163.0 866.1 L162.1 866.8 L161.2 867.4 L160.3 867.9 L159.4 868.4 L158.5 868.8 L157.6 869.2 L156.7 869.6 L155.8 869.9 L154.9 870.2 L154.0 870.4 L153.1 870.6 L152.2 870.8 L151.3 871.0 L150.4 871.2 L149.5 871.3 L148.6 871.4 L147.7 871.5 L146.8 871.6 L145.9 871.7 L144.9 871.8 L144.0 871.9 L143.1 871.9 L142.2 872.0 L141.3 872.0 L140.4 872.1 L139.5 872.1 L138.6 872.1 L137.7 872.2 L136.8 872.2 L135.9 872.2 L135.0 872.2 L134.1 872.3 L133.2 872.3 L132.3 872.3 L131.4 872.3 L130.5 872.3 L129.6 872.3 L128.7 872.3 L127.8 872.3 L126.9 872.3 L126.0 872.4 L125.0 872.4 L124.1 872.4 L123.2 872.4 L122.3 872.4 L121.4 872.4 L120.5 872.4 L119.6 872.4 L118.7 872.4 L117.8 872.4 L116.9 872.4 L116.0 872.4 L115.1 872.4Z" fill="#FE9B7D" stroke="none"/>
<path d="M115.1 872.4 L116.0 872.4 L116.9 872.4 L117.8 872.4 L118.7 872.4 L119.6 872.4 L120.5 872.4 L121.4 872.4 L122.3 872.4 L123.2 872.4 L124.1 872.4 L125.0 872.3 L126.0 872.3 L126.9 872.3 L127.8 872.3 L128.7 872.3 L129.6 872.3 L130.5 872.3 L131.4 872.3 L132.3 872.3 L133.2 872.3 L134.1 872.2 L135.0 872.2 L135.9 872.2 L136.8 872.2 L137.7 872.1 L138.6 872.1 L139.5 872.1 L140.4 872.0 L141.3 872.0 L142.2 871.9 L143.1 871.8 L144.0 871.8 L144.9 871.7 L145.9 871.6 L146.8 871.5 L147.7 871.4 L148.6 871.3 L149.5 871.1 L150.4 871.0 L151.3 870.8 L152.2 870.6 L153.1 870.3 L154.0 870.1 L154.9 869.8 L155.8 869.5 L156.7 869.1 L157.6 868.7 L158.5 868.2 L159.4 867.7 L160.3 867.1 L161.2 866.5 L162.1 865.8 L163.0 865.0 L163.9 864.1 L164.8 863.1 L165.8 862.0 L166.7 860.8 L167.6 859.5 L168.5 858.0 L169.4 856.4 L170.3 854.6 L171.2 852.7 L172.1 850.6 L173.0 848.3 L173.9 845.9 L174.8 843.3 L175.7 840.5 L176.6 837.6 L177.5 834.5 L178.4 831.2 L179.3 827.9 L180.2 824.5 L181.1 821.0 L182.0 817.5 L182.9 814.0 L183.8 810.5 L184.7 807.2 L185.7 804.0 L186.6 801.0 L187.5 798.2 L188.4 795.7 L189.3 793.4 L190.2 791.6 L191.1 790.0 L192.0 788.8 L192.9 788.0 L193.8 787.6 L194.7 787.5 L195.6 787.7 L196.5 788.3 L197.4 789.2 L198.3 790.4 L199.2 791.8 L200.1 793.4 L201.0 795.3 L201.9 797.3 L202.8 799.4 L203.7 801.7 L204.6 804.1 L205.6 806.5 L206.5 808.9 L207.4 811.4 L208.3 813.9 L209.2 816.4 L210.1 818.8 L211.0 821.3 L211.9 823.6 L212.8 825.9 L213.7 828.2 L214.6 830.4 L215.5 832.5 L216.4 834.6 L217.3 836.6 L218.2 838.5 L219.1 840.3 L220.0 842.0 L220.9 843.7 L221.8 845.3 L222.7 846.8 L223.6 848.3 L224.5 849.6 L225.4 850.9 L226.4 852.2 L227.3 853.4 L228.2 854.5 L229.1 855.5 L230.0 856.5 L230.9 857.5 L231.8 858.4 L232.7 859.2 L233.6 860.0 L234.5 860.8 L235.4 861.5 L236.3 862.1 L237.2 862.8 L238.1 863.3 L239.0 863.9 L239.9 864.4 L240.8 864.9 L241.7 865.4 L242.6 865.8 L243.5 866.2 L244.4 866.6 L245.3 867.0 L246.3 867.3 L247.2 867.6 L248.1 867.9 L249.0 868.2 L249.9 868.5 L250.8 868.7 L251.7 868.9 L252.6 869.2 L253.5 869.4 L254.4 869.5 L255.3 869.7 L256.2 869.9 L257.1 870.1 L258.0 870.2 L258.9 870.3 L259.8 870.5 L260.7 870.6 L261.6 870.7 L262.5 870.8 L263.4 870.9 L264.3 871.0 L265.2 871.1 L266.2 871.2 L267.1 871.3 L268.0 871.3 L268.9 871.4 L269.8 871.5 L270.7 871.5 L271.6 871.6 L272.5 871.6 L273.4 871.7 L274.3 871.7 L275.2 871.8 L276.1 871.8 L277.0 871.8 L277.9 871.9 L278.8 871.9 L279.7 871.9 L280.6 872.0 L281.5 872.0 L282.4 872.0 L283.3 872.0 L284.2 872.1 L285.1 872.1 L286.1 872.1 L287.0 872.1 L287.9 872.1 L288.8 872.2 L289.7 872.2 L290.6 872.2 L291.5 872.2 L292.4 872.2 L293.3 872.2 L294.2 872.2 L295.1 872.2 L296.0 872.3" fill="none" stroke="#FF0000" stroke-width="2.60" stroke-linecap="butt" stroke-linejoin="round" stroke-dasharray="8 9"/>
<path d="M115.1 872.4 L116.0 872.4 L116.9 872.4 L117.8 872.4 L118.7 872.4 L119.6 872.4 L120.5 872.4 L121.4 872.4 L122.3 872.4 L123.2 872.3 L124.1 872.3 L125.0 872.3 L126.0 872.3 L126.9 872.3 L127.8 872.3 L128.7 872.3 L129.6 872.3 L130.5 872.3 L131.4 872.3 L132.3 872.2 L133.2 872.2 L134.1 872.2 L135.0 872.2 L135.9 872.1 L136.8 872.1 L137.7 872.1 L138.6 872.0 L139.5 872.0 L140.4 871.9 L141.3 871.8 L142.2 871.8 L143.1 871.7 L144.0 871.6 L144.9 871.5 L145.9 871.4 L146.8 871.3 L147.7 871.1 L148.6 871.0 L149.5 870.8 L150.4 870.6 L151.3 870.3 L152.2 870.1 L153.1 869.8 L154.0 869.5 L154.9 869.1 L155.8 868.7 L156.7 868.2 L157.6 867.7 L158.5 867.1 L159.4 866.5 L160.3 865.8 L161.2 865.0 L162.1 864.1 L163.0 863.1 L163.9 862.0 L164.8 860.8 L165.8 859.5 L166.7 858.0 L167.6 856.4 L168.5 854.6 L169.4 852.7 L170.3 850.6 L171.2 848.3 L172.1 845.9 L173.0 843.3 L173.9 840.5 L174.8 837.6 L175.7 834.5 L176.6 831.2 L177.5 827.9 L178.4 824.5 L179.3 821.0 L180.2 817.5 L181.1 814.0 L182.0 810.5 L182.9 807.2 L183.8 804.0 L184.7 801.0 L185.7 798.2 L186.6 795.7 L187.5 793.4 L188.4 791.6 L189.3 790.0 L190.2 788.8 L191.1 788.0 L192.0 787.6 L192.9 787.5 L193.8 787.7 L194.7 788.3 L195.6 789.2 L196.5 790.4 L197.4 791.8 L198.3 793.4 L199.2 795.3 L200.1 797.3 L201.0 799.4 L201.9 801.7 L202.8 804.1 L203.7 806.5 L204.6 808.9 L205.6 811.4 L206.5 813.9 L207.4 816.4 L208.3 818.8 L209.2 821.3 L210.1 823.6 L211.0 825.9 L211.9 828.2 L212.8 830.4 L213.7 832.5 L214.6 834.6 L215.5 836.6 L216.4 838.5 L217.3 840.3 L218.2 842.0 L219.1 843.7 L220.0 845.3 L220.9 846.8 L221.8 848.3 L222.7 849.6 L223.6 850.9 L224.5 852.2 L225.4 853.4 L226.4 854.5 L227.3 855.5 L228.2 856.5 L229.1 857.5 L230.0 858.4 L230.9 859.2 L231.8 860.0 L232.7 860.8 L233.6 861.5 L234.5 862.1 L235.4 862.8 L236.3 863.3 L237.2 863.9 L238.1 864.4 L239.0 864.9 L239.9 865.4 L240.8 865.8 L241.7 866.2 L242.6 866.6 L243.5 867.0 L244.4 867.3 L245.3 867.6 L246.3 867.9 L247.2 868.2 L248.1 868.5 L249.0 868.7 L249.9 868.9 L250.8 869.2 L251.7 869.4 L252.6 869.5 L253.5 869.7 L254.4 869.9 L255.3 870.1 L256.2 870.2 L257.1 870.3 L258.0 870.5 L258.9 870.6 L259.8 870.7 L260.7 870.8 L261.6 870.9 L262.5 871.0 L263.4 871.1 L264.3 871.2 L265.2 871.3 L266.2 871.3 L267.1 871.4 L268.0 871.5 L268.9 871.5 L269.8 871.6 L270.7 871.6 L271.6 871.7 L272.5 871.7 L273.4 871.8 L274.3 871.8 L275.2 871.8 L276.1 871.9 L277.0 871.9 L277.9 871.9 L278.8 872.0 L279.7 872.0 L280.6 872.0 L281.5 872.0 L282.4 872.1 L283.3 872.1 L284.2 872.1 L285.1 872.1 L286.1 872.1 L287.0 872.2 L287.9 872.2 L288.8 872.2 L289.7 872.2 L290.6 872.2 L291.5 872.2 L292.4 872.2 L293.3 872.2 L294.2 872.3 L295.1 872.3 L296.0 872.3" fill="none" stroke="#000" stroke-width="2.70" stroke-linecap="round" stroke-linejoin="round"/>
</g>
<rect x="108.05" y="707.29" width="195.10" height="171.96" fill="none" stroke="#000" stroke-width="1.15"/>
<line x1="115.10" y1="879.25" x2="296.00" y2="879.25" stroke="#000" stroke-width="1.15"/>
<line x1="115.10" y1="879.25" x2="115.10" y2="886.65" stroke="#000" stroke-width="1.15"/>
<line x1="151.28" y1="879.25" x2="151.28" y2="886.65" stroke="#000" stroke-width="1.15"/>
<line x1="187.46" y1="879.25" x2="187.46" y2="886.65" stroke="#000" stroke-width="1.15"/>
<line x1="223.64" y1="879.25" x2="223.64" y2="886.65" stroke="#000" stroke-width="1.15"/>
<line x1="259.82" y1="879.25" x2="259.82" y2="886.65" stroke="#000" stroke-width="1.15"/>
<line x1="296.00" y1="879.25" x2="296.00" y2="886.65" stroke="#000" stroke-width="1.15"/>
<text x="115.10" y="904.10" font-size="14.26" text-anchor="middle" font-family="'Liberation Sans', sans-serif" fill="#000">0</text>
<text x="151.28" y="904.10" font-size="14.26" text-anchor="middle" font-family="'Liberation Sans', sans-serif" fill="#000">20</text>
<text x="187.46" y="904.10" font-size="14.26" text-anchor="middle" font-family="'Liberation Sans', sans-serif" fill="#000">40</text>
<text x="223.64" y="904.10" font-size="14.26" text-anchor="middle" font-family="'Liberation Sans', sans-serif" fill="#000">60</text>
<text x="259.82" y="904.10" font-size="14.26" text-anchor="middle" font-family="'Liberation Sans', sans-serif" fill="#000">80</text>
<text x="296.00" y="904.10" font-size="14.26" text-anchor="middle" font-family="'Liberation Sans', sans-serif" fill="#000">100</text>
<line x1="108.05" y1="713.50" x2="108.05" y2="872.40" stroke="#000" stroke-width="1.15"/>
<line x1="100.65" y1="872.40" x2="108.05" y2="872.40" stroke="#000" stroke-width="1.15"/>
<line x1="100.65" y1="849.70" x2="108.05" y2="849.70" stroke="#000" stroke-width="1.15"/>
<line x1="100.65" y1="827.00" x2="108.05" y2="827.00" stroke="#000" stroke-width="1.15"/>
<line x1="100.65" y1="804.30" x2="108.05" y2="804.30" stroke="#000" stroke-width="1.15"/>
<line x1="100.65" y1="781.60" x2="108.05" y2="781.60" stroke="#000" stroke-width="1.15"/>
<line x1="100.65" y1="758.90" x2="108.05" y2="758.90" stroke="#000" stroke-width="1.15"/>
<line x1="100.65" y1="736.20" x2="108.05" y2="736.20" stroke="#000" stroke-width="1.15"/>
<line x1="100.65" y1="713.50" x2="108.05" y2="713.50" stroke="#000" stroke-width="1.15"/>
<text x="92.05" y="872.40" font-size="14.26" text-anchor="middle" font-family="'Liberation Sans', sans-serif" fill="#000" transform="rotate(-90 92.05 872.40)">0</text>
<text x="92.05" y="827.00" font-size="14.26" text-anchor="middle" font-family="'Liberation Sans', sans-serif" fill="#000" transform="rotate(-90 92.05 827.00)">10000</text>
<text x="92.05" y="758.90" font-size="14.26" text-anchor="middle" font-family="'Liberation Sans', sans-serif" fill="#000" transform="rotate(-90 92.05 758.90)">25000</text>
<text x="205.60" y="918.10" font-size="17.40" text-anchor="middle" font-family="'Liberation Sans', sans-serif" fill="#000">time</text>
<text x="74.30" y="793.27" font-size="18.60" text-anchor="middle" font-family="'Liberation Sans', sans-serif" fill="#000" transform="rotate(-90 74.30 793.27)">I(t)</text>
<path d="M210.3 721.9 L232.7 721.9" fill="none" stroke="#000" stroke-width="2.50" stroke-linecap="round" stroke-linejoin="round"/>
<path d="M209.1 737.4 L224.0 737.4" fill="none" stroke="#FF0000" stroke-width="2.50" stroke-linecap="butt" stroke-linejoin="round"/>
<path d="M231.0 737.4 L233.9 737.4" fill="none" stroke="#FF0000" stroke-width="2.50" stroke-linecap="butt" stroke-linejoin="round"/>
<rect x="212.3" y="748.40" width="9.6" height="8.0" fill="#FE9B7D"/>
<text x="244.30" y="726.70" font-size="12.67" text-anchor="start" font-family="'Liberation Sans', sans-serif" fill="#000">true</text>
<text x="244.30" y="741.70" font-size="12.67" text-anchor="start" font-family="'Liberation Sans', sans-serif" fill="#000">post.med</text>
<text x="244.30" y="756.70" font-size="12.67" text-anchor="start" font-family="'Liberation Sans', sans-serif" fill="#000">95% CI</text>
<g clip-path="url(#c31)">
<path d="M344.6 871.1 L360.3 870.0 L370.4 868.3 L378.0 864.5 L384.3 858.1 L389.4 849.3 L394.5 836.6 L399.5 818.9 L403.3 801.2 L407.1 781.0 L410.9 760.7 L414.7 746.8 L418.5 738.0 L422.3 731.6 L426.1 726.6 L429.9 720.2 L432.4 718.2 L437.5 718.5 L441.8 719.0 L445.1 724.0 L448.9 728.3 L453.9 732.9 L459.0 738.0 L464.0 744.3 L469.1 751.4 L474.2 760.7 L479.2 769.6 L484.3 778.4 L489.4 787.3 L494.4 796.2 L499.5 805.0 L504.5 813.9 L509.6 822.7 L514.7 830.3 L519.7 836.6 L524.8 840.4 L529.8 843.0 L538.7 844.7 L538.7 869.5 L529.8 868.8 L522.2 867.0 L514.7 864.5 L509.6 861.9 L504.5 859.4 L499.5 856.9 L494.4 853.8 L489.4 850.6 L484.3 846.3 L479.2 841.7 L474.2 836.6 L469.1 831.6 L464.0 827.8 L459.0 824.0 L453.9 820.2 L448.9 816.4 L443.8 813.1 L438.7 810.1 L433.7 808.8 L429.9 808.8 L424.8 810.6 L419.8 812.6 L414.7 816.9 L409.6 824.0 L404.6 832.8 L399.5 843.0 L394.5 853.1 L389.4 860.7 L384.3 865.7 L378.0 869.0 L370.4 870.8 L360.3 872.1 L344.6 873.1Z" fill="#FE9B7D" stroke="none"/>
<path d="M344.6 872.1 L345.6 872.1 L346.6 872.1 L347.6 872.0 L348.6 872.0 L349.6 872.0 L350.6 872.0 L351.6 872.0 L352.6 871.9 L353.6 871.9 L354.6 871.8 L355.6 871.8 L356.6 871.8 L357.6 871.7 L358.6 871.7 L359.6 871.6 L360.6 871.5 L361.6 871.4 L362.6 871.3 L363.6 871.1 L364.6 870.9 L365.6 870.7 L366.6 870.5 L367.6 870.2 L368.6 870.0 L369.6 869.7 L370.6 869.5 L371.6 869.2 L372.6 868.9 L373.7 868.7 L374.7 868.3 L375.7 868.0 L376.7 867.6 L377.7 867.2 L378.7 866.7 L379.7 866.1 L380.7 865.3 L381.7 864.5 L382.7 863.6 L383.7 862.6 L384.7 861.6 L385.7 860.4 L386.7 859.1 L387.7 857.6 L388.7 856.1 L389.7 854.4 L390.7 852.6 L391.7 850.5 L392.7 848.4 L393.7 846.1 L394.7 843.7 L395.7 841.2 L396.7 838.5 L397.7 835.7 L398.7 832.8 L399.7 829.8 L400.7 826.7 L401.7 823.4 L402.7 820.1 L403.7 816.7 L404.7 813.5 L405.7 810.4 L406.7 807.2 L407.7 804.1 L408.7 801.1 L409.7 798.6 L410.7 796.2 L411.7 794.1 L412.7 792.1 L413.7 790.2 L414.7 788.6 L415.7 787.1 L416.7 785.8 L417.7 784.6 L418.7 783.4 L419.7 782.3 L420.7 781.2 L421.7 780.1 L422.7 779.1 L423.7 778.2 L424.7 777.3 L425.7 776.4 L426.7 775.6 L427.7 774.8 L428.7 774.1 L429.7 773.5 L430.7 773.0 L431.7 772.5 L432.7 772.0 L433.7 771.7 L434.7 771.4 L435.7 771.2 L436.7 771.0 L437.7 770.9 L438.7 770.9 L439.7 770.9 L440.7 771.2 L441.7 771.5 L442.7 772.2 L443.7 773.1 L444.7 774.2 L445.7 775.3 L446.7 776.3 L447.7 777.6 L448.7 778.9 L449.7 780.2 L450.7 781.5 L451.7 782.6 L452.7 783.7 L453.7 784.7 L454.7 785.6 L455.7 786.6 L456.8 787.6 L457.8 788.6 L458.8 789.6 L459.8 790.5 L460.8 791.6 L461.8 792.6 L462.8 793.7 L463.8 794.9 L464.8 796.0 L465.8 797.2 L466.8 798.4 L467.8 799.6 L468.8 800.7 L469.8 801.9 L470.8 803.1 L471.8 804.4 L472.8 805.8 L473.8 807.2 L474.8 808.6 L475.8 810.0 L476.8 811.4 L477.8 812.8 L478.8 814.3 L479.8 815.7 L480.8 817.1 L481.8 818.4 L482.8 819.8 L483.8 821.2 L484.8 822.6 L485.8 823.9 L486.8 825.2 L487.8 826.5 L488.8 827.7 L489.8 829.0 L490.8 830.2 L491.8 831.5 L492.8 832.7 L493.8 834.0 L494.8 835.3 L495.8 836.5 L496.8 837.7 L497.8 838.9 L498.8 840.1 L499.8 841.2 L500.8 842.4 L501.8 843.5 L502.8 844.6 L503.8 845.8 L504.8 846.9 L505.8 848.0 L506.8 849.0 L507.8 850.0 L508.8 851.0 L509.8 851.9 L510.8 852.8 L511.8 853.6 L512.8 854.4 L513.8 855.1 L514.8 855.8 L515.8 856.5 L516.8 857.1 L517.8 857.8 L518.8 858.5 L519.8 859.2 L520.8 859.9 L521.8 860.5 L522.8 861.0 L523.8 861.5 L524.8 862.0 L525.8 862.4 L526.8 862.9 L527.8 863.3 L528.8 863.6 L529.8 864.0" fill="none" stroke="#FF0000" stroke-width="2.20" stroke-linecap="butt" stroke-linejoin="round" stroke-dasharray="8.3 9.1"/>
<path d="M344.6 872.9 L345.5 872.7 L346.4 872.6 L347.3 872.2 L348.2 872.5 L349.1 872.5 L350.0 872.6 L350.9 872.4 L351.8 872.5 L352.7 872.4 L353.6 872.3 L354.5 872.7 L355.4 872.6 L356.4 872.7 L357.3 872.4 L358.2 872.2 L359.1 872.1 L360.0 871.7 L360.9 872.0 L361.8 871.3 L362.7 870.5 L363.6 869.8 L364.5 869.7 L365.4 869.2 L366.3 868.8 L367.2 868.9 L368.1 869.2 L369.0 869.0 L369.9 868.9 L370.8 869.0 L371.7 869.2 L372.6 869.4 L373.5 868.8 L374.4 868.9 L375.3 868.6 L376.2 867.7 L377.1 867.4 L378.0 866.8 L378.9 866.7 L379.8 865.7 L380.7 864.5 L381.6 864.3 L382.5 863.2 L383.4 861.9 L384.3 861.3 L385.2 860.2 L386.1 858.9 L387.0 857.6 L387.9 855.2 L388.8 854.3 L389.8 853.2 L390.7 851.7 L391.6 850.4 L392.5 849.1 L393.4 848.0 L394.3 845.3 L395.2 844.5 L396.1 841.5 L397.0 840.2 L397.9 837.4 L398.8 836.7 L399.7 834.4 L400.6 830.7 L401.5 828.6 L402.4 823.3 L403.3 819.3 L404.2 814.6 L405.1 808.5 L406.0 806.2 L406.9 805.7 L407.8 802.3 L408.7 803.4 L409.6 800.8 L410.5 799.9 L411.4 797.1 L412.3 796.2 L413.2 795.2 L414.1 794.0 L415.0 791.5 L415.9 792.7 L416.8 788.7 L417.7 788.8 L418.6 790.3 L419.5 791.2 L420.4 793.6 L421.3 795.9 L422.2 795.6 L423.1 795.1 L424.1 793.4 L425.0 795.3 L425.9 795.8 L426.8 796.1 L427.7 795.9 L428.6 797.3 L429.5 796.8 L430.4 797.6 L431.3 798.9 L432.2 797.9 L433.1 798.3 L434.0 800.0 L434.9 798.2 L435.8 795.8 L436.7 796.4 L437.6 796.6 L438.5 796.9 L439.4 795.8 L440.3 795.9 L441.2 796.7 L442.1 798.5 L443.0 798.6 L443.9 798.3 L444.8 799.0 L445.7 799.3 L446.6 800.8 L447.5 800.1 L448.4 801.6 L449.3 801.8 L450.2 800.7 L451.1 799.2 L452.0 801.8 L452.9 800.9 L453.8 802.7 L454.7 802.6 L455.6 802.7 L456.5 805.3 L457.5 806.2 L458.4 806.8 L459.3 808.1 L460.2 808.6 L461.1 812.0 L462.0 814.1 L462.9 816.3 L463.8 815.7 L464.7 814.7 L465.6 815.5 L466.5 814.8 L467.4 815.4 L468.3 818.0 L469.2 818.7 L470.1 819.2 L471.0 821.1 L471.9 823.2 L472.8 825.0 L473.7 827.6 L474.6 828.2 L475.5 830.8 L476.4 832.5 L477.3 834.2 L478.2 837.2 L479.1 838.8 L480.0 838.9 L480.9 840.4 L481.8 839.9 L482.7 841.3 L483.6 842.2 L484.5 843.4 L485.4 844.1 L486.3 845.6 L487.2 846.7 L488.1 848.4 L489.0 848.7 L489.9 849.9 L490.9 850.5 L491.8 850.7 L492.7 852.8 L493.6 852.2 L494.5 852.0 L495.4 853.3 L496.3 852.6 L497.2 853.3 L498.1 853.8 L499.0 853.6 L499.9 853.6 L500.8 853.3 L501.7 853.1 L502.6 852.7 L503.5 853.5 L504.4 854.7 L505.3 855.7 L506.2 856.1 L507.1 857.0 L508.0 857.2 L508.9 857.5 L509.8 858.3 L510.7 858.3 L511.6 859.3 L512.5 859.9 L513.4 861.1 L514.3 861.9 L515.2 862.1 L516.1 862.5 L517.0 862.7 L517.9 863.6 L518.8 864.2 L519.7 864.6 L520.6 864.5 L521.5 865.3 L522.4 865.3 L523.3 865.5 L524.3 866.0 L525.2 866.6 L526.1 867.2 L527.0 867.6 L527.9 868.1 L528.8 868.5 L529.7 868.8 L530.6 868.7 L531.5 868.3 L532.4 868.4 L533.3 868.2 L534.2 868.2 L535.1 868.7 L536.0 868.3 L536.9 868.9 L537.8 868.5 L538.7 868.8" fill="none" stroke="#000" stroke-width="2.50" stroke-linecap="round" stroke-linejoin="round"/>
</g>
<rect x="337.50" y="707.29" width="198.90" height="171.96" fill="none" stroke="#000" stroke-width="1.15"/>
<line x1="344.80" y1="879.25" x2="509.00" y2="879.25" stroke="#000" stroke-width="1.15"/>
<line x1="344.80" y1="879.25" x2="344.80" y2="886.65" stroke="#000" stroke-width="1.15"/>
<line x1="385.85" y1="879.25" x2="385.85" y2="886.65" stroke="#000" stroke-width="1.15"/>
<line x1="426.90" y1="879.25" x2="426.90" y2="886.65" stroke="#000" stroke-width="1.15"/>
<line x1="467.95" y1="879.25" x2="467.95" y2="886.65" stroke="#000" stroke-width="1.15"/>
<line x1="509.00" y1="879.25" x2="509.00" y2="886.65" stroke="#000" stroke-width="1.15"/>
<text x="344.80" y="904.10" font-size="14.26" text-anchor="middle" font-family="'Liberation Sans', sans-serif" fill="#000">0</text>
<text x="385.85" y="904.10" font-size="14.26" text-anchor="middle" font-family="'Liberation Sans', sans-serif" fill="#000">20</text>
<text x="426.90" y="904.10" font-size="14.26" text-anchor="middle" font-family="'Liberation Sans', sans-serif" fill="#000">40</text>
<text x="467.95" y="904.10" font-size="14.26" text-anchor="middle" font-family="'Liberation Sans', sans-serif" fill="#000">60</text>
<text x="509.00" y="904.10" font-size="14.26" text-anchor="middle" font-family="'Liberation Sans', sans-serif" fill="#000">80</text>
<line x1="337.50" y1="722.88" x2="337.50" y2="872.40" stroke="#000" stroke-width="1.15"/>
<line x1="330.10" y1="872.40" x2="337.50" y2="872.40" stroke="#000" stroke-width="1.15"/>
<line x1="330.10" y1="835.02" x2="337.50" y2="835.02" stroke="#000" stroke-width="1.15"/>
<line x1="330.10" y1="797.64" x2="337.50" y2="797.64" stroke="#000" stroke-width="1.15"/>
<line x1="330.10" y1="760.26" x2="337.50" y2="760.26" stroke="#000" stroke-width="1.15"/>
<line x1="330.10" y1="722.88" x2="337.50" y2="722.88" stroke="#000" stroke-width="1.15"/>
<text x="321.50" y="872.40" font-size="14.26" text-anchor="middle" font-family="'Liberation Sans', sans-serif" fill="#000" transform="rotate(-90 321.50 872.40)">0</text>
<text x="321.50" y="835.02" font-size="14.26" text-anchor="middle" font-family="'Liberation Sans', sans-serif" fill="#000" transform="rotate(-90 321.50 835.02)">200</text>
<text x="321.50" y="797.64" font-size="14.26" text-anchor="middle" font-family="'Liberation Sans', sans-serif" fill="#000" transform="rotate(-90 321.50 797.64)">400</text>
<text x="321.50" y="760.26" font-size="14.26" text-anchor="middle" font-family="'Liberation Sans', sans-serif" fill="#000" transform="rotate(-90 321.50 760.26)">600</text>
<text x="321.50" y="722.88" font-size="14.26" text-anchor="middle" font-family="'Liberation Sans', sans-serif" fill="#000" transform="rotate(-90 321.50 722.88)">800</text>
<text x="436.95" y="918.10" font-size="17.40" text-anchor="middle" font-family="'Liberation Sans', sans-serif" fill="#000">time</text>
<g clip-path="url(#c32)">
<path d="M577.6 872.1 L618.6 871.1 L631.3 869.0 L638.9 864.5 L643.9 858.1 L649.0 849.3 L654.0 839.2 L659.1 829.0 L664.2 818.9 L667.9 808.8 L671.7 796.2 L675.5 781.0 L679.3 765.8 L683.1 750.6 L686.9 738.0 L690.7 727.1 L695.8 729.9 L699.6 740.5 L703.4 753.1 L707.2 767.1 L711.0 781.0 L714.8 794.9 L718.6 808.8 L722.4 821.5 L726.1 832.8 L729.9 841.7 L735.0 850.6 L740.1 856.9 L745.1 860.7 L750.2 862.7 L757.8 864.0 L762.8 864.5 L762.8 873.1 L755.2 872.8 L745.1 871.8 L737.5 870.0 L729.9 867.0 L724.9 864.0 L719.8 859.9 L714.8 855.6 L709.7 850.6 L704.6 844.7 L699.6 839.7 L694.5 835.4 L689.5 832.1 L684.4 830.8 L679.3 831.6 L674.3 834.1 L669.2 838.7 L664.2 843.7 L659.1 849.3 L654.0 854.4 L649.0 859.4 L643.9 864.0 L638.9 867.5 L631.3 870.8 L618.6 872.6 L577.6 873.3Z" fill="#FE9B7D" stroke="none"/>
<path d="M577.6 872.6 L578.6 872.6 L579.6 872.6 L580.6 872.6 L581.6 872.6 L582.6 872.6 L583.6 872.6 L584.6 872.5 L585.6 872.5 L586.6 872.5 L587.6 872.5 L588.6 872.5 L589.6 872.5 L590.6 872.5 L591.6 872.5 L592.6 872.4 L593.6 872.4 L594.6 872.4 L595.6 872.4 L596.6 872.4 L597.6 872.3 L598.6 872.3 L599.6 872.3 L600.6 872.3 L601.6 872.2 L602.6 872.2 L603.6 872.2 L604.6 872.1 L605.6 872.1 L606.7 872.1 L607.7 872.0 L608.7 872.0 L609.7 872.0 L610.7 871.9 L611.7 871.9 L612.7 871.8 L613.7 871.8 L614.7 871.7 L615.7 871.7 L616.7 871.7 L617.7 871.6 L618.7 871.6 L619.7 871.5 L620.7 871.4 L621.7 871.3 L622.7 871.1 L623.7 870.9 L624.7 870.7 L625.7 870.5 L626.7 870.3 L627.7 870.0 L628.7 869.7 L629.7 869.4 L630.7 869.1 L631.7 868.7 L632.7 868.4 L633.7 868.0 L634.7 867.6 L635.7 867.3 L636.7 866.9 L637.7 866.4 L638.7 865.8 L639.7 865.2 L640.7 864.5 L641.7 863.8 L642.7 863.0 L643.7 862.1 L644.7 861.2 L645.7 860.1 L646.7 859.0 L647.7 857.7 L648.7 856.4 L649.7 855.0 L650.7 853.7 L651.7 852.4 L652.7 851.0 L653.7 849.7 L654.7 848.2 L655.7 846.8 L656.7 845.3 L657.7 843.8 L658.7 842.2 L659.7 840.6 L660.7 839.0 L661.7 837.3 L662.7 835.7 L663.7 833.9 L664.7 832.2 L665.7 830.3 L666.7 828.5 L667.7 826.7 L668.7 824.9 L669.7 823.1 L670.7 821.2 L671.7 819.4 L672.7 817.6 L673.7 816.0 L674.7 814.5 L675.7 813.1 L676.7 811.7 L677.7 810.5 L678.7 809.4 L679.7 808.4 L680.7 807.5 L681.7 806.6 L682.7 805.9 L683.7 805.3 L684.7 804.9 L685.7 804.6 L686.7 804.4 L687.7 804.3 L688.7 804.3 L689.8 804.4 L690.8 804.6 L691.8 804.9 L692.8 805.4 L693.8 806.2 L694.8 807.3 L695.8 808.5 L696.8 809.7 L697.8 811.0 L698.8 812.4 L699.8 813.9 L700.8 815.5 L701.8 817.1 L702.8 818.7 L703.8 820.5 L704.8 822.2 L705.8 824.0 L706.8 825.8 L707.8 827.6 L708.8 829.3 L709.8 831.1 L710.8 832.8 L711.8 834.6 L712.8 836.3 L713.8 838.1 L714.8 840.0 L715.8 841.7 L716.8 843.4 L717.8 845.0 L718.8 846.5 L719.8 847.9 L720.8 849.3 L721.8 850.6 L722.8 851.8 L723.8 853.0 L724.8 854.2 L725.8 855.2 L726.8 856.3 L727.8 857.3 L728.8 858.2 L729.8 859.2 L730.8 860.1 L731.8 860.9 L732.8 861.7 L733.8 862.3 L734.8 863.0 L735.8 863.6 L736.8 864.2 L737.8 864.7 L738.8 865.2 L739.8 865.6 L740.8 866.0 L741.8 866.4 L742.8 866.8 L743.8 867.2 L744.8 867.5 L745.8 867.8 L746.8 868.1 L747.8 868.3 L748.8 868.5 L749.8 868.7 L750.8 868.9 L751.8 869.1 L752.8 869.2 L753.8 869.3 L754.8 869.5 L755.8 869.6 L756.8 869.7 L757.8 869.8 L758.8 869.9 L759.8 870.0 L760.8 870.1 L761.8 870.2 L762.8 870.3" fill="none" stroke="#000" stroke-width="2.10" stroke-linecap="butt" stroke-linejoin="round" stroke-dasharray="8.3 9.1"/>
<path d="M577.6 872.6 L578.6 872.6 L579.6 872.6 L580.6 872.6 L581.6 872.6 L582.6 872.6 L583.6 872.6 L584.6 872.6 L585.6 872.5 L586.7 872.5 L587.7 872.5 L588.7 872.5 L589.7 872.5 L590.7 872.5 L591.7 872.5 L592.7 872.5 L593.7 872.5 L594.7 872.5 L595.7 872.5 L596.7 872.5 L597.7 872.4 L598.7 872.4 L599.7 872.4 L600.7 872.4 L601.7 872.4 L602.7 872.4 L603.7 872.4 L604.7 872.3 L605.7 872.3 L606.7 872.3 L607.7 872.3 L608.7 872.2 L609.7 872.2 L610.7 872.1 L611.7 872.1 L612.8 872.0 L613.8 871.9 L614.8 871.9 L615.8 871.8 L616.8 871.7 L617.8 871.6 L618.8 871.5 L619.8 871.4 L620.8 871.3 L621.8 871.2 L622.8 871.1 L623.8 871.0 L624.8 870.8 L625.8 870.6 L626.8 870.4 L627.8 870.2 L628.8 870.0 L629.8 869.8 L630.8 869.4 L631.8 869.1 L632.8 868.7 L633.8 868.2 L634.8 867.8 L635.8 867.2 L636.8 866.7 L637.9 866.1 L638.9 865.4 L639.9 864.7 L640.9 863.9 L641.9 863.1 L642.9 862.3 L643.9 861.3 L644.9 860.3 L645.9 859.2 L646.9 858.1 L647.9 856.9 L648.9 855.7 L649.9 854.4 L650.9 853.1 L651.9 851.7 L652.9 850.2 L653.9 848.7 L654.9 847.3 L655.9 845.9 L656.9 844.4 L657.9 843.0 L658.9 841.6 L659.9 840.2 L660.9 838.8 L661.9 837.5 L663.0 836.2 L664.0 834.9 L665.0 833.7 L666.0 832.5 L667.0 831.4 L668.0 830.3 L669.0 829.3 L670.0 828.3 L671.0 827.3 L672.0 826.5 L673.0 825.8 L674.0 825.1 L675.0 824.5 L676.0 823.9 L677.0 823.5 L678.0 823.2 L679.0 823.1 L680.0 823.1 L681.0 823.0 L682.0 823.0 L683.0 823.0 L684.0 823.0 L685.0 823.2 L686.0 823.4 L687.0 823.7 L688.0 824.0 L689.1 824.3 L690.1 824.7 L691.1 825.3 L692.1 826.0 L693.1 826.7 L694.1 827.5 L695.1 828.2 L696.1 829.0 L697.1 829.8 L698.1 830.7 L699.1 831.6 L700.1 832.6 L701.1 833.7 L702.1 834.9 L703.1 836.1 L704.1 837.3 L705.1 838.5 L706.1 839.6 L707.1 840.7 L708.1 841.9 L709.1 843.1 L710.1 844.2 L711.1 845.5 L712.1 846.7 L713.1 847.9 L714.2 849.1 L715.2 850.2 L716.2 851.3 L717.2 852.4 L718.2 853.5 L719.2 854.5 L720.2 855.4 L721.2 856.3 L722.2 857.2 L723.2 858.0 L724.2 858.9 L725.2 859.7 L726.2 860.5 L727.2 861.3 L728.2 862.0 L729.2 862.7 L730.2 863.4 L731.2 864.0 L732.2 864.5 L733.2 865.1 L734.2 865.6 L735.2 866.0 L736.2 866.5 L737.2 866.9 L738.2 867.3 L739.2 867.7 L740.3 868.1 L741.3 868.4 L742.3 868.7 L743.3 869.0 L744.3 869.3 L745.3 869.6 L746.3 869.8 L747.3 870.0 L748.3 870.2 L749.3 870.4 L750.3 870.6 L751.3 870.8 L752.3 871.0 L753.3 871.1 L754.3 871.2 L755.3 871.3 L756.3 871.4 L757.3 871.5 L758.3 871.6 L759.3 871.6 L760.3 871.7 L761.3 871.8 L762.3 871.8 L763.3 871.8" fill="none" stroke="#FF0000" stroke-width="2.50" stroke-linecap="round" stroke-linejoin="round"/>
</g>
<rect x="571.10" y="707.29" width="199.10" height="171.96" fill="none" stroke="#000" stroke-width="1.15"/>
<line x1="578.20" y1="879.25" x2="742.40" y2="879.25" stroke="#000" stroke-width="1.15"/>
<line x1="578.20" y1="879.25" x2="578.20" y2="886.65" stroke="#000" stroke-width="1.15"/>
<line x1="619.25" y1="879.25" x2="619.25" y2="886.65" stroke="#000" stroke-width="1.15"/>
<line x1="660.30" y1="879.25" x2="660.30" y2="886.65" stroke="#000" stroke-width="1.15"/>
<line x1="701.35" y1="879.25" x2="701.35" y2="886.65" stroke="#000" stroke-width="1.15"/>
<line x1="742.40" y1="879.25" x2="742.40" y2="886.65" stroke="#000" stroke-width="1.15"/>
<text x="578.20" y="904.10" font-size="14.26" text-anchor="middle" font-family="'Liberation Sans', sans-serif" fill="#000">0</text>
<text x="619.25" y="904.10" font-size="14.26" text-anchor="middle" font-family="'Liberation Sans', sans-serif" fill="#000">20</text>
<text x="660.30" y="904.10" font-size="14.26" text-anchor="middle" font-family="'Liberation Sans', sans-serif" fill="#000">40</text>
<text x="701.35" y="904.10" font-size="14.26" text-anchor="middle" font-family="'Liberation Sans', sans-serif" fill="#000">60</text>
<text x="742.40" y="904.10" font-size="14.26" text-anchor="middle" font-family="'Liberation Sans', sans-serif" fill="#000">80</text>
<line x1="571.10" y1="713.40" x2="571.10" y2="872.40" stroke="#000" stroke-width="1.15"/>
<line x1="563.70" y1="872.40" x2="571.10" y2="872.40" stroke="#000" stroke-width="1.15"/>
<line x1="563.70" y1="840.60" x2="571.10" y2="840.60" stroke="#000" stroke-width="1.15"/>
<line x1="563.70" y1="808.80" x2="571.10" y2="808.80" stroke="#000" stroke-width="1.15"/>
<line x1="563.70" y1="777.00" x2="571.10" y2="777.00" stroke="#000" stroke-width="1.15"/>
<line x1="563.70" y1="745.20" x2="571.10" y2="745.20" stroke="#000" stroke-width="1.15"/>
<line x1="563.70" y1="713.40" x2="571.10" y2="713.40" stroke="#000" stroke-width="1.15"/>
<text x="555.10" y="872.40" font-size="14.26" text-anchor="middle" font-family="'Liberation Sans', sans-serif" fill="#000" transform="rotate(-90 555.10 872.40)">0</text>
<text x="555.10" y="808.80" font-size="14.26" text-anchor="middle" font-family="'Liberation Sans', sans-serif" fill="#000" transform="rotate(-90 555.10 808.80)">10000</text>
<text x="555.10" y="745.20" font-size="14.26" text-anchor="middle" font-family="'Liberation Sans', sans-serif" fill="#000" transform="rotate(-90 555.10 745.20)">20000</text>
<text x="670.65" y="918.10" font-size="17.40" text-anchor="middle" font-family="'Liberation Sans', sans-serif" fill="#000">time</text>
</svg>
</body></html>
